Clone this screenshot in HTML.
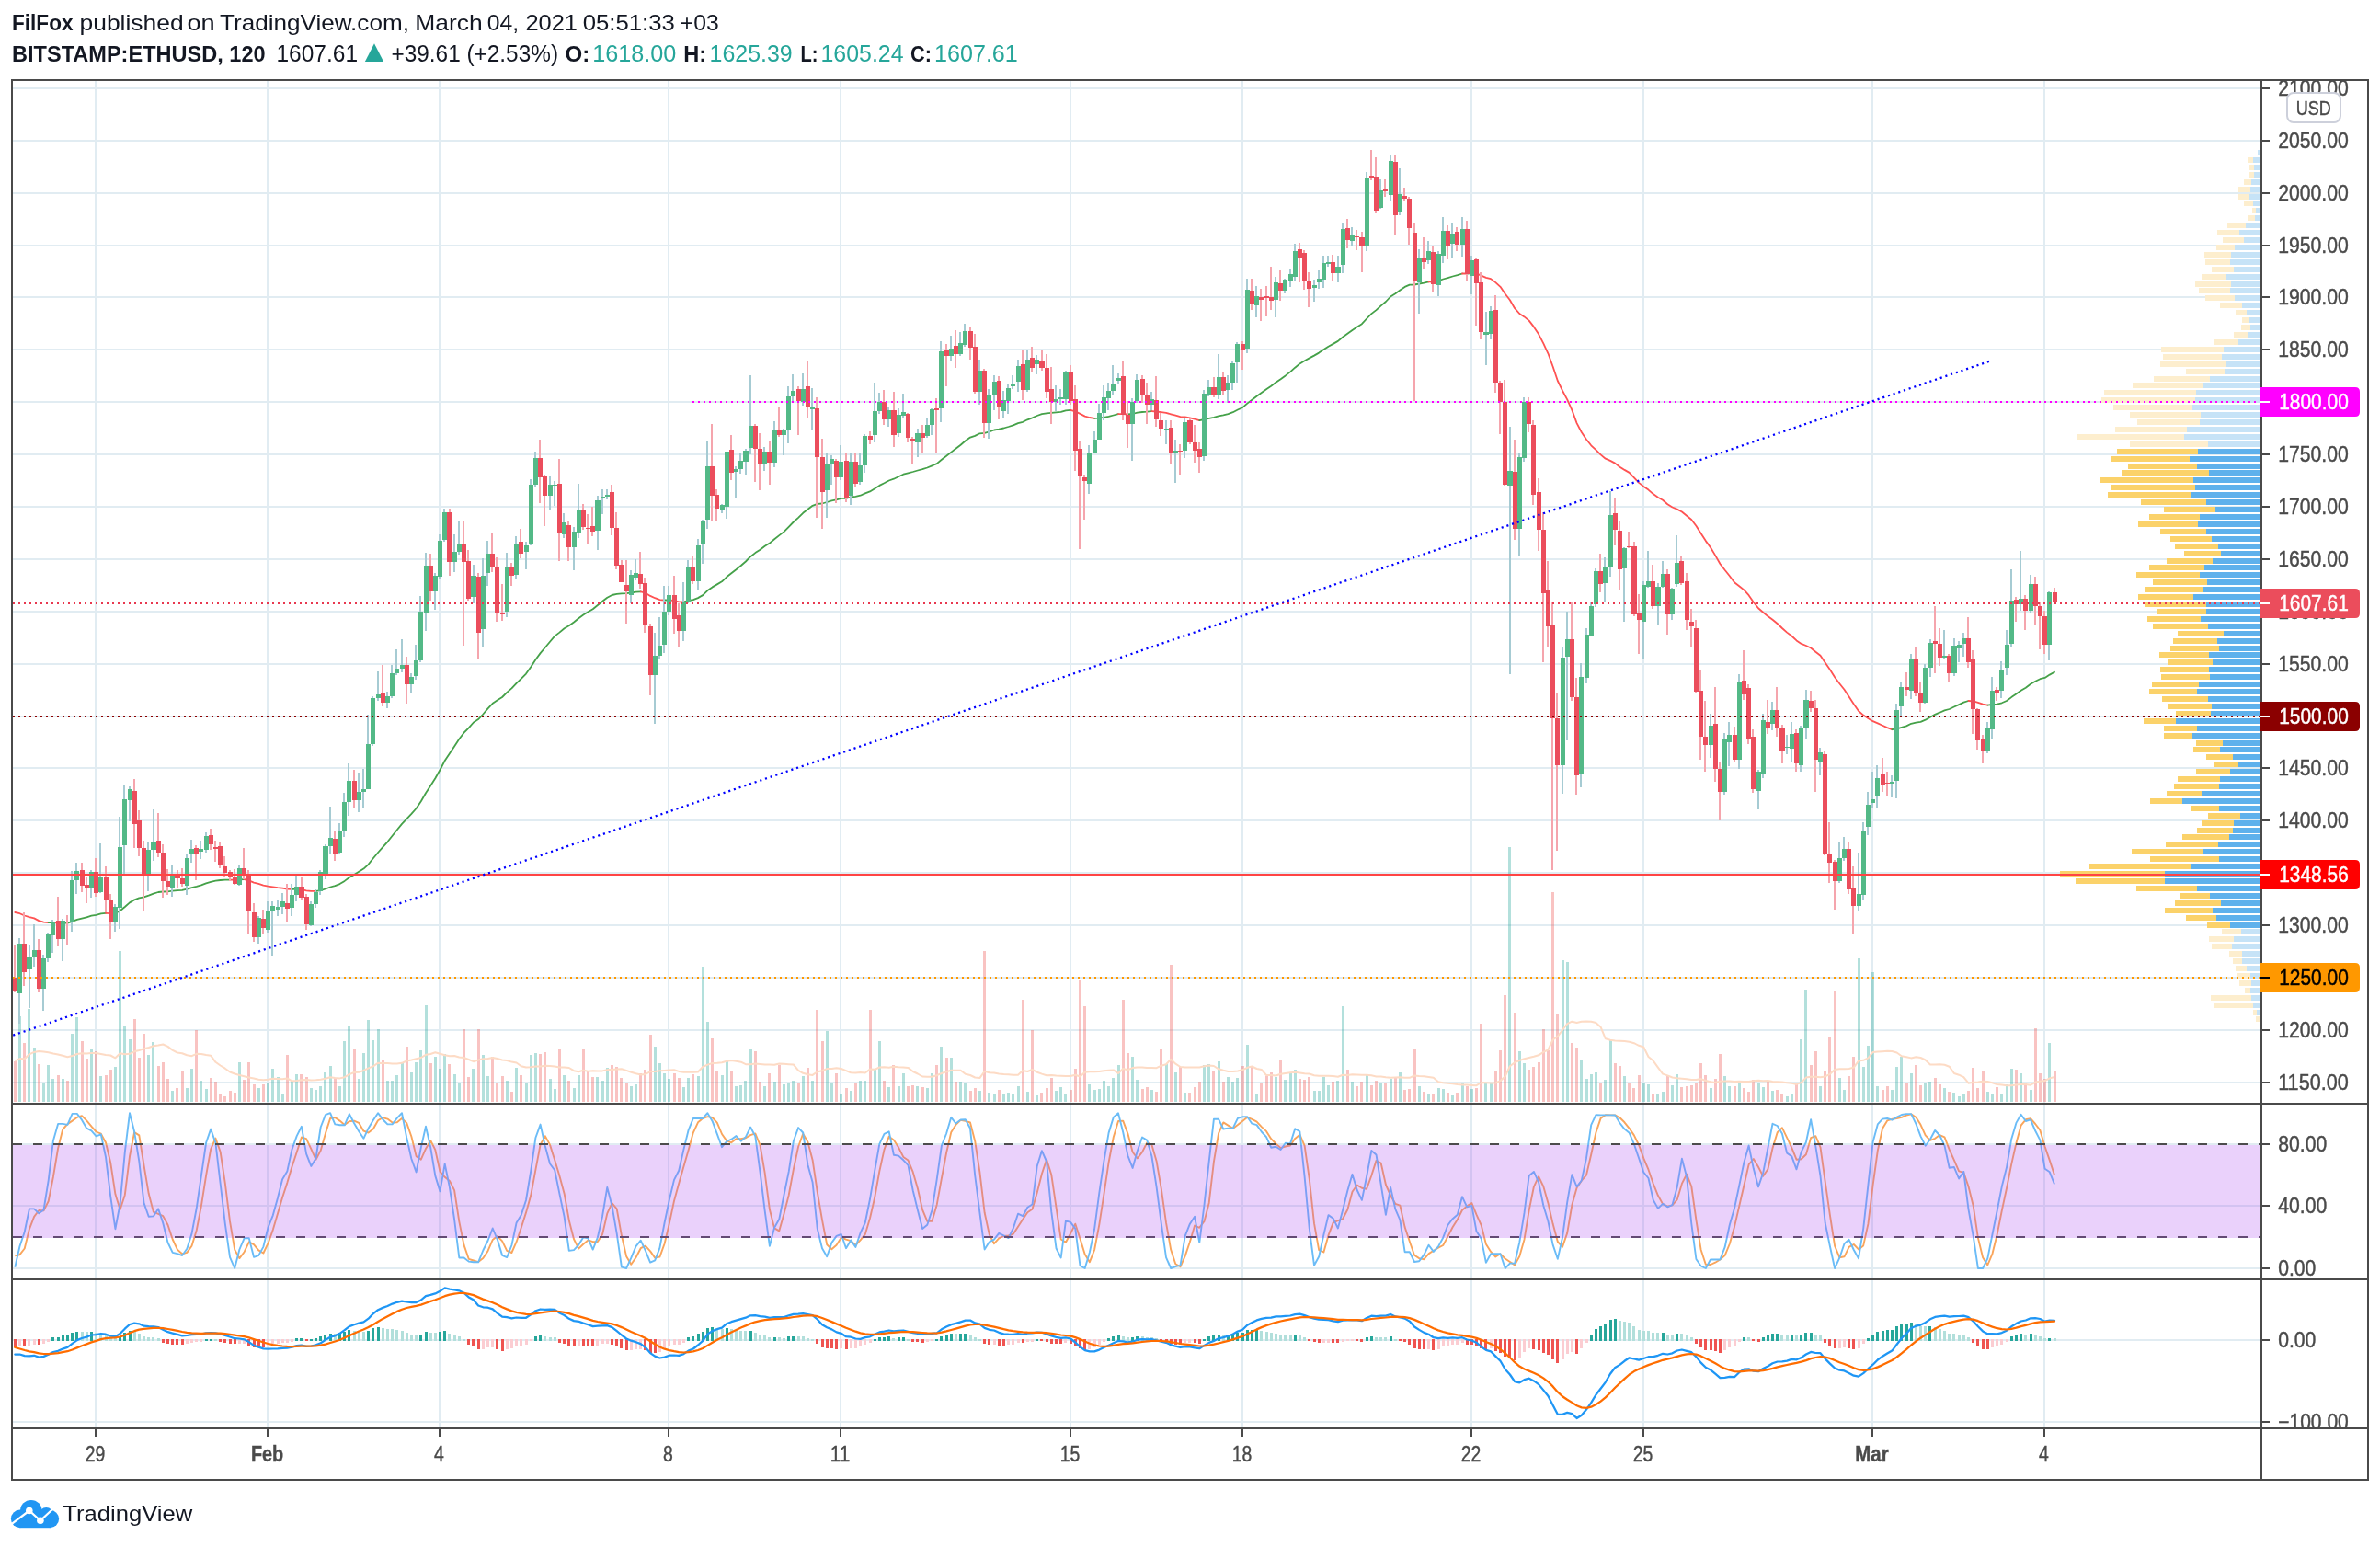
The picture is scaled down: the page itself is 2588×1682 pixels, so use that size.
<!DOCTYPE html>
<html><head><meta charset="utf-8"><title>ETHUSD chart</title>
<style>html,body{margin:0;padding:0;background:#fff;}svg{display:block;will-change:transform;}</style>
</head><body>
<svg width="2588" height="1682" viewBox="0 0 2588 1682" font-family='"Liberation Sans", sans-serif'>
<rect x="0.00" y="0.00" width="2588.00" height="1682.00" fill="#ffffff" />
<defs>
<clipPath id="cm"><rect x="14" y="88" width="2444" height="1111"/></clipPath>
<clipPath id="cs"><rect x="14" y="1201" width="2444" height="189"/></clipPath>
<clipPath id="cd"><rect x="14" y="1392" width="2444" height="160"/></clipPath>
<clipPath id="ca1"><rect x="2460" y="88" width="114" height="1111"/></clipPath>
<clipPath id="ca3"><rect x="2460" y="1392" width="114" height="160"/></clipPath>
</defs>
<g shape-rendering="crispEdges">
<rect x="103.00" y="88.00" width="2.00" height="1464.00" fill="#e1ecf2" />
<rect x="290.00" y="88.00" width="2.00" height="1464.00" fill="#e1ecf2" />
<rect x="477.00" y="88.00" width="2.00" height="1464.00" fill="#e1ecf2" />
<rect x="726.00" y="88.00" width="2.00" height="1464.00" fill="#e1ecf2" />
<rect x="913.00" y="88.00" width="2.00" height="1464.00" fill="#e1ecf2" />
<rect x="1163.00" y="88.00" width="2.00" height="1464.00" fill="#e1ecf2" />
<rect x="1350.00" y="88.00" width="2.00" height="1464.00" fill="#e1ecf2" />
<rect x="1599.00" y="88.00" width="2.00" height="1464.00" fill="#e1ecf2" />
<rect x="1786.00" y="88.00" width="2.00" height="1464.00" fill="#e1ecf2" />
<rect x="2035.00" y="88.00" width="2.00" height="1464.00" fill="#e1ecf2" />
<rect x="2222.00" y="88.00" width="2.00" height="1464.00" fill="#e1ecf2" />
<rect x="14.00" y="1176.00" width="2444.00" height="2.00" fill="#e1ecf2" />
<rect x="14.00" y="1119.00" width="2444.00" height="2.00" fill="#e1ecf2" />
<rect x="14.00" y="1062.00" width="2444.00" height="2.00" fill="#e1ecf2" />
<rect x="14.00" y="1005.00" width="2444.00" height="2.00" fill="#e1ecf2" />
<rect x="14.00" y="948.00" width="2444.00" height="2.00" fill="#e1ecf2" />
<rect x="14.00" y="891.00" width="2444.00" height="2.00" fill="#e1ecf2" />
<rect x="14.00" y="834.00" width="2444.00" height="2.00" fill="#e1ecf2" />
<rect x="14.00" y="778.00" width="2444.00" height="2.00" fill="#e1ecf2" />
<rect x="14.00" y="721.00" width="2444.00" height="2.00" fill="#e1ecf2" />
<rect x="14.00" y="664.00" width="2444.00" height="2.00" fill="#e1ecf2" />
<rect x="14.00" y="607.00" width="2444.00" height="2.00" fill="#e1ecf2" />
<rect x="14.00" y="550.00" width="2444.00" height="2.00" fill="#e1ecf2" />
<rect x="14.00" y="493.00" width="2444.00" height="2.00" fill="#e1ecf2" />
<rect x="14.00" y="436.00" width="2444.00" height="2.00" fill="#e1ecf2" />
<rect x="14.00" y="379.00" width="2444.00" height="2.00" fill="#e1ecf2" />
<rect x="14.00" y="322.00" width="2444.00" height="2.00" fill="#e1ecf2" />
<rect x="14.00" y="266.00" width="2444.00" height="2.00" fill="#e1ecf2" />
<rect x="14.00" y="209.00" width="2444.00" height="2.00" fill="#e1ecf2" />
<rect x="14.00" y="152.00" width="2444.00" height="2.00" fill="#e1ecf2" />
<rect x="14.00" y="95.00" width="2444.00" height="2.00" fill="#e1ecf2" />
<rect x="14.00" y="1378.00" width="2444.00" height="2.00" fill="#e1ecf2" />
<rect x="14.00" y="1310.00" width="2444.00" height="2.00" fill="#e1ecf2" />
<rect x="14.00" y="1243.00" width="2444.00" height="2.00" fill="#e1ecf2" />
<rect x="14.00" y="1456.00" width="2444.00" height="2.00" fill="#e1ecf2" />
<rect x="14.00" y="1545.00" width="2444.00" height="2.00" fill="#e1ecf2" />
</g>
<g clip-path="url(#cm)" shape-rendering="crispEdges">
<rect x="15.00" y="1154.00" width="3.00" height="44.00" fill="rgba(239,83,80,0.35)" />
<rect x="20.00" y="1105.00" width="3.00" height="93.00" fill="rgba(38,166,154,0.35)" />
<rect x="25.00" y="1134.00" width="3.00" height="64.00" fill="rgba(239,83,80,0.35)" />
<rect x="30.00" y="1097.00" width="3.00" height="101.00" fill="rgba(38,166,154,0.35)" />
<rect x="36.00" y="1139.00" width="3.00" height="59.00" fill="rgba(38,166,154,0.35)" />
<rect x="41.00" y="1157.00" width="3.00" height="41.00" fill="rgba(239,83,80,0.35)" />
<rect x="46.00" y="1177.00" width="3.00" height="21.00" fill="rgba(38,166,154,0.35)" />
<rect x="51.00" y="1158.00" width="3.00" height="40.00" fill="rgba(38,166,154,0.35)" />
<rect x="56.00" y="1173.00" width="3.00" height="25.00" fill="rgba(38,166,154,0.35)" />
<rect x="62.00" y="1169.00" width="3.00" height="29.00" fill="rgba(239,83,80,0.35)" />
<rect x="67.00" y="1173.00" width="3.00" height="25.00" fill="rgba(38,166,154,0.35)" />
<rect x="72.00" y="1175.00" width="3.00" height="23.00" fill="rgba(239,83,80,0.35)" />
<rect x="77.00" y="1124.00" width="3.00" height="74.00" fill="rgba(38,166,154,0.35)" />
<rect x="82.00" y="1106.00" width="3.00" height="92.00" fill="rgba(38,166,154,0.35)" />
<rect x="88.00" y="1132.00" width="3.00" height="66.00" fill="rgba(239,83,80,0.35)" />
<rect x="93.00" y="1151.00" width="3.00" height="47.00" fill="rgba(239,83,80,0.35)" />
<rect x="98.00" y="1140.00" width="3.00" height="58.00" fill="rgba(38,166,154,0.35)" />
<rect x="103.00" y="1143.00" width="3.00" height="55.00" fill="rgba(239,83,80,0.35)" />
<rect x="108.00" y="1170.00" width="3.00" height="28.00" fill="rgba(38,166,154,0.35)" />
<rect x="114.00" y="1169.00" width="3.00" height="29.00" fill="rgba(239,83,80,0.35)" />
<rect x="119.00" y="1163.00" width="3.00" height="35.00" fill="rgba(239,83,80,0.35)" />
<rect x="124.00" y="1160.00" width="3.00" height="38.00" fill="rgba(38,166,154,0.35)" />
<rect x="129.00" y="1034.00" width="3.00" height="164.00" fill="rgba(38,166,154,0.35)" />
<rect x="134.00" y="1115.00" width="3.00" height="83.00" fill="rgba(38,166,154,0.35)" />
<rect x="140.00" y="1130.00" width="3.00" height="68.00" fill="rgba(38,166,154,0.35)" />
<rect x="145.00" y="1108.00" width="3.00" height="90.00" fill="rgba(239,83,80,0.35)" />
<rect x="150.00" y="1150.00" width="3.00" height="48.00" fill="rgba(239,83,80,0.35)" />
<rect x="155.00" y="1124.00" width="3.00" height="74.00" fill="rgba(239,83,80,0.35)" />
<rect x="160.00" y="1147.00" width="3.00" height="51.00" fill="rgba(38,166,154,0.35)" />
<rect x="165.00" y="1133.00" width="3.00" height="65.00" fill="rgba(38,166,154,0.35)" />
<rect x="171.00" y="1159.00" width="3.00" height="39.00" fill="rgba(239,83,80,0.35)" />
<rect x="176.00" y="1155.00" width="3.00" height="43.00" fill="rgba(239,83,80,0.35)" />
<rect x="181.00" y="1173.00" width="3.00" height="25.00" fill="rgba(239,83,80,0.35)" />
<rect x="186.00" y="1186.00" width="3.00" height="12.00" fill="rgba(38,166,154,0.35)" />
<rect x="191.00" y="1183.00" width="3.00" height="15.00" fill="rgba(239,83,80,0.35)" />
<rect x="197.00" y="1165.00" width="3.00" height="33.00" fill="rgba(239,83,80,0.35)" />
<rect x="202.00" y="1183.00" width="3.00" height="15.00" fill="rgba(38,166,154,0.35)" />
<rect x="207.00" y="1162.00" width="3.00" height="36.00" fill="rgba(38,166,154,0.35)" />
<rect x="212.00" y="1120.00" width="3.00" height="78.00" fill="rgba(239,83,80,0.35)" />
<rect x="217.00" y="1175.00" width="3.00" height="23.00" fill="rgba(38,166,154,0.35)" />
<rect x="223.00" y="1184.00" width="3.00" height="14.00" fill="rgba(38,166,154,0.35)" />
<rect x="228.00" y="1172.00" width="3.00" height="26.00" fill="rgba(239,83,80,0.35)" />
<rect x="233.00" y="1176.00" width="3.00" height="22.00" fill="rgba(239,83,80,0.35)" />
<rect x="238.00" y="1190.00" width="3.00" height="8.00" fill="rgba(239,83,80,0.35)" />
<rect x="243.00" y="1192.00" width="3.00" height="6.00" fill="rgba(239,83,80,0.35)" />
<rect x="249.00" y="1186.00" width="3.00" height="12.00" fill="rgba(239,83,80,0.35)" />
<rect x="254.00" y="1188.00" width="3.00" height="10.00" fill="rgba(239,83,80,0.35)" />
<rect x="259.00" y="1155.00" width="3.00" height="43.00" fill="rgba(38,166,154,0.35)" />
<rect x="264.00" y="1174.00" width="3.00" height="24.00" fill="rgba(239,83,80,0.35)" />
<rect x="269.00" y="1155.00" width="3.00" height="43.00" fill="rgba(239,83,80,0.35)" />
<rect x="275.00" y="1179.00" width="3.00" height="19.00" fill="rgba(239,83,80,0.35)" />
<rect x="280.00" y="1183.00" width="3.00" height="15.00" fill="rgba(38,166,154,0.35)" />
<rect x="285.00" y="1179.00" width="3.00" height="19.00" fill="rgba(239,83,80,0.35)" />
<rect x="290.00" y="1177.00" width="3.00" height="21.00" fill="rgba(38,166,154,0.35)" />
<rect x="295.00" y="1162.00" width="3.00" height="36.00" fill="rgba(38,166,154,0.35)" />
<rect x="301.00" y="1171.00" width="3.00" height="27.00" fill="rgba(38,166,154,0.35)" />
<rect x="306.00" y="1190.00" width="3.00" height="8.00" fill="rgba(38,166,154,0.35)" />
<rect x="311.00" y="1147.00" width="3.00" height="51.00" fill="rgba(239,83,80,0.35)" />
<rect x="316.00" y="1175.00" width="3.00" height="23.00" fill="rgba(38,166,154,0.35)" />
<rect x="321.00" y="1168.00" width="3.00" height="30.00" fill="rgba(38,166,154,0.35)" />
<rect x="326.00" y="1168.00" width="3.00" height="30.00" fill="rgba(239,83,80,0.35)" />
<rect x="332.00" y="1171.00" width="3.00" height="27.00" fill="rgba(239,83,80,0.35)" />
<rect x="337.00" y="1183.00" width="3.00" height="15.00" fill="rgba(38,166,154,0.35)" />
<rect x="342.00" y="1185.00" width="3.00" height="13.00" fill="rgba(38,166,154,0.35)" />
<rect x="347.00" y="1181.00" width="3.00" height="17.00" fill="rgba(38,166,154,0.35)" />
<rect x="352.00" y="1166.00" width="3.00" height="32.00" fill="rgba(38,166,154,0.35)" />
<rect x="358.00" y="1159.00" width="3.00" height="39.00" fill="rgba(38,166,154,0.35)" />
<rect x="363.00" y="1172.00" width="3.00" height="26.00" fill="rgba(239,83,80,0.35)" />
<rect x="368.00" y="1181.00" width="3.00" height="17.00" fill="rgba(38,166,154,0.35)" />
<rect x="373.00" y="1132.00" width="3.00" height="66.00" fill="rgba(38,166,154,0.35)" />
<rect x="378.00" y="1116.00" width="3.00" height="82.00" fill="rgba(38,166,154,0.35)" />
<rect x="384.00" y="1140.00" width="3.00" height="58.00" fill="rgba(239,83,80,0.35)" />
<rect x="389.00" y="1173.00" width="3.00" height="25.00" fill="rgba(38,166,154,0.35)" />
<rect x="394.00" y="1145.00" width="3.00" height="53.00" fill="rgba(38,166,154,0.35)" />
<rect x="399.00" y="1109.00" width="3.00" height="89.00" fill="rgba(38,166,154,0.35)" />
<rect x="404.00" y="1131.00" width="3.00" height="67.00" fill="rgba(38,166,154,0.35)" />
<rect x="410.00" y="1119.00" width="3.00" height="79.00" fill="rgba(38,166,154,0.35)" />
<rect x="415.00" y="1152.00" width="3.00" height="46.00" fill="rgba(239,83,80,0.35)" />
<rect x="420.00" y="1175.00" width="3.00" height="23.00" fill="rgba(38,166,154,0.35)" />
<rect x="425.00" y="1175.00" width="3.00" height="23.00" fill="rgba(38,166,154,0.35)" />
<rect x="430.00" y="1169.00" width="3.00" height="29.00" fill="rgba(38,166,154,0.35)" />
<rect x="436.00" y="1156.00" width="3.00" height="42.00" fill="rgba(38,166,154,0.35)" />
<rect x="441.00" y="1138.00" width="3.00" height="60.00" fill="rgba(239,83,80,0.35)" />
<rect x="446.00" y="1166.00" width="3.00" height="32.00" fill="rgba(38,166,154,0.35)" />
<rect x="451.00" y="1155.00" width="3.00" height="43.00" fill="rgba(38,166,154,0.35)" />
<rect x="456.00" y="1142.00" width="3.00" height="56.00" fill="rgba(38,166,154,0.35)" />
<rect x="462.00" y="1093.00" width="3.00" height="105.00" fill="rgba(38,166,154,0.35)" />
<rect x="467.00" y="1156.00" width="3.00" height="42.00" fill="rgba(239,83,80,0.35)" />
<rect x="472.00" y="1149.00" width="3.00" height="49.00" fill="rgba(38,166,154,0.35)" />
<rect x="477.00" y="1162.00" width="3.00" height="36.00" fill="rgba(38,166,154,0.35)" />
<rect x="482.00" y="1146.00" width="3.00" height="52.00" fill="rgba(38,166,154,0.35)" />
<rect x="487.00" y="1157.00" width="3.00" height="41.00" fill="rgba(239,83,80,0.35)" />
<rect x="493.00" y="1168.00" width="3.00" height="30.00" fill="rgba(38,166,154,0.35)" />
<rect x="498.00" y="1177.00" width="3.00" height="21.00" fill="rgba(38,166,154,0.35)" />
<rect x="503.00" y="1119.00" width="3.00" height="79.00" fill="rgba(239,83,80,0.35)" />
<rect x="508.00" y="1171.00" width="3.00" height="27.00" fill="rgba(239,83,80,0.35)" />
<rect x="513.00" y="1162.00" width="3.00" height="36.00" fill="rgba(38,166,154,0.35)" />
<rect x="519.00" y="1119.00" width="3.00" height="79.00" fill="rgba(239,83,80,0.35)" />
<rect x="524.00" y="1147.00" width="3.00" height="51.00" fill="rgba(38,166,154,0.35)" />
<rect x="529.00" y="1170.00" width="3.00" height="28.00" fill="rgba(38,166,154,0.35)" />
<rect x="534.00" y="1149.00" width="3.00" height="49.00" fill="rgba(239,83,80,0.35)" />
<rect x="539.00" y="1177.00" width="3.00" height="21.00" fill="rgba(239,83,80,0.35)" />
<rect x="545.00" y="1170.00" width="3.00" height="28.00" fill="rgba(239,83,80,0.35)" />
<rect x="550.00" y="1175.00" width="3.00" height="23.00" fill="rgba(38,166,154,0.35)" />
<rect x="555.00" y="1187.00" width="3.00" height="11.00" fill="rgba(239,83,80,0.35)" />
<rect x="560.00" y="1161.00" width="3.00" height="37.00" fill="rgba(38,166,154,0.35)" />
<rect x="565.00" y="1169.00" width="3.00" height="29.00" fill="rgba(239,83,80,0.35)" />
<rect x="571.00" y="1177.00" width="3.00" height="21.00" fill="rgba(38,166,154,0.35)" />
<rect x="576.00" y="1147.00" width="3.00" height="51.00" fill="rgba(38,166,154,0.35)" />
<rect x="581.00" y="1145.00" width="3.00" height="53.00" fill="rgba(38,166,154,0.35)" />
<rect x="586.00" y="1146.00" width="3.00" height="52.00" fill="rgba(239,83,80,0.35)" />
<rect x="591.00" y="1144.00" width="3.00" height="54.00" fill="rgba(239,83,80,0.35)" />
<rect x="597.00" y="1173.00" width="3.00" height="25.00" fill="rgba(38,166,154,0.35)" />
<rect x="602.00" y="1184.00" width="3.00" height="14.00" fill="rgba(38,166,154,0.35)" />
<rect x="607.00" y="1141.00" width="3.00" height="57.00" fill="rgba(239,83,80,0.35)" />
<rect x="612.00" y="1169.00" width="3.00" height="29.00" fill="rgba(38,166,154,0.35)" />
<rect x="617.00" y="1175.00" width="3.00" height="23.00" fill="rgba(239,83,80,0.35)" />
<rect x="623.00" y="1183.00" width="3.00" height="15.00" fill="rgba(38,166,154,0.35)" />
<rect x="628.00" y="1169.00" width="3.00" height="29.00" fill="rgba(38,166,154,0.35)" />
<rect x="633.00" y="1140.00" width="3.00" height="58.00" fill="rgba(239,83,80,0.35)" />
<rect x="638.00" y="1165.00" width="3.00" height="33.00" fill="rgba(239,83,80,0.35)" />
<rect x="643.00" y="1171.00" width="3.00" height="27.00" fill="rgba(239,83,80,0.35)" />
<rect x="648.00" y="1171.00" width="3.00" height="27.00" fill="rgba(38,166,154,0.35)" />
<rect x="654.00" y="1175.00" width="3.00" height="23.00" fill="rgba(38,166,154,0.35)" />
<rect x="659.00" y="1161.00" width="3.00" height="37.00" fill="rgba(38,166,154,0.35)" />
<rect x="664.00" y="1158.00" width="3.00" height="40.00" fill="rgba(239,83,80,0.35)" />
<rect x="669.00" y="1160.00" width="3.00" height="38.00" fill="rgba(239,83,80,0.35)" />
<rect x="674.00" y="1172.00" width="3.00" height="26.00" fill="rgba(239,83,80,0.35)" />
<rect x="680.00" y="1178.00" width="3.00" height="20.00" fill="rgba(239,83,80,0.35)" />
<rect x="685.00" y="1181.00" width="3.00" height="17.00" fill="rgba(38,166,154,0.35)" />
<rect x="690.00" y="1179.00" width="3.00" height="19.00" fill="rgba(38,166,154,0.35)" />
<rect x="695.00" y="1167.00" width="3.00" height="31.00" fill="rgba(239,83,80,0.35)" />
<rect x="700.00" y="1163.00" width="3.00" height="35.00" fill="rgba(239,83,80,0.35)" />
<rect x="706.00" y="1125.00" width="3.00" height="73.00" fill="rgba(239,83,80,0.35)" />
<rect x="711.00" y="1138.00" width="3.00" height="60.00" fill="rgba(38,166,154,0.35)" />
<rect x="716.00" y="1156.00" width="3.00" height="42.00" fill="rgba(38,166,154,0.35)" />
<rect x="721.00" y="1167.00" width="3.00" height="31.00" fill="rgba(38,166,154,0.35)" />
<rect x="726.00" y="1173.00" width="3.00" height="25.00" fill="rgba(38,166,154,0.35)" />
<rect x="732.00" y="1167.00" width="3.00" height="31.00" fill="rgba(239,83,80,0.35)" />
<rect x="737.00" y="1172.00" width="3.00" height="26.00" fill="rgba(239,83,80,0.35)" />
<rect x="742.00" y="1182.00" width="3.00" height="16.00" fill="rgba(38,166,154,0.35)" />
<rect x="747.00" y="1172.00" width="3.00" height="26.00" fill="rgba(38,166,154,0.35)" />
<rect x="752.00" y="1168.00" width="3.00" height="30.00" fill="rgba(239,83,80,0.35)" />
<rect x="758.00" y="1170.00" width="3.00" height="28.00" fill="rgba(38,166,154,0.35)" />
<rect x="763.00" y="1051.00" width="3.00" height="147.00" fill="rgba(38,166,154,0.35)" />
<rect x="768.00" y="1111.00" width="3.00" height="87.00" fill="rgba(38,166,154,0.35)" />
<rect x="773.00" y="1129.00" width="3.00" height="69.00" fill="rgba(239,83,80,0.35)" />
<rect x="778.00" y="1164.00" width="3.00" height="34.00" fill="rgba(239,83,80,0.35)" />
<rect x="784.00" y="1169.00" width="3.00" height="29.00" fill="rgba(38,166,154,0.35)" />
<rect x="789.00" y="1154.00" width="3.00" height="44.00" fill="rgba(38,166,154,0.35)" />
<rect x="794.00" y="1164.00" width="3.00" height="34.00" fill="rgba(239,83,80,0.35)" />
<rect x="799.00" y="1181.00" width="3.00" height="17.00" fill="rgba(38,166,154,0.35)" />
<rect x="804.00" y="1180.00" width="3.00" height="18.00" fill="rgba(38,166,154,0.35)" />
<rect x="809.00" y="1175.00" width="3.00" height="23.00" fill="rgba(38,166,154,0.35)" />
<rect x="815.00" y="1140.00" width="3.00" height="58.00" fill="rgba(38,166,154,0.35)" />
<rect x="820.00" y="1143.00" width="3.00" height="55.00" fill="rgba(239,83,80,0.35)" />
<rect x="825.00" y="1176.00" width="3.00" height="22.00" fill="rgba(239,83,80,0.35)" />
<rect x="830.00" y="1181.00" width="3.00" height="17.00" fill="rgba(38,166,154,0.35)" />
<rect x="835.00" y="1167.00" width="3.00" height="31.00" fill="rgba(239,83,80,0.35)" />
<rect x="841.00" y="1176.00" width="3.00" height="22.00" fill="rgba(38,166,154,0.35)" />
<rect x="846.00" y="1158.00" width="3.00" height="40.00" fill="rgba(239,83,80,0.35)" />
<rect x="851.00" y="1179.00" width="3.00" height="19.00" fill="rgba(38,166,154,0.35)" />
<rect x="856.00" y="1177.00" width="3.00" height="21.00" fill="rgba(38,166,154,0.35)" />
<rect x="861.00" y="1175.00" width="3.00" height="23.00" fill="rgba(38,166,154,0.35)" />
<rect x="867.00" y="1177.00" width="3.00" height="21.00" fill="rgba(239,83,80,0.35)" />
<rect x="872.00" y="1170.00" width="3.00" height="28.00" fill="rgba(38,166,154,0.35)" />
<rect x="877.00" y="1161.00" width="3.00" height="37.00" fill="rgba(239,83,80,0.35)" />
<rect x="882.00" y="1175.00" width="3.00" height="23.00" fill="rgba(38,166,154,0.35)" />
<rect x="887.00" y="1098.00" width="3.00" height="100.00" fill="rgba(239,83,80,0.35)" />
<rect x="893.00" y="1132.00" width="3.00" height="66.00" fill="rgba(239,83,80,0.35)" />
<rect x="898.00" y="1121.00" width="3.00" height="77.00" fill="rgba(38,166,154,0.35)" />
<rect x="903.00" y="1177.00" width="3.00" height="21.00" fill="rgba(38,166,154,0.35)" />
<rect x="908.00" y="1167.00" width="3.00" height="31.00" fill="rgba(239,83,80,0.35)" />
<rect x="913.00" y="1190.00" width="3.00" height="8.00" fill="rgba(38,166,154,0.35)" />
<rect x="919.00" y="1183.00" width="3.00" height="15.00" fill="rgba(239,83,80,0.35)" />
<rect x="924.00" y="1186.00" width="3.00" height="12.00" fill="rgba(38,166,154,0.35)" />
<rect x="929.00" y="1178.00" width="3.00" height="20.00" fill="rgba(239,83,80,0.35)" />
<rect x="934.00" y="1175.00" width="3.00" height="23.00" fill="rgba(38,166,154,0.35)" />
<rect x="939.00" y="1175.00" width="3.00" height="23.00" fill="rgba(38,166,154,0.35)" />
<rect x="945.00" y="1098.00" width="3.00" height="100.00" fill="rgba(239,83,80,0.35)" />
<rect x="950.00" y="1162.00" width="3.00" height="36.00" fill="rgba(38,166,154,0.35)" />
<rect x="955.00" y="1132.00" width="3.00" height="66.00" fill="rgba(38,166,154,0.35)" />
<rect x="960.00" y="1175.00" width="3.00" height="23.00" fill="rgba(239,83,80,0.35)" />
<rect x="965.00" y="1182.00" width="3.00" height="16.00" fill="rgba(38,166,154,0.35)" />
<rect x="970.00" y="1158.00" width="3.00" height="40.00" fill="rgba(239,83,80,0.35)" />
<rect x="976.00" y="1181.00" width="3.00" height="17.00" fill="rgba(38,166,154,0.35)" />
<rect x="981.00" y="1167.00" width="3.00" height="31.00" fill="rgba(38,166,154,0.35)" />
<rect x="986.00" y="1181.00" width="3.00" height="17.00" fill="rgba(239,83,80,0.35)" />
<rect x="991.00" y="1180.00" width="3.00" height="18.00" fill="rgba(239,83,80,0.35)" />
<rect x="996.00" y="1181.00" width="3.00" height="17.00" fill="rgba(38,166,154,0.35)" />
<rect x="1002.00" y="1182.00" width="3.00" height="16.00" fill="rgba(239,83,80,0.35)" />
<rect x="1007.00" y="1183.00" width="3.00" height="15.00" fill="rgba(38,166,154,0.35)" />
<rect x="1012.00" y="1167.00" width="3.00" height="31.00" fill="rgba(38,166,154,0.35)" />
<rect x="1017.00" y="1158.00" width="3.00" height="40.00" fill="rgba(239,83,80,0.35)" />
<rect x="1022.00" y="1138.00" width="3.00" height="60.00" fill="rgba(38,166,154,0.35)" />
<rect x="1028.00" y="1150.00" width="3.00" height="48.00" fill="rgba(239,83,80,0.35)" />
<rect x="1033.00" y="1150.00" width="3.00" height="48.00" fill="rgba(38,166,154,0.35)" />
<rect x="1038.00" y="1176.00" width="3.00" height="22.00" fill="rgba(239,83,80,0.35)" />
<rect x="1043.00" y="1176.00" width="3.00" height="22.00" fill="rgba(38,166,154,0.35)" />
<rect x="1048.00" y="1177.00" width="3.00" height="21.00" fill="rgba(38,166,154,0.35)" />
<rect x="1054.00" y="1186.00" width="3.00" height="12.00" fill="rgba(239,83,80,0.35)" />
<rect x="1059.00" y="1183.00" width="3.00" height="15.00" fill="rgba(239,83,80,0.35)" />
<rect x="1064.00" y="1186.00" width="3.00" height="12.00" fill="rgba(38,166,154,0.35)" />
<rect x="1069.00" y="1034.00" width="3.00" height="164.00" fill="rgba(239,83,80,0.35)" />
<rect x="1074.00" y="1188.00" width="3.00" height="10.00" fill="rgba(38,166,154,0.35)" />
<rect x="1080.00" y="1189.00" width="3.00" height="9.00" fill="rgba(38,166,154,0.35)" />
<rect x="1085.00" y="1185.00" width="3.00" height="13.00" fill="rgba(239,83,80,0.35)" />
<rect x="1090.00" y="1190.00" width="3.00" height="8.00" fill="rgba(38,166,154,0.35)" />
<rect x="1095.00" y="1188.00" width="3.00" height="10.00" fill="rgba(38,166,154,0.35)" />
<rect x="1100.00" y="1190.00" width="3.00" height="8.00" fill="rgba(38,166,154,0.35)" />
<rect x="1106.00" y="1181.00" width="3.00" height="17.00" fill="rgba(38,166,154,0.35)" />
<rect x="1111.00" y="1087.00" width="3.00" height="111.00" fill="rgba(239,83,80,0.35)" />
<rect x="1116.00" y="1187.00" width="3.00" height="11.00" fill="rgba(38,166,154,0.35)" />
<rect x="1121.00" y="1120.00" width="3.00" height="78.00" fill="rgba(239,83,80,0.35)" />
<rect x="1126.00" y="1191.00" width="3.00" height="7.00" fill="rgba(38,166,154,0.35)" />
<rect x="1131.00" y="1188.00" width="3.00" height="10.00" fill="rgba(239,83,80,0.35)" />
<rect x="1137.00" y="1183.00" width="3.00" height="15.00" fill="rgba(239,83,80,0.35)" />
<rect x="1142.00" y="1172.00" width="3.00" height="26.00" fill="rgba(239,83,80,0.35)" />
<rect x="1147.00" y="1186.00" width="3.00" height="12.00" fill="rgba(38,166,154,0.35)" />
<rect x="1152.00" y="1182.00" width="3.00" height="16.00" fill="rgba(38,166,154,0.35)" />
<rect x="1157.00" y="1189.00" width="3.00" height="9.00" fill="rgba(38,166,154,0.35)" />
<rect x="1163.00" y="1185.00" width="3.00" height="13.00" fill="rgba(239,83,80,0.35)" />
<rect x="1168.00" y="1162.00" width="3.00" height="36.00" fill="rgba(239,83,80,0.35)" />
<rect x="1173.00" y="1066.00" width="3.00" height="132.00" fill="rgba(239,83,80,0.35)" />
<rect x="1178.00" y="1094.00" width="3.00" height="104.00" fill="rgba(239,83,80,0.35)" />
<rect x="1183.00" y="1179.00" width="3.00" height="19.00" fill="rgba(38,166,154,0.35)" />
<rect x="1189.00" y="1185.00" width="3.00" height="13.00" fill="rgba(38,166,154,0.35)" />
<rect x="1194.00" y="1184.00" width="3.00" height="14.00" fill="rgba(38,166,154,0.35)" />
<rect x="1199.00" y="1175.00" width="3.00" height="23.00" fill="rgba(38,166,154,0.35)" />
<rect x="1204.00" y="1181.00" width="3.00" height="17.00" fill="rgba(38,166,154,0.35)" />
<rect x="1209.00" y="1172.00" width="3.00" height="26.00" fill="rgba(38,166,154,0.35)" />
<rect x="1215.00" y="1158.00" width="3.00" height="40.00" fill="rgba(38,166,154,0.35)" />
<rect x="1220.00" y="1087.00" width="3.00" height="111.00" fill="rgba(239,83,80,0.35)" />
<rect x="1225.00" y="1145.00" width="3.00" height="53.00" fill="rgba(239,83,80,0.35)" />
<rect x="1230.00" y="1149.00" width="3.00" height="49.00" fill="rgba(38,166,154,0.35)" />
<rect x="1235.00" y="1174.00" width="3.00" height="24.00" fill="rgba(38,166,154,0.35)" />
<rect x="1241.00" y="1184.00" width="3.00" height="14.00" fill="rgba(239,83,80,0.35)" />
<rect x="1246.00" y="1182.00" width="3.00" height="16.00" fill="rgba(239,83,80,0.35)" />
<rect x="1251.00" y="1185.00" width="3.00" height="13.00" fill="rgba(38,166,154,0.35)" />
<rect x="1256.00" y="1187.00" width="3.00" height="11.00" fill="rgba(239,83,80,0.35)" />
<rect x="1261.00" y="1140.00" width="3.00" height="58.00" fill="rgba(239,83,80,0.35)" />
<rect x="1267.00" y="1157.00" width="3.00" height="41.00" fill="rgba(38,166,154,0.35)" />
<rect x="1272.00" y="1049.00" width="3.00" height="149.00" fill="rgba(239,83,80,0.35)" />
<rect x="1277.00" y="1166.00" width="3.00" height="32.00" fill="rgba(38,166,154,0.35)" />
<rect x="1282.00" y="1160.00" width="3.00" height="38.00" fill="rgba(239,83,80,0.35)" />
<rect x="1287.00" y="1188.00" width="3.00" height="10.00" fill="rgba(38,166,154,0.35)" />
<rect x="1292.00" y="1188.00" width="3.00" height="10.00" fill="rgba(239,83,80,0.35)" />
<rect x="1298.00" y="1182.00" width="3.00" height="16.00" fill="rgba(239,83,80,0.35)" />
<rect x="1303.00" y="1176.00" width="3.00" height="22.00" fill="rgba(239,83,80,0.35)" />
<rect x="1308.00" y="1158.00" width="3.00" height="40.00" fill="rgba(38,166,154,0.35)" />
<rect x="1313.00" y="1157.00" width="3.00" height="41.00" fill="rgba(38,166,154,0.35)" />
<rect x="1318.00" y="1165.00" width="3.00" height="33.00" fill="rgba(239,83,80,0.35)" />
<rect x="1324.00" y="1154.00" width="3.00" height="44.00" fill="rgba(38,166,154,0.35)" />
<rect x="1329.00" y="1176.00" width="3.00" height="22.00" fill="rgba(239,83,80,0.35)" />
<rect x="1334.00" y="1171.00" width="3.00" height="27.00" fill="rgba(38,166,154,0.35)" />
<rect x="1339.00" y="1176.00" width="3.00" height="22.00" fill="rgba(38,166,154,0.35)" />
<rect x="1344.00" y="1172.00" width="3.00" height="26.00" fill="rgba(38,166,154,0.35)" />
<rect x="1350.00" y="1159.00" width="3.00" height="39.00" fill="rgba(239,83,80,0.35)" />
<rect x="1355.00" y="1136.00" width="3.00" height="62.00" fill="rgba(38,166,154,0.35)" />
<rect x="1360.00" y="1160.00" width="3.00" height="38.00" fill="rgba(239,83,80,0.35)" />
<rect x="1365.00" y="1189.00" width="3.00" height="9.00" fill="rgba(38,166,154,0.35)" />
<rect x="1370.00" y="1177.00" width="3.00" height="21.00" fill="rgba(239,83,80,0.35)" />
<rect x="1376.00" y="1170.00" width="3.00" height="28.00" fill="rgba(239,83,80,0.35)" />
<rect x="1381.00" y="1166.00" width="3.00" height="32.00" fill="rgba(239,83,80,0.35)" />
<rect x="1386.00" y="1171.00" width="3.00" height="27.00" fill="rgba(38,166,154,0.35)" />
<rect x="1391.00" y="1153.00" width="3.00" height="45.00" fill="rgba(239,83,80,0.35)" />
<rect x="1396.00" y="1174.00" width="3.00" height="24.00" fill="rgba(38,166,154,0.35)" />
<rect x="1402.00" y="1166.00" width="3.00" height="32.00" fill="rgba(38,166,154,0.35)" />
<rect x="1407.00" y="1163.00" width="3.00" height="35.00" fill="rgba(38,166,154,0.35)" />
<rect x="1412.00" y="1173.00" width="3.00" height="25.00" fill="rgba(239,83,80,0.35)" />
<rect x="1417.00" y="1174.00" width="3.00" height="24.00" fill="rgba(239,83,80,0.35)" />
<rect x="1422.00" y="1171.00" width="3.00" height="27.00" fill="rgba(239,83,80,0.35)" />
<rect x="1428.00" y="1186.00" width="3.00" height="12.00" fill="rgba(38,166,154,0.35)" />
<rect x="1433.00" y="1186.00" width="3.00" height="12.00" fill="rgba(38,166,154,0.35)" />
<rect x="1438.00" y="1171.00" width="3.00" height="27.00" fill="rgba(38,166,154,0.35)" />
<rect x="1443.00" y="1180.00" width="3.00" height="18.00" fill="rgba(38,166,154,0.35)" />
<rect x="1448.00" y="1176.00" width="3.00" height="22.00" fill="rgba(239,83,80,0.35)" />
<rect x="1453.00" y="1175.00" width="3.00" height="23.00" fill="rgba(38,166,154,0.35)" />
<rect x="1459.00" y="1094.00" width="3.00" height="104.00" fill="rgba(38,166,154,0.35)" />
<rect x="1464.00" y="1163.00" width="3.00" height="35.00" fill="rgba(239,83,80,0.35)" />
<rect x="1469.00" y="1176.00" width="3.00" height="22.00" fill="rgba(38,166,154,0.35)" />
<rect x="1474.00" y="1181.00" width="3.00" height="17.00" fill="rgba(239,83,80,0.35)" />
<rect x="1479.00" y="1176.00" width="3.00" height="22.00" fill="rgba(239,83,80,0.35)" />
<rect x="1485.00" y="1168.00" width="3.00" height="30.00" fill="rgba(38,166,154,0.35)" />
<rect x="1490.00" y="1180.00" width="3.00" height="18.00" fill="rgba(239,83,80,0.35)" />
<rect x="1495.00" y="1175.00" width="3.00" height="23.00" fill="rgba(239,83,80,0.35)" />
<rect x="1500.00" y="1177.00" width="3.00" height="21.00" fill="rgba(38,166,154,0.35)" />
<rect x="1505.00" y="1178.00" width="3.00" height="20.00" fill="rgba(239,83,80,0.35)" />
<rect x="1511.00" y="1173.00" width="3.00" height="25.00" fill="rgba(38,166,154,0.35)" />
<rect x="1516.00" y="1171.00" width="3.00" height="27.00" fill="rgba(239,83,80,0.35)" />
<rect x="1521.00" y="1166.00" width="3.00" height="32.00" fill="rgba(38,166,154,0.35)" />
<rect x="1526.00" y="1185.00" width="3.00" height="13.00" fill="rgba(239,83,80,0.35)" />
<rect x="1531.00" y="1184.00" width="3.00" height="14.00" fill="rgba(239,83,80,0.35)" />
<rect x="1537.00" y="1141.00" width="3.00" height="57.00" fill="rgba(239,83,80,0.35)" />
<rect x="1542.00" y="1181.00" width="3.00" height="17.00" fill="rgba(38,166,154,0.35)" />
<rect x="1547.00" y="1187.00" width="3.00" height="11.00" fill="rgba(239,83,80,0.35)" />
<rect x="1552.00" y="1189.00" width="3.00" height="9.00" fill="rgba(38,166,154,0.35)" />
<rect x="1557.00" y="1190.00" width="3.00" height="8.00" fill="rgba(239,83,80,0.35)" />
<rect x="1563.00" y="1183.00" width="3.00" height="15.00" fill="rgba(38,166,154,0.35)" />
<rect x="1568.00" y="1184.00" width="3.00" height="14.00" fill="rgba(38,166,154,0.35)" />
<rect x="1573.00" y="1188.00" width="3.00" height="10.00" fill="rgba(239,83,80,0.35)" />
<rect x="1578.00" y="1191.00" width="3.00" height="7.00" fill="rgba(38,166,154,0.35)" />
<rect x="1583.00" y="1188.00" width="3.00" height="10.00" fill="rgba(239,83,80,0.35)" />
<rect x="1589.00" y="1177.00" width="3.00" height="21.00" fill="rgba(38,166,154,0.35)" />
<rect x="1594.00" y="1181.00" width="3.00" height="17.00" fill="rgba(239,83,80,0.35)" />
<rect x="1599.00" y="1184.00" width="3.00" height="14.00" fill="rgba(38,166,154,0.35)" />
<rect x="1604.00" y="1183.00" width="3.00" height="15.00" fill="rgba(239,83,80,0.35)" />
<rect x="1609.00" y="1113.00" width="3.00" height="85.00" fill="rgba(239,83,80,0.35)" />
<rect x="1614.00" y="1177.00" width="3.00" height="21.00" fill="rgba(38,166,154,0.35)" />
<rect x="1620.00" y="1177.00" width="3.00" height="21.00" fill="rgba(38,166,154,0.35)" />
<rect x="1625.00" y="1165.00" width="3.00" height="33.00" fill="rgba(239,83,80,0.35)" />
<rect x="1630.00" y="1142.00" width="3.00" height="56.00" fill="rgba(239,83,80,0.35)" />
<rect x="1635.00" y="1082.00" width="3.00" height="116.00" fill="rgba(239,83,80,0.35)" />
<rect x="1640.00" y="921.00" width="3.00" height="277.00" fill="rgba(38,166,154,0.35)" />
<rect x="1646.00" y="1101.00" width="3.00" height="97.00" fill="rgba(239,83,80,0.35)" />
<rect x="1651.00" y="1143.00" width="3.00" height="55.00" fill="rgba(38,166,154,0.35)" />
<rect x="1656.00" y="1156.00" width="3.00" height="42.00" fill="rgba(38,166,154,0.35)" />
<rect x="1661.00" y="1163.00" width="3.00" height="35.00" fill="rgba(239,83,80,0.35)" />
<rect x="1666.00" y="1160.00" width="3.00" height="38.00" fill="rgba(239,83,80,0.35)" />
<rect x="1672.00" y="1155.00" width="3.00" height="43.00" fill="rgba(239,83,80,0.35)" />
<rect x="1677.00" y="1119.00" width="3.00" height="79.00" fill="rgba(239,83,80,0.35)" />
<rect x="1682.00" y="1142.00" width="3.00" height="56.00" fill="rgba(239,83,80,0.35)" />
<rect x="1687.00" y="970.00" width="3.00" height="228.00" fill="rgba(239,83,80,0.35)" />
<rect x="1692.00" y="1103.00" width="3.00" height="95.00" fill="rgba(239,83,80,0.35)" />
<rect x="1698.00" y="1044.00" width="3.00" height="154.00" fill="rgba(38,166,154,0.35)" />
<rect x="1703.00" y="1046.00" width="3.00" height="152.00" fill="rgba(38,166,154,0.35)" />
<rect x="1708.00" y="1134.00" width="3.00" height="64.00" fill="rgba(239,83,80,0.35)" />
<rect x="1713.00" y="1139.00" width="3.00" height="59.00" fill="rgba(239,83,80,0.35)" />
<rect x="1718.00" y="1153.00" width="3.00" height="45.00" fill="rgba(38,166,154,0.35)" />
<rect x="1724.00" y="1173.00" width="3.00" height="25.00" fill="rgba(38,166,154,0.35)" />
<rect x="1729.00" y="1168.00" width="3.00" height="30.00" fill="rgba(38,166,154,0.35)" />
<rect x="1734.00" y="1166.00" width="3.00" height="32.00" fill="rgba(38,166,154,0.35)" />
<rect x="1739.00" y="1177.00" width="3.00" height="21.00" fill="rgba(239,83,80,0.35)" />
<rect x="1744.00" y="1174.00" width="3.00" height="24.00" fill="rgba(38,166,154,0.35)" />
<rect x="1750.00" y="1131.00" width="3.00" height="67.00" fill="rgba(38,166,154,0.35)" />
<rect x="1755.00" y="1156.00" width="3.00" height="42.00" fill="rgba(239,83,80,0.35)" />
<rect x="1760.00" y="1159.00" width="3.00" height="39.00" fill="rgba(239,83,80,0.35)" />
<rect x="1765.00" y="1170.00" width="3.00" height="28.00" fill="rgba(38,166,154,0.35)" />
<rect x="1770.00" y="1177.00" width="3.00" height="21.00" fill="rgba(239,83,80,0.35)" />
<rect x="1775.00" y="1183.00" width="3.00" height="15.00" fill="rgba(239,83,80,0.35)" />
<rect x="1781.00" y="1169.00" width="3.00" height="29.00" fill="rgba(239,83,80,0.35)" />
<rect x="1786.00" y="1178.00" width="3.00" height="20.00" fill="rgba(38,166,154,0.35)" />
<rect x="1791.00" y="1179.00" width="3.00" height="19.00" fill="rgba(38,166,154,0.35)" />
<rect x="1796.00" y="1190.00" width="3.00" height="8.00" fill="rgba(239,83,80,0.35)" />
<rect x="1801.00" y="1189.00" width="3.00" height="9.00" fill="rgba(38,166,154,0.35)" />
<rect x="1807.00" y="1187.00" width="3.00" height="11.00" fill="rgba(38,166,154,0.35)" />
<rect x="1812.00" y="1170.00" width="3.00" height="28.00" fill="rgba(239,83,80,0.35)" />
<rect x="1817.00" y="1180.00" width="3.00" height="18.00" fill="rgba(38,166,154,0.35)" />
<rect x="1822.00" y="1168.00" width="3.00" height="30.00" fill="rgba(38,166,154,0.35)" />
<rect x="1827.00" y="1182.00" width="3.00" height="16.00" fill="rgba(239,83,80,0.35)" />
<rect x="1833.00" y="1181.00" width="3.00" height="17.00" fill="rgba(239,83,80,0.35)" />
<rect x="1838.00" y="1180.00" width="3.00" height="18.00" fill="rgba(239,83,80,0.35)" />
<rect x="1843.00" y="1177.00" width="3.00" height="21.00" fill="rgba(239,83,80,0.35)" />
<rect x="1848.00" y="1156.00" width="3.00" height="42.00" fill="rgba(239,83,80,0.35)" />
<rect x="1853.00" y="1169.00" width="3.00" height="29.00" fill="rgba(239,83,80,0.35)" />
<rect x="1859.00" y="1183.00" width="3.00" height="15.00" fill="rgba(38,166,154,0.35)" />
<rect x="1864.00" y="1173.00" width="3.00" height="25.00" fill="rgba(239,83,80,0.35)" />
<rect x="1869.00" y="1146.00" width="3.00" height="52.00" fill="rgba(239,83,80,0.35)" />
<rect x="1874.00" y="1170.00" width="3.00" height="28.00" fill="rgba(38,166,154,0.35)" />
<rect x="1879.00" y="1181.00" width="3.00" height="17.00" fill="rgba(38,166,154,0.35)" />
<rect x="1885.00" y="1181.00" width="3.00" height="17.00" fill="rgba(239,83,80,0.35)" />
<rect x="1890.00" y="1175.00" width="3.00" height="23.00" fill="rgba(38,166,154,0.35)" />
<rect x="1895.00" y="1183.00" width="3.00" height="15.00" fill="rgba(239,83,80,0.35)" />
<rect x="1900.00" y="1187.00" width="3.00" height="11.00" fill="rgba(239,83,80,0.35)" />
<rect x="1905.00" y="1174.00" width="3.00" height="24.00" fill="rgba(239,83,80,0.35)" />
<rect x="1911.00" y="1178.00" width="3.00" height="20.00" fill="rgba(38,166,154,0.35)" />
<rect x="1916.00" y="1182.00" width="3.00" height="16.00" fill="rgba(38,166,154,0.35)" />
<rect x="1921.00" y="1176.00" width="3.00" height="22.00" fill="rgba(239,83,80,0.35)" />
<rect x="1926.00" y="1186.00" width="3.00" height="12.00" fill="rgba(38,166,154,0.35)" />
<rect x="1931.00" y="1185.00" width="3.00" height="13.00" fill="rgba(239,83,80,0.35)" />
<rect x="1936.00" y="1189.00" width="3.00" height="9.00" fill="rgba(239,83,80,0.35)" />
<rect x="1942.00" y="1192.00" width="3.00" height="6.00" fill="rgba(38,166,154,0.35)" />
<rect x="1947.00" y="1189.00" width="3.00" height="9.00" fill="rgba(38,166,154,0.35)" />
<rect x="1952.00" y="1179.00" width="3.00" height="19.00" fill="rgba(239,83,80,0.35)" />
<rect x="1957.00" y="1130.00" width="3.00" height="68.00" fill="rgba(38,166,154,0.35)" />
<rect x="1962.00" y="1076.00" width="3.00" height="122.00" fill="rgba(38,166,154,0.35)" />
<rect x="1968.00" y="1158.00" width="3.00" height="40.00" fill="rgba(239,83,80,0.35)" />
<rect x="1973.00" y="1143.00" width="3.00" height="55.00" fill="rgba(239,83,80,0.35)" />
<rect x="1978.00" y="1181.00" width="3.00" height="17.00" fill="rgba(38,166,154,0.35)" />
<rect x="1983.00" y="1165.00" width="3.00" height="33.00" fill="rgba(239,83,80,0.35)" />
<rect x="1988.00" y="1128.00" width="3.00" height="70.00" fill="rgba(239,83,80,0.35)" />
<rect x="1994.00" y="1077.00" width="3.00" height="121.00" fill="rgba(239,83,80,0.35)" />
<rect x="1999.00" y="1172.00" width="3.00" height="26.00" fill="rgba(38,166,154,0.35)" />
<rect x="2004.00" y="1185.00" width="3.00" height="13.00" fill="rgba(38,166,154,0.35)" />
<rect x="2009.00" y="1170.00" width="3.00" height="28.00" fill="rgba(239,83,80,0.35)" />
<rect x="2014.00" y="1149.00" width="3.00" height="49.00" fill="rgba(239,83,80,0.35)" />
<rect x="2020.00" y="1042.00" width="3.00" height="156.00" fill="rgba(38,166,154,0.35)" />
<rect x="2025.00" y="1160.00" width="3.00" height="38.00" fill="rgba(38,166,154,0.35)" />
<rect x="2030.00" y="1137.00" width="3.00" height="61.00" fill="rgba(38,166,154,0.35)" />
<rect x="2035.00" y="1057.00" width="3.00" height="141.00" fill="rgba(38,166,154,0.35)" />
<rect x="2040.00" y="1181.00" width="3.00" height="17.00" fill="rgba(38,166,154,0.35)" />
<rect x="2046.00" y="1185.00" width="3.00" height="13.00" fill="rgba(239,83,80,0.35)" />
<rect x="2051.00" y="1181.00" width="3.00" height="17.00" fill="rgba(239,83,80,0.35)" />
<rect x="2056.00" y="1185.00" width="3.00" height="13.00" fill="rgba(38,166,154,0.35)" />
<rect x="2061.00" y="1160.00" width="3.00" height="38.00" fill="rgba(38,166,154,0.35)" />
<rect x="2066.00" y="1149.00" width="3.00" height="49.00" fill="rgba(38,166,154,0.35)" />
<rect x="2072.00" y="1178.00" width="3.00" height="20.00" fill="rgba(239,83,80,0.35)" />
<rect x="2077.00" y="1167.00" width="3.00" height="31.00" fill="rgba(38,166,154,0.35)" />
<rect x="2082.00" y="1158.00" width="3.00" height="40.00" fill="rgba(239,83,80,0.35)" />
<rect x="2087.00" y="1180.00" width="3.00" height="18.00" fill="rgba(239,83,80,0.35)" />
<rect x="2092.00" y="1178.00" width="3.00" height="20.00" fill="rgba(38,166,154,0.35)" />
<rect x="2097.00" y="1176.00" width="3.00" height="22.00" fill="rgba(38,166,154,0.35)" />
<rect x="2103.00" y="1172.00" width="3.00" height="26.00" fill="rgba(239,83,80,0.35)" />
<rect x="2108.00" y="1179.00" width="3.00" height="19.00" fill="rgba(239,83,80,0.35)" />
<rect x="2113.00" y="1183.00" width="3.00" height="15.00" fill="rgba(38,166,154,0.35)" />
<rect x="2118.00" y="1187.00" width="3.00" height="11.00" fill="rgba(239,83,80,0.35)" />
<rect x="2123.00" y="1188.00" width="3.00" height="10.00" fill="rgba(38,166,154,0.35)" />
<rect x="2129.00" y="1192.00" width="3.00" height="6.00" fill="rgba(38,166,154,0.35)" />
<rect x="2134.00" y="1189.00" width="3.00" height="9.00" fill="rgba(38,166,154,0.35)" />
<rect x="2139.00" y="1186.00" width="3.00" height="12.00" fill="rgba(239,83,80,0.35)" />
<rect x="2144.00" y="1161.00" width="3.00" height="37.00" fill="rgba(239,83,80,0.35)" />
<rect x="2149.00" y="1183.00" width="3.00" height="15.00" fill="rgba(239,83,80,0.35)" />
<rect x="2155.00" y="1165.00" width="3.00" height="33.00" fill="rgba(239,83,80,0.35)" />
<rect x="2160.00" y="1187.00" width="3.00" height="11.00" fill="rgba(38,166,154,0.35)" />
<rect x="2165.00" y="1189.00" width="3.00" height="9.00" fill="rgba(38,166,154,0.35)" />
<rect x="2170.00" y="1182.00" width="3.00" height="16.00" fill="rgba(239,83,80,0.35)" />
<rect x="2175.00" y="1189.00" width="3.00" height="9.00" fill="rgba(38,166,154,0.35)" />
<rect x="2181.00" y="1179.00" width="3.00" height="19.00" fill="rgba(38,166,154,0.35)" />
<rect x="2186.00" y="1162.00" width="3.00" height="36.00" fill="rgba(38,166,154,0.35)" />
<rect x="2191.00" y="1163.00" width="3.00" height="35.00" fill="rgba(239,83,80,0.35)" />
<rect x="2196.00" y="1167.00" width="3.00" height="31.00" fill="rgba(38,166,154,0.35)" />
<rect x="2201.00" y="1177.00" width="3.00" height="21.00" fill="rgba(239,83,80,0.35)" />
<rect x="2207.00" y="1185.00" width="3.00" height="13.00" fill="rgba(38,166,154,0.35)" />
<rect x="2212.00" y="1118.00" width="3.00" height="80.00" fill="rgba(239,83,80,0.35)" />
<rect x="2217.00" y="1167.00" width="3.00" height="31.00" fill="rgba(239,83,80,0.35)" />
<rect x="2222.00" y="1173.00" width="3.00" height="25.00" fill="rgba(239,83,80,0.35)" />
<rect x="2227.00" y="1134.00" width="3.00" height="64.00" fill="rgba(38,166,154,0.35)" />
<rect x="2233.00" y="1164.00" width="3.00" height="34.00" fill="rgba(239,83,80,0.35)" />
</g>
<polyline clip-path="url(#cm)" points="16.3,1153.7 21.5,1151.1 26.7,1151.2 31.9,1146.3 37.1,1143.9 42.3,1143.0 47.5,1143.6 52.7,1144.2 57.9,1145.5 63.1,1146.5 68.2,1147.8 73.4,1149.2 78.6,1148.1 83.8,1146.0 89.0,1145.2 94.2,1145.4 99.4,1145.1 104.6,1144.9 109.8,1146.0 115.0,1147.1 120.2,1147.5 125.4,1150.3 130.6,1145.3 135.8,1146.2 141.0,1145.8 146.1,1143.3 151.3,1142.0 156.5,1140.2 161.7,1139.0 166.9,1137.2 172.1,1136.5 177.3,1135.5 182.5,1137.9 187.7,1141.9 192.9,1144.5 198.1,1145.2 203.3,1147.3 208.5,1148.2 213.7,1145.8 218.9,1146.0 224.1,1147.1 229.2,1147.7 234.4,1154.8 239.6,1158.5 244.8,1161.7 250.0,1165.5 255.2,1167.5 260.4,1169.0 265.6,1170.3 270.8,1171.5 276.0,1172.5 281.2,1173.8 286.4,1174.2 291.6,1173.7 296.8,1172.7 302.0,1173.0 307.1,1173.3 312.3,1172.5 317.5,1175.3 322.7,1175.0 327.9,1174.2 333.1,1174.1 338.3,1174.5 343.5,1174.2 348.7,1173.7 353.9,1172.7 359.1,1171.2 364.3,1172.0 369.5,1172.4 374.7,1171.2 379.9,1168.1 385.1,1166.0 390.2,1165.7 395.4,1164.0 400.6,1161.4 405.8,1159.4 411.0,1155.8 416.2,1156.1 421.4,1156.1 426.6,1156.5 431.8,1156.5 437.0,1155.8 442.2,1153.5 447.4,1152.5 452.6,1151.2 457.8,1150.0 463.0,1146.8 468.2,1146.0 473.3,1144.3 478.5,1145.8 483.7,1147.3 488.9,1148.2 494.1,1148.0 499.3,1149.5 504.5,1150.0 509.7,1152.0 514.9,1154.2 520.1,1152.5 525.3,1151.2 530.5,1150.9 535.7,1149.9 540.9,1151.0 546.1,1152.5 551.2,1153.0 556.4,1154.6 561.6,1155.5 566.8,1159.3 572.0,1160.4 577.2,1160.3 582.4,1159.5 587.6,1159.5 592.8,1158.8 598.0,1159.0 603.2,1159.4 608.4,1160.5 613.6,1160.4 618.8,1161.0 624.0,1164.2 629.2,1165.3 634.3,1163.8 639.5,1164.7 644.7,1164.3 649.9,1164.4 655.1,1164.4 660.3,1163.1 665.5,1163.0 670.7,1162.5 675.9,1162.3 681.1,1163.9 686.3,1165.7 691.5,1167.3 696.7,1168.5 701.9,1168.0 707.1,1165.1 712.2,1164.9 717.4,1164.3 722.6,1163.9 727.8,1163.4 733.0,1163.3 738.2,1164.9 743.4,1165.8 748.6,1165.8 753.8,1165.7 759.0,1165.5 764.2,1160.0 769.4,1157.6 774.6,1156.0 779.8,1155.7 785.0,1155.2 790.2,1153.8 795.3,1153.1 800.5,1153.8 805.7,1154.7 810.9,1157.2 816.1,1157.2 821.3,1156.6 826.5,1157.0 831.7,1157.5 836.9,1157.5 842.1,1157.7 847.3,1156.5 852.5,1156.8 857.7,1157.2 862.9,1157.5 868.1,1163.8 873.2,1166.8 878.4,1168.3 883.6,1168.9 888.8,1165.3 894.0,1164.2 899.2,1162.1 904.4,1161.9 909.6,1161.2 914.8,1162.0 920.0,1164.2 925.2,1166.3 930.4,1166.4 935.6,1166.1 940.8,1166.5 946.0,1162.6 951.2,1162.8 956.3,1160.5 961.5,1160.3 966.7,1160.7 971.9,1159.8 977.1,1160.3 982.3,1160.6 987.5,1160.9 992.7,1165.0 997.9,1167.5 1003.1,1170.5 1008.3,1170.8 1013.5,1170.8 1018.7,1169.2 1023.9,1167.0 1029.1,1165.2 1034.3,1163.8 1039.4,1163.8 1044.6,1163.8 1049.8,1167.8 1055.0,1169.0 1060.2,1171.5 1065.4,1172.1 1070.6,1164.7 1075.8,1166.2 1081.0,1166.6 1086.2,1167.5 1091.4,1168.0 1096.6,1168.3 1101.8,1168.8 1107.0,1168.8 1112.2,1164.0 1117.3,1165.0 1122.5,1163.0 1127.7,1165.7 1132.9,1167.6 1138.1,1169.2 1143.3,1169.0 1148.5,1169.5 1153.7,1169.8 1158.9,1170.0 1164.1,1170.0 1169.3,1168.8 1174.5,1170.5 1179.7,1165.8 1184.9,1165.2 1190.1,1165.2 1195.3,1165.0 1200.4,1164.3 1205.6,1163.8 1210.8,1163.4 1216.0,1167.0 1221.2,1162.0 1226.4,1163.2 1231.6,1161.1 1236.8,1160.4 1242.0,1160.5 1247.2,1161.0 1252.4,1160.9 1257.6,1161.2 1262.8,1158.7 1268.0,1157.3 1273.2,1151.7 1278.3,1156.7 1283.5,1160.0 1288.7,1160.4 1293.9,1160.5 1299.1,1160.5 1304.3,1160.5 1309.5,1159.3 1314.7,1158.6 1319.9,1159.0 1325.1,1162.3 1330.3,1163.8 1335.5,1165.0 1340.7,1165.0 1345.9,1164.5 1351.1,1163.3 1356.3,1160.8 1361.4,1159.5 1366.6,1162.0 1371.8,1163.0 1377.0,1169.0 1382.2,1169.0 1387.4,1169.5 1392.6,1167.8 1397.8,1167.1 1403.0,1166.3 1408.2,1165.7 1413.4,1166.4 1418.6,1167.2 1423.8,1167.5 1429.0,1169.2 1434.2,1169.7 1439.4,1169.7 1444.5,1169.8 1449.7,1170.0 1454.9,1170.8 1460.1,1168.8 1465.3,1168.9 1470.5,1168.2 1475.7,1168.5 1480.9,1168.8 1486.1,1168.8 1491.3,1169.3 1496.5,1170.4 1501.7,1170.5 1506.9,1171.2 1512.1,1171.7 1517.3,1171.5 1522.4,1171.2 1527.6,1171.8 1532.8,1171.8 1538.0,1169.5 1543.2,1170.0 1548.4,1170.3 1553.6,1171.0 1558.8,1171.8 1564.0,1176.2 1569.2,1177.2 1574.4,1177.8 1579.6,1178.3 1584.8,1179.0 1590.0,1179.4 1595.2,1179.5 1600.4,1179.9 1605.5,1180.2 1610.7,1177.0 1615.9,1177.2 1621.1,1177.5 1626.3,1177.4 1631.5,1175.2 1636.7,1170.2 1641.9,1159.2 1647.1,1155.2 1652.3,1153.0 1657.5,1151.3 1662.7,1150.0 1667.9,1148.8 1673.1,1147.3 1678.3,1143.9 1683.4,1141.5 1688.6,1130.5 1693.8,1126.8 1699.0,1120.0 1704.2,1113.2 1709.4,1110.7 1714.6,1112.0 1719.8,1110.8 1725.0,1110.6 1730.2,1110.8 1735.4,1112.0 1740.6,1116.7 1745.8,1129.3 1751.0,1130.8 1756.2,1131.5 1761.4,1131.7 1766.5,1132.0 1771.7,1132.8 1776.9,1134.2 1782.1,1136.8 1787.3,1138.5 1792.5,1149.0 1797.7,1153.3 1802.9,1160.6 1808.1,1167.6 1813.3,1169.4 1818.5,1171.5 1823.7,1172.2 1828.9,1172.7 1834.1,1173.3 1839.3,1174.0 1844.4,1174.0 1849.6,1173.1 1854.8,1175.0 1860.0,1176.3 1865.2,1177.0 1870.4,1175.8 1875.6,1175.5 1880.8,1175.4 1886.0,1176.0 1891.2,1175.8 1896.4,1176.0 1901.6,1175.9 1906.8,1175.2 1912.0,1174.7 1917.2,1175.3 1922.4,1175.1 1927.5,1176.0 1932.7,1176.2 1937.9,1176.5 1943.1,1177.2 1948.3,1177.8 1953.5,1178.9 1958.7,1177.0 1963.9,1171.6 1969.1,1170.8 1974.3,1170.7 1979.5,1171.2 1984.7,1170.4 1989.9,1167.8 1995.1,1162.9 2000.3,1162.3 2005.5,1162.2 2010.6,1162.0 2015.8,1160.6 2021.0,1153.5 2026.2,1152.8 2031.4,1150.3 2036.6,1143.9 2041.8,1143.5 2047.0,1143.2 2052.2,1142.8 2057.4,1143.0 2062.6,1144.5 2067.8,1148.2 2073.0,1149.2 2078.2,1150.4 2083.4,1149.3 2088.5,1150.0 2093.7,1152.5 2098.9,1157.5 2104.1,1157.5 2109.3,1157.2 2114.5,1157.8 2119.7,1159.7 2124.9,1167.0 2130.1,1168.7 2135.3,1171.2 2140.5,1177.7 2145.7,1176.7 2150.9,1176.6 2156.1,1175.8 2161.3,1175.9 2166.5,1177.3 2171.6,1179.0 2176.8,1179.5 2182.0,1180.2 2187.2,1180.3 2192.4,1179.5 2197.6,1179.0 2202.8,1179.0 2208.0,1179.7 2213.2,1176.6 2218.4,1175.8 2223.6,1175.1 2228.8,1172.4 2234.0,1171.0" fill="none" stroke="#fddbc5" stroke-width="2" stroke-linejoin="round"/>
<g shape-rendering="crispEdges">
<rect x="2455.00" y="163.00" width="0.00" height="6.00" fill="#fdeece" />
<rect x="2455.00" y="163.00" width="3.00" height="6.00" fill="#c6e3f7" />
<rect x="2445.00" y="171.00" width="5.00" height="6.00" fill="#fdeece" />
<rect x="2450.00" y="171.00" width="8.00" height="6.00" fill="#c6e3f7" />
<rect x="2446.00" y="179.00" width="5.00" height="6.00" fill="#fdeece" />
<rect x="2451.00" y="179.00" width="7.00" height="6.00" fill="#c6e3f7" />
<rect x="2446.00" y="187.00" width="5.00" height="6.00" fill="#fdeece" />
<rect x="2451.00" y="187.00" width="7.00" height="6.00" fill="#c6e3f7" />
<rect x="2440.00" y="195.00" width="8.00" height="6.00" fill="#fdeece" />
<rect x="2448.00" y="195.00" width="10.00" height="6.00" fill="#c6e3f7" />
<rect x="2434.00" y="203.00" width="13.00" height="6.00" fill="#fdeece" />
<rect x="2447.00" y="203.00" width="11.00" height="6.00" fill="#c6e3f7" />
<rect x="2434.00" y="211.00" width="12.00" height="6.00" fill="#fdeece" />
<rect x="2446.00" y="211.00" width="12.00" height="6.00" fill="#c6e3f7" />
<rect x="2440.00" y="218.00" width="10.00" height="6.00" fill="#fdeece" />
<rect x="2450.00" y="218.00" width="8.00" height="6.00" fill="#c6e3f7" />
<rect x="2449.00" y="226.00" width="4.00" height="6.00" fill="#fdeece" />
<rect x="2453.00" y="226.00" width="5.00" height="6.00" fill="#c6e3f7" />
<rect x="2445.00" y="234.00" width="7.00" height="6.00" fill="#fdeece" />
<rect x="2452.00" y="234.00" width="6.00" height="6.00" fill="#c6e3f7" />
<rect x="2422.00" y="242.00" width="20.00" height="6.00" fill="#fdeece" />
<rect x="2442.00" y="242.00" width="16.00" height="6.00" fill="#c6e3f7" />
<rect x="2411.00" y="250.00" width="24.00" height="6.00" fill="#fdeece" />
<rect x="2435.00" y="250.00" width="23.00" height="6.00" fill="#c6e3f7" />
<rect x="2417.00" y="258.00" width="23.00" height="6.00" fill="#fdeece" />
<rect x="2440.00" y="258.00" width="18.00" height="6.00" fill="#c6e3f7" />
<rect x="2410.00" y="266.00" width="20.00" height="6.00" fill="#fdeece" />
<rect x="2430.00" y="266.00" width="28.00" height="6.00" fill="#c6e3f7" />
<rect x="2397.00" y="274.00" width="29.00" height="6.00" fill="#fdeece" />
<rect x="2426.00" y="274.00" width="32.00" height="6.00" fill="#c6e3f7" />
<rect x="2398.00" y="282.00" width="27.00" height="6.00" fill="#fdeece" />
<rect x="2425.00" y="282.00" width="33.00" height="6.00" fill="#c6e3f7" />
<rect x="2405.00" y="290.00" width="24.00" height="6.00" fill="#fdeece" />
<rect x="2429.00" y="290.00" width="29.00" height="6.00" fill="#c6e3f7" />
<rect x="2394.00" y="298.00" width="27.00" height="6.00" fill="#fdeece" />
<rect x="2421.00" y="298.00" width="37.00" height="6.00" fill="#c6e3f7" />
<rect x="2387.00" y="306.00" width="39.00" height="6.00" fill="#fdeece" />
<rect x="2426.00" y="306.00" width="32.00" height="6.00" fill="#c6e3f7" />
<rect x="2391.00" y="313.00" width="34.00" height="6.00" fill="#fdeece" />
<rect x="2425.00" y="313.00" width="33.00" height="6.00" fill="#c6e3f7" />
<rect x="2398.00" y="321.00" width="32.00" height="6.00" fill="#fdeece" />
<rect x="2430.00" y="321.00" width="28.00" height="6.00" fill="#c6e3f7" />
<rect x="2414.00" y="329.00" width="24.00" height="6.00" fill="#fdeece" />
<rect x="2438.00" y="329.00" width="20.00" height="6.00" fill="#c6e3f7" />
<rect x="2431.00" y="337.00" width="12.00" height="6.00" fill="#fdeece" />
<rect x="2443.00" y="337.00" width="15.00" height="6.00" fill="#c6e3f7" />
<rect x="2438.00" y="345.00" width="8.00" height="6.00" fill="#fdeece" />
<rect x="2446.00" y="345.00" width="12.00" height="6.00" fill="#c6e3f7" />
<rect x="2437.00" y="353.00" width="10.00" height="6.00" fill="#fdeece" />
<rect x="2447.00" y="353.00" width="11.00" height="6.00" fill="#c6e3f7" />
<rect x="2429.00" y="361.00" width="15.00" height="6.00" fill="#fdeece" />
<rect x="2444.00" y="361.00" width="14.00" height="6.00" fill="#c6e3f7" />
<rect x="2407.00" y="369.00" width="27.00" height="6.00" fill="#fdeece" />
<rect x="2434.00" y="369.00" width="24.00" height="6.00" fill="#c6e3f7" />
<rect x="2350.00" y="377.00" width="68.00" height="6.00" fill="#fdeece" />
<rect x="2418.00" y="377.00" width="40.00" height="6.00" fill="#c6e3f7" />
<rect x="2352.00" y="385.00" width="64.00" height="6.00" fill="#fdeece" />
<rect x="2416.00" y="385.00" width="42.00" height="6.00" fill="#c6e3f7" />
<rect x="2349.00" y="393.00" width="72.00" height="6.00" fill="#fdeece" />
<rect x="2421.00" y="393.00" width="37.00" height="6.00" fill="#c6e3f7" />
<rect x="2377.00" y="401.00" width="42.00" height="6.00" fill="#fdeece" />
<rect x="2419.00" y="401.00" width="39.00" height="6.00" fill="#c6e3f7" />
<rect x="2342.00" y="409.00" width="61.00" height="6.00" fill="#fdeece" />
<rect x="2403.00" y="409.00" width="55.00" height="6.00" fill="#c6e3f7" />
<rect x="2319.00" y="416.00" width="77.00" height="6.00" fill="#fdeece" />
<rect x="2396.00" y="416.00" width="62.00" height="6.00" fill="#c6e3f7" />
<rect x="2288.00" y="424.00" width="100.00" height="6.00" fill="#fdeece" />
<rect x="2388.00" y="424.00" width="70.00" height="6.00" fill="#c6e3f7" />
<rect x="2285.00" y="432.00" width="102.00" height="6.00" fill="#fdeece" />
<rect x="2387.00" y="432.00" width="71.00" height="6.00" fill="#c6e3f7" />
<rect x="2298.00" y="440.00" width="86.00" height="6.00" fill="#fdeece" />
<rect x="2384.00" y="440.00" width="74.00" height="6.00" fill="#c6e3f7" />
<rect x="2316.00" y="448.00" width="77.00" height="6.00" fill="#fdeece" />
<rect x="2393.00" y="448.00" width="65.00" height="6.00" fill="#c6e3f7" />
<rect x="2324.00" y="456.00" width="68.00" height="6.00" fill="#fdeece" />
<rect x="2392.00" y="456.00" width="66.00" height="6.00" fill="#c6e3f7" />
<rect x="2300.00" y="464.00" width="78.00" height="6.00" fill="#fdeece" />
<rect x="2378.00" y="464.00" width="80.00" height="6.00" fill="#c6e3f7" />
<rect x="2259.00" y="472.00" width="116.00" height="6.00" fill="#fdeece" />
<rect x="2375.00" y="472.00" width="83.00" height="6.00" fill="#c6e3f7" />
<rect x="2316.00" y="480.00" width="85.00" height="6.00" fill="#fdeece" />
<rect x="2401.00" y="480.00" width="57.00" height="6.00" fill="#c6e3f7" />
<rect x="2302.00" y="488.00" width="88.00" height="6.00" fill="#fbd26a" />
<rect x="2390.00" y="488.00" width="68.00" height="6.00" fill="#5fb1ec" />
<rect x="2295.00" y="496.00" width="86.00" height="6.00" fill="#fbd26a" />
<rect x="2381.00" y="496.00" width="77.00" height="6.00" fill="#5fb1ec" />
<rect x="2314.00" y="504.00" width="75.00" height="6.00" fill="#fbd26a" />
<rect x="2389.00" y="504.00" width="69.00" height="6.00" fill="#5fb1ec" />
<rect x="2307.00" y="511.00" width="95.00" height="6.00" fill="#fbd26a" />
<rect x="2402.00" y="511.00" width="56.00" height="6.00" fill="#5fb1ec" />
<rect x="2284.00" y="519.00" width="101.00" height="6.00" fill="#fbd26a" />
<rect x="2385.00" y="519.00" width="73.00" height="6.00" fill="#5fb1ec" />
<rect x="2296.00" y="527.00" width="91.00" height="6.00" fill="#fbd26a" />
<rect x="2387.00" y="527.00" width="71.00" height="6.00" fill="#5fb1ec" />
<rect x="2292.00" y="535.00" width="91.00" height="6.00" fill="#fbd26a" />
<rect x="2383.00" y="535.00" width="75.00" height="6.00" fill="#5fb1ec" />
<rect x="2328.00" y="543.00" width="71.00" height="6.00" fill="#fbd26a" />
<rect x="2399.00" y="543.00" width="59.00" height="6.00" fill="#5fb1ec" />
<rect x="2353.00" y="551.00" width="56.00" height="6.00" fill="#fbd26a" />
<rect x="2409.00" y="551.00" width="49.00" height="6.00" fill="#5fb1ec" />
<rect x="2337.00" y="559.00" width="55.00" height="6.00" fill="#fbd26a" />
<rect x="2392.00" y="559.00" width="66.00" height="6.00" fill="#5fb1ec" />
<rect x="2325.00" y="567.00" width="65.00" height="6.00" fill="#fbd26a" />
<rect x="2390.00" y="567.00" width="68.00" height="6.00" fill="#5fb1ec" />
<rect x="2349.00" y="575.00" width="50.00" height="6.00" fill="#fbd26a" />
<rect x="2399.00" y="575.00" width="59.00" height="6.00" fill="#5fb1ec" />
<rect x="2360.00" y="583.00" width="45.00" height="6.00" fill="#fbd26a" />
<rect x="2405.00" y="583.00" width="53.00" height="6.00" fill="#5fb1ec" />
<rect x="2365.00" y="591.00" width="47.00" height="6.00" fill="#fbd26a" />
<rect x="2412.00" y="591.00" width="46.00" height="6.00" fill="#5fb1ec" />
<rect x="2375.00" y="599.00" width="40.00" height="6.00" fill="#fbd26a" />
<rect x="2415.00" y="599.00" width="43.00" height="6.00" fill="#5fb1ec" />
<rect x="2356.00" y="607.00" width="50.00" height="6.00" fill="#fbd26a" />
<rect x="2406.00" y="607.00" width="52.00" height="6.00" fill="#5fb1ec" />
<rect x="2337.00" y="614.00" width="60.00" height="6.00" fill="#fbd26a" />
<rect x="2397.00" y="614.00" width="61.00" height="6.00" fill="#5fb1ec" />
<rect x="2323.00" y="622.00" width="69.00" height="6.00" fill="#fbd26a" />
<rect x="2392.00" y="622.00" width="66.00" height="6.00" fill="#5fb1ec" />
<rect x="2341.00" y="630.00" width="59.00" height="6.00" fill="#fbd26a" />
<rect x="2400.00" y="630.00" width="58.00" height="6.00" fill="#5fb1ec" />
<rect x="2332.00" y="638.00" width="63.00" height="6.00" fill="#fbd26a" />
<rect x="2395.00" y="638.00" width="63.00" height="6.00" fill="#5fb1ec" />
<rect x="2325.00" y="646.00" width="60.00" height="6.00" fill="#fbd26a" />
<rect x="2385.00" y="646.00" width="73.00" height="6.00" fill="#5fb1ec" />
<rect x="2332.00" y="654.00" width="67.00" height="6.00" fill="#fbd26a" />
<rect x="2399.00" y="654.00" width="59.00" height="6.00" fill="#5fb1ec" />
<rect x="2345.00" y="662.00" width="54.00" height="6.00" fill="#fbd26a" />
<rect x="2399.00" y="662.00" width="59.00" height="6.00" fill="#5fb1ec" />
<rect x="2335.00" y="670.00" width="58.00" height="6.00" fill="#fbd26a" />
<rect x="2393.00" y="670.00" width="65.00" height="6.00" fill="#5fb1ec" />
<rect x="2341.00" y="678.00" width="60.00" height="6.00" fill="#fbd26a" />
<rect x="2401.00" y="678.00" width="57.00" height="6.00" fill="#5fb1ec" />
<rect x="2368.00" y="686.00" width="50.00" height="6.00" fill="#fbd26a" />
<rect x="2418.00" y="686.00" width="40.00" height="6.00" fill="#5fb1ec" />
<rect x="2363.00" y="694.00" width="48.00" height="6.00" fill="#fbd26a" />
<rect x="2411.00" y="694.00" width="47.00" height="6.00" fill="#5fb1ec" />
<rect x="2360.00" y="702.00" width="53.00" height="6.00" fill="#fbd26a" />
<rect x="2413.00" y="702.00" width="45.00" height="6.00" fill="#5fb1ec" />
<rect x="2348.00" y="709.00" width="54.00" height="6.00" fill="#fbd26a" />
<rect x="2402.00" y="709.00" width="56.00" height="6.00" fill="#5fb1ec" />
<rect x="2358.00" y="717.00" width="48.00" height="6.00" fill="#fbd26a" />
<rect x="2406.00" y="717.00" width="52.00" height="6.00" fill="#5fb1ec" />
<rect x="2349.00" y="725.00" width="53.00" height="6.00" fill="#fbd26a" />
<rect x="2402.00" y="725.00" width="56.00" height="6.00" fill="#5fb1ec" />
<rect x="2350.00" y="733.00" width="53.00" height="6.00" fill="#fbd26a" />
<rect x="2403.00" y="733.00" width="55.00" height="6.00" fill="#5fb1ec" />
<rect x="2340.00" y="741.00" width="51.00" height="6.00" fill="#fbd26a" />
<rect x="2391.00" y="741.00" width="67.00" height="6.00" fill="#5fb1ec" />
<rect x="2337.00" y="749.00" width="52.00" height="6.00" fill="#fbd26a" />
<rect x="2389.00" y="749.00" width="69.00" height="6.00" fill="#5fb1ec" />
<rect x="2351.00" y="757.00" width="50.00" height="6.00" fill="#fbd26a" />
<rect x="2401.00" y="757.00" width="57.00" height="6.00" fill="#5fb1ec" />
<rect x="2358.00" y="765.00" width="47.00" height="6.00" fill="#fbd26a" />
<rect x="2405.00" y="765.00" width="53.00" height="6.00" fill="#5fb1ec" />
<rect x="2366.00" y="773.00" width="38.00" height="6.00" fill="#fbd26a" />
<rect x="2404.00" y="773.00" width="54.00" height="6.00" fill="#5fb1ec" />
<rect x="2331.00" y="781.00" width="35.00" height="6.00" fill="#fbd26a" />
<rect x="2366.00" y="781.00" width="92.00" height="6.00" fill="#5fb1ec" />
<rect x="2353.00" y="789.00" width="36.00" height="6.00" fill="#fbd26a" />
<rect x="2389.00" y="789.00" width="69.00" height="6.00" fill="#5fb1ec" />
<rect x="2353.00" y="797.00" width="31.00" height="6.00" fill="#fbd26a" />
<rect x="2384.00" y="797.00" width="74.00" height="6.00" fill="#5fb1ec" />
<rect x="2388.00" y="805.00" width="29.00" height="6.00" fill="#fbd26a" />
<rect x="2417.00" y="805.00" width="41.00" height="6.00" fill="#5fb1ec" />
<rect x="2385.00" y="812.00" width="29.00" height="6.00" fill="#fbd26a" />
<rect x="2414.00" y="812.00" width="44.00" height="6.00" fill="#5fb1ec" />
<rect x="2399.00" y="820.00" width="29.00" height="6.00" fill="#fbd26a" />
<rect x="2428.00" y="820.00" width="30.00" height="6.00" fill="#5fb1ec" />
<rect x="2407.00" y="828.00" width="27.00" height="6.00" fill="#fbd26a" />
<rect x="2434.00" y="828.00" width="24.00" height="6.00" fill="#5fb1ec" />
<rect x="2388.00" y="836.00" width="37.00" height="6.00" fill="#fbd26a" />
<rect x="2425.00" y="836.00" width="33.00" height="6.00" fill="#5fb1ec" />
<rect x="2368.00" y="844.00" width="46.00" height="6.00" fill="#fbd26a" />
<rect x="2414.00" y="844.00" width="44.00" height="6.00" fill="#5fb1ec" />
<rect x="2364.00" y="852.00" width="49.00" height="6.00" fill="#fbd26a" />
<rect x="2413.00" y="852.00" width="45.00" height="6.00" fill="#5fb1ec" />
<rect x="2356.00" y="860.00" width="38.00" height="6.00" fill="#fbd26a" />
<rect x="2394.00" y="860.00" width="64.00" height="6.00" fill="#5fb1ec" />
<rect x="2338.00" y="868.00" width="35.00" height="6.00" fill="#fbd26a" />
<rect x="2373.00" y="868.00" width="85.00" height="6.00" fill="#5fb1ec" />
<rect x="2383.00" y="876.00" width="30.00" height="6.00" fill="#fbd26a" />
<rect x="2413.00" y="876.00" width="45.00" height="6.00" fill="#5fb1ec" />
<rect x="2401.00" y="884.00" width="35.00" height="6.00" fill="#fbd26a" />
<rect x="2436.00" y="884.00" width="22.00" height="6.00" fill="#5fb1ec" />
<rect x="2394.00" y="892.00" width="35.00" height="6.00" fill="#fbd26a" />
<rect x="2429.00" y="892.00" width="29.00" height="6.00" fill="#5fb1ec" />
<rect x="2389.00" y="900.00" width="39.00" height="6.00" fill="#fbd26a" />
<rect x="2428.00" y="900.00" width="30.00" height="6.00" fill="#5fb1ec" />
<rect x="2373.00" y="907.00" width="51.00" height="6.00" fill="#fbd26a" />
<rect x="2424.00" y="907.00" width="34.00" height="6.00" fill="#5fb1ec" />
<rect x="2355.00" y="915.00" width="57.00" height="6.00" fill="#fbd26a" />
<rect x="2412.00" y="915.00" width="46.00" height="6.00" fill="#5fb1ec" />
<rect x="2318.00" y="923.00" width="77.00" height="6.00" fill="#fbd26a" />
<rect x="2395.00" y="923.00" width="63.00" height="6.00" fill="#5fb1ec" />
<rect x="2338.00" y="931.00" width="75.00" height="6.00" fill="#fbd26a" />
<rect x="2413.00" y="931.00" width="45.00" height="6.00" fill="#5fb1ec" />
<rect x="2272.00" y="939.00" width="111.00" height="6.00" fill="#fbd26a" />
<rect x="2383.00" y="939.00" width="75.00" height="6.00" fill="#5fb1ec" />
<rect x="2240.00" y="947.00" width="114.00" height="6.00" fill="#fbd26a" />
<rect x="2354.00" y="947.00" width="104.00" height="6.00" fill="#5fb1ec" />
<rect x="2257.00" y="955.00" width="97.00" height="6.00" fill="#fbd26a" />
<rect x="2354.00" y="955.00" width="104.00" height="6.00" fill="#5fb1ec" />
<rect x="2323.00" y="963.00" width="66.00" height="6.00" fill="#fbd26a" />
<rect x="2389.00" y="963.00" width="69.00" height="6.00" fill="#5fb1ec" />
<rect x="2370.00" y="971.00" width="33.00" height="6.00" fill="#fbd26a" />
<rect x="2403.00" y="971.00" width="55.00" height="6.00" fill="#5fb1ec" />
<rect x="2365.00" y="979.00" width="50.00" height="6.00" fill="#fbd26a" />
<rect x="2415.00" y="979.00" width="43.00" height="6.00" fill="#5fb1ec" />
<rect x="2354.00" y="987.00" width="52.00" height="6.00" fill="#fbd26a" />
<rect x="2406.00" y="987.00" width="52.00" height="6.00" fill="#5fb1ec" />
<rect x="2377.00" y="995.00" width="33.00" height="6.00" fill="#fbd26a" />
<rect x="2410.00" y="995.00" width="48.00" height="6.00" fill="#5fb1ec" />
<rect x="2400.00" y="1003.00" width="25.00" height="6.00" fill="#fbd26a" />
<rect x="2425.00" y="1003.00" width="33.00" height="6.00" fill="#5fb1ec" />
<rect x="2416.00" y="1010.00" width="21.00" height="6.00" fill="#fdeece" />
<rect x="2437.00" y="1010.00" width="21.00" height="6.00" fill="#c6e3f7" />
<rect x="2402.00" y="1018.00" width="27.00" height="6.00" fill="#fdeece" />
<rect x="2429.00" y="1018.00" width="29.00" height="6.00" fill="#c6e3f7" />
<rect x="2405.00" y="1026.00" width="22.00" height="6.00" fill="#fdeece" />
<rect x="2427.00" y="1026.00" width="31.00" height="6.00" fill="#c6e3f7" />
<rect x="2424.00" y="1034.00" width="14.00" height="6.00" fill="#fdeece" />
<rect x="2438.00" y="1034.00" width="20.00" height="6.00" fill="#c6e3f7" />
<rect x="2428.00" y="1042.00" width="10.00" height="6.00" fill="#fdeece" />
<rect x="2438.00" y="1042.00" width="20.00" height="6.00" fill="#c6e3f7" />
<rect x="2431.00" y="1050.00" width="12.00" height="6.00" fill="#fdeece" />
<rect x="2443.00" y="1050.00" width="15.00" height="6.00" fill="#c6e3f7" />
<rect x="2432.00" y="1058.00" width="15.00" height="6.00" fill="#fdeece" />
<rect x="2447.00" y="1058.00" width="11.00" height="6.00" fill="#c6e3f7" />
<rect x="2435.00" y="1066.00" width="13.00" height="6.00" fill="#fdeece" />
<rect x="2448.00" y="1066.00" width="10.00" height="6.00" fill="#c6e3f7" />
<rect x="2441.00" y="1074.00" width="6.00" height="6.00" fill="#fdeece" />
<rect x="2447.00" y="1074.00" width="11.00" height="6.00" fill="#c6e3f7" />
<rect x="2404.00" y="1082.00" width="44.00" height="6.00" fill="#fdeece" />
<rect x="2448.00" y="1082.00" width="10.00" height="6.00" fill="#c6e3f7" />
<rect x="2408.00" y="1090.00" width="42.00" height="6.00" fill="#fdeece" />
<rect x="2450.00" y="1090.00" width="8.00" height="6.00" fill="#c6e3f7" />
<rect x="2450.00" y="1098.00" width="4.00" height="6.00" fill="#fdeece" />
<rect x="2454.00" y="1098.00" width="4.00" height="6.00" fill="#c6e3f7" />
<rect x="2453.00" y="1105.00" width="4.00" height="6.00" fill="#fdeece" />
<rect x="2457.00" y="1105.00" width="1.00" height="6.00" fill="#c6e3f7" />
</g>
<polyline clip-path="url(#cm)" points="16.3,992.0 21.5,993.2 26.7,995.5 31.9,997.1 37.1,998.4 42.3,1001.1 47.5,1002.6 52.7,1003.0" fill="none" stroke="#ff5252" stroke-width="1.8" stroke-linejoin="round" stroke-linecap="round"/>
<polyline clip-path="url(#cm)" points="52.7,1003.0 57.9,1003.0" fill="none" stroke="#45a149" stroke-width="1.8" stroke-linejoin="round" stroke-linecap="round"/>
<polyline clip-path="url(#cm)" points="57.9,1003.0 63.1,1003.7" fill="none" stroke="#ff5252" stroke-width="1.8" stroke-linejoin="round" stroke-linecap="round"/>
<polyline clip-path="url(#cm)" points="63.1,1003.7 68.2,1003.6 73.4,1003.6 78.6,1001.9 83.8,999.9 89.0,998.6 94.2,997.4 99.4,995.7 104.6,994.8 109.8,993.3 115.0,992.8" fill="none" stroke="#45a149" stroke-width="1.8" stroke-linejoin="round" stroke-linecap="round"/>
<polyline clip-path="url(#cm)" points="115.0,992.8 120.2,993.1" fill="none" stroke="#ff5252" stroke-width="1.8" stroke-linejoin="round" stroke-linecap="round"/>
<polyline clip-path="url(#cm)" points="120.2,993.1 125.4,992.9 130.6,990.3 135.8,986.0 141.0,981.4 146.1,978.4 151.3,976.3 156.5,975.4 161.7,973.6 166.9,971.6 172.1,970.0 177.3,969.5 182.5,969.3 187.7,968.7 192.9,968.2 198.1,967.9 203.3,966.7 208.5,965.1 213.7,963.8 218.9,962.3 224.1,960.4 229.2,958.9 234.4,957.6 239.6,957.0 244.8,956.7 250.0,956.6" fill="none" stroke="#45a149" stroke-width="1.8" stroke-linejoin="round" stroke-linecap="round"/>
<polyline clip-path="url(#cm)" points="250.0,956.6 255.2,956.7" fill="none" stroke="#ff5252" stroke-width="1.8" stroke-linejoin="round" stroke-linecap="round"/>
<polyline clip-path="url(#cm)" points="255.2,956.7 260.4,956.3 265.6,956.1" fill="none" stroke="#45a149" stroke-width="1.8" stroke-linejoin="round" stroke-linecap="round"/>
<polyline clip-path="url(#cm)" points="265.6,956.1 270.8,957.4 276.0,959.6 281.2,960.9 286.4,962.6 291.6,963.6 296.8,964.4 302.0,965.2 307.1,965.7 312.3,966.5 317.5,966.8" fill="none" stroke="#ff5252" stroke-width="1.8" stroke-linejoin="round" stroke-linecap="round"/>
<polyline clip-path="url(#cm)" points="317.5,966.8 322.7,966.7" fill="none" stroke="#45a149" stroke-width="1.8" stroke-linejoin="round" stroke-linecap="round"/>
<polyline clip-path="url(#cm)" points="322.7,966.7 327.9,967.0 333.1,968.4 338.3,968.9 343.5,968.9" fill="none" stroke="#ff5252" stroke-width="1.8" stroke-linejoin="round" stroke-linecap="round"/>
<polyline clip-path="url(#cm)" points="343.5,968.9 348.7,968.2 353.9,966.5 359.1,964.5 364.3,963.2 369.5,961.1 374.7,957.9 379.9,954.0 385.1,951.0 390.2,947.8 395.4,944.6 400.6,939.8 405.8,933.3 411.0,927.0 416.2,921.2 421.4,915.3 426.6,908.7 431.8,902.3 437.0,895.9 442.2,890.4 447.4,884.9 452.6,879.0 457.8,871.3 463.0,862.2 468.2,854.3 473.3,846.2 478.5,837.0 483.7,827.0 488.9,819.3 494.1,811.4 499.3,803.5 504.5,796.7 509.7,791.4 514.9,785.5 520.1,782.1 525.3,776.5 530.5,770.3 535.7,764.8 540.9,761.3 546.1,758.0 551.2,752.9 556.4,748.4 561.6,742.8 566.8,737.8 572.0,732.6 577.2,725.3 582.4,717.2 587.6,710.1 592.8,704.0 598.0,697.7 603.2,691.6 608.4,687.6 613.6,683.3 618.8,680.2 624.0,676.5 629.2,672.2 634.3,668.6 639.5,665.3 644.7,662.2 649.9,658.0 655.1,653.8 660.3,649.7 665.5,647.0 670.7,645.8 675.9,645.3 681.1,645.2 686.3,644.5 691.5,643.7 696.7,643.4" fill="none" stroke="#45a149" stroke-width="1.8" stroke-linejoin="round" stroke-linecap="round"/>
<polyline clip-path="url(#cm)" points="696.7,643.4 701.9,644.7 707.1,647.9 712.2,650.2 717.4,652.1 722.6,652.5" fill="none" stroke="#ff5252" stroke-width="1.8" stroke-linejoin="round" stroke-linecap="round"/>
<polyline clip-path="url(#cm)" points="722.6,652.5 727.8,652.3" fill="none" stroke="#45a149" stroke-width="1.8" stroke-linejoin="round" stroke-linecap="round"/>
<polyline clip-path="url(#cm)" points="727.8,652.3 733.0,653.1 738.2,654.3 743.4,654.3" fill="none" stroke="#ff5252" stroke-width="1.8" stroke-linejoin="round" stroke-linecap="round"/>
<polyline clip-path="url(#cm)" points="743.4,654.3 748.6,653.0 753.8,652.2 759.0,650.1 764.2,647.1 769.4,642.1 774.6,638.4 779.8,635.4 785.0,632.3 790.2,627.3 795.3,623.2 800.5,619.2 805.7,615.0 810.9,610.5 816.1,605.2 821.3,601.1 826.5,597.7 831.7,593.8 836.9,590.6 842.1,586.2 847.3,582.1 852.5,578.1 857.7,572.8 862.9,567.5 868.1,562.8 873.2,557.8 878.4,553.8 883.6,549.8 888.8,547.9 894.0,547.5 899.2,546.0 904.4,544.3 909.6,543.4 914.8,541.9 920.0,541.9 925.2,540.5 930.4,539.9 935.6,538.7 940.8,536.4 946.0,534.4 951.2,531.2 956.3,527.9 961.5,525.3 966.7,522.5 971.9,520.7 977.1,518.2 982.3,515.7 987.5,514.3 992.7,513.0 997.9,511.5 1003.1,510.2 1008.3,508.5 1013.5,506.3 1018.7,504.1 1023.9,499.8 1029.1,495.8 1034.3,491.6 1039.4,487.8 1044.6,483.7 1049.8,479.3 1055.0,475.6 1060.2,473.9 1065.4,471.3 1070.6,470.9 1075.8,469.4 1081.0,467.5 1086.2,466.6 1091.4,465.5 1096.6,464.0 1101.8,462.3 1107.0,460.1 1112.2,458.8 1117.3,456.3 1122.5,454.3 1127.7,452.0 1132.9,450.2 1138.1,449.4 1143.3,448.9 1148.5,448.4 1153.7,447.8 1158.9,446.3 1164.1,445.9" fill="none" stroke="#45a149" stroke-width="1.8" stroke-linejoin="round" stroke-linecap="round"/>
<polyline clip-path="url(#cm)" points="1164.1,445.9 1169.3,447.4 1174.5,449.9 1179.7,452.6 1184.9,454.0 1190.1,454.8" fill="none" stroke="#ff5252" stroke-width="1.8" stroke-linejoin="round" stroke-linecap="round"/>
<polyline clip-path="url(#cm)" points="1190.1,454.8 1195.3,454.6 1200.4,453.8 1205.6,452.8 1210.8,451.5 1216.0,450.1" fill="none" stroke="#45a149" stroke-width="1.8" stroke-linejoin="round" stroke-linecap="round"/>
<polyline clip-path="url(#cm)" points="1216.0,450.1 1221.2,450.1 1226.4,450.5" fill="none" stroke="#ff5252" stroke-width="1.8" stroke-linejoin="round" stroke-linecap="round"/>
<polyline clip-path="url(#cm)" points="1226.4,450.5 1231.6,450.0 1236.8,448.7 1242.0,448.0 1247.2,447.7 1252.4,447.2" fill="none" stroke="#45a149" stroke-width="1.8" stroke-linejoin="round" stroke-linecap="round"/>
<polyline clip-path="url(#cm)" points="1252.4,447.2 1257.6,447.5 1262.8,448.2 1268.0,448.8 1273.2,450.3 1278.3,451.7 1283.5,453.1 1288.7,453.3 1293.9,454.3 1299.1,455.6 1304.3,457.1" fill="none" stroke="#ff5252" stroke-width="1.8" stroke-linejoin="round" stroke-linecap="round"/>
<polyline clip-path="url(#cm)" points="1304.3,457.1 1309.5,456.0 1314.7,454.8 1319.9,453.9 1325.1,452.4 1330.3,451.4 1335.5,450.1 1340.7,448.2 1345.9,445.5 1351.1,443.2 1356.3,438.6 1361.4,434.7 1366.6,430.7 1371.8,426.9 1377.0,423.3 1382.2,419.8 1387.4,415.8 1392.6,412.2 1397.8,408.4 1403.0,404.4 1408.2,399.7 1413.4,395.4 1418.6,392.2 1423.8,389.4 1429.0,386.6 1434.2,383.6 1439.4,380.1 1444.5,376.7 1449.7,373.9 1454.9,370.9 1460.1,366.5 1465.3,362.8 1470.5,359.0 1475.7,355.4 1480.9,352.2 1486.1,346.5 1491.3,341.1 1496.5,337.1 1501.7,332.4 1506.9,328.0 1512.1,322.5 1517.3,319.3 1522.4,315.5 1527.6,311.9 1532.8,309.6 1538.0,309.5 1543.2,308.5 1548.4,307.6 1553.6,306.4" fill="none" stroke="#45a149" stroke-width="1.8" stroke-linejoin="round" stroke-linecap="round"/>
<polyline clip-path="url(#cm)" points="1553.6,306.4 1558.8,306.5" fill="none" stroke="#ff5252" stroke-width="1.8" stroke-linejoin="round" stroke-linecap="round"/>
<polyline clip-path="url(#cm)" points="1558.8,306.5 1564.0,305.4 1569.2,303.5 1574.4,302.2 1579.6,300.5 1584.8,299.2 1590.0,297.5" fill="none" stroke="#45a149" stroke-width="1.8" stroke-linejoin="round" stroke-linecap="round"/>
<polyline clip-path="url(#cm)" points="1590.0,297.5 1595.2,297.5" fill="none" stroke="#ff5252" stroke-width="1.8" stroke-linejoin="round" stroke-linecap="round"/>
<polyline clip-path="url(#cm)" points="1595.2,297.5 1600.4,297.0" fill="none" stroke="#45a149" stroke-width="1.8" stroke-linejoin="round" stroke-linecap="round"/>
<polyline clip-path="url(#cm)" points="1600.4,297.0 1605.5,297.4 1610.7,299.6 1615.9,301.8 1621.1,303.1 1626.3,307.1 1631.5,311.8 1636.7,319.5 1641.9,326.3 1647.1,335.2 1652.3,341.0 1657.5,344.4 1662.7,348.6 1667.9,355.4 1673.1,363.3 1678.3,373.3 1683.4,384.3 1688.6,398.5 1693.8,414.0 1699.0,424.7 1704.2,434.4 1709.4,445.9 1714.6,460.1 1719.8,470.0 1725.0,477.8 1730.2,484.3 1735.4,489.2 1740.6,494.4 1745.8,498.7 1751.0,500.9 1756.2,503.6 1761.4,507.7 1766.5,510.9 1771.7,513.9 1776.9,519.4 1782.1,524.9 1787.3,528.9 1792.5,532.6 1797.7,537.1 1802.9,540.7 1808.1,543.7 1813.3,548.2 1818.5,551.5 1823.7,553.6 1828.9,556.5 1834.1,560.7 1839.3,565.0 1844.4,571.7 1849.6,579.9 1854.8,588.1 1860.0,595.3 1865.2,603.9 1870.4,613.0 1875.6,619.8 1880.8,626.2 1886.0,633.3 1891.2,637.2 1896.4,641.4 1901.6,647.2 1906.8,654.7 1912.0,661.3 1917.2,665.7 1922.4,670.1 1927.5,673.8 1932.7,678.0 1937.9,683.0 1943.1,687.6 1948.3,691.5 1953.5,696.4 1958.7,699.9 1963.9,702.0 1969.1,704.5 1974.3,708.8 1979.5,712.7 1984.7,720.4 1989.9,728.1 1995.1,736.3 2000.3,743.3 2005.5,749.8 2010.6,757.5 2015.8,765.6 2021.0,773.0 2026.2,777.6 2031.4,781.1 2036.6,784.2 2041.8,786.4 2047.0,788.8 2052.2,791.1 2057.4,793.2" fill="none" stroke="#ff5252" stroke-width="1.8" stroke-linejoin="round" stroke-linecap="round"/>
<polyline clip-path="url(#cm)" points="2057.4,793.2 2062.6,792.4 2067.8,790.8 2073.0,789.4 2078.2,786.8 2083.4,785.6 2088.5,784.8 2093.7,782.7 2098.9,779.7 2104.1,776.8 2109.3,774.7 2114.5,772.4 2119.7,771.0 2124.9,768.5 2130.1,766.1 2135.3,763.6 2140.5,762.0" fill="none" stroke="#45a149" stroke-width="1.8" stroke-linejoin="round" stroke-linecap="round"/>
<polyline clip-path="url(#cm)" points="2140.5,762.0 2145.7,762.3 2150.9,763.8 2156.1,765.7 2161.3,766.6" fill="none" stroke="#ff5252" stroke-width="1.8" stroke-linejoin="round" stroke-linecap="round"/>
<polyline clip-path="url(#cm)" points="2161.3,766.6 2166.5,766.0 2171.6,765.6 2176.8,764.3 2182.0,762.0 2187.2,758.1 2192.4,754.5 2197.6,750.8 2202.8,747.7 2208.0,743.7 2213.2,740.7 2218.4,738.2 2223.6,736.9 2228.8,733.6 2234.0,730.8" fill="none" stroke="#45a149" stroke-width="1.8" stroke-linejoin="round" stroke-linecap="round"/>
<g clip-path="url(#cm)" shape-rendering="crispEdges">
<rect x="15.00" y="1027.29" width="2.00" height="51.21" fill="#f5a5ad" />
<rect x="20.00" y="1020.24" width="2.00" height="92.56" fill="#a6cbd3" />
<rect x="25.00" y="992.35" width="2.00" height="79.41" fill="#f5a5ad" />
<rect x="31.00" y="1027.29" width="2.00" height="68.61" fill="#a6cbd3" />
<rect x="36.00" y="1005.24" width="2.00" height="45.35" fill="#a6cbd3" />
<rect x="41.00" y="1020.94" width="2.00" height="57.88" fill="#f5a5ad" />
<rect x="46.00" y="1037.68" width="2.00" height="61.09" fill="#a6cbd3" />
<rect x="51.00" y="1013.53" width="2.00" height="32.12" fill="#a6cbd3" />
<rect x="56.00" y="1000.29" width="2.00" height="36.18" fill="#a6cbd3" />
<rect x="62.00" y="975.06" width="2.00" height="53.47" fill="#f5a5ad" />
<rect x="67.00" y="998.99" width="2.00" height="45.77" fill="#a6cbd3" />
<rect x="72.00" y="995.00" width="2.00" height="32.65" fill="#f5a5ad" />
<rect x="77.00" y="946.64" width="2.00" height="66.01" fill="#a6cbd3" />
<rect x="82.00" y="938.00" width="2.00" height="33.71" fill="#a6cbd3" />
<rect x="88.00" y="938.00" width="2.00" height="31.76" fill="#f5a5ad" />
<rect x="93.00" y="954.06" width="2.00" height="27.71" fill="#f5a5ad" />
<rect x="98.00" y="946.12" width="2.00" height="29.47" fill="#a6cbd3" />
<rect x="103.00" y="933.24" width="2.00" height="41.47" fill="#f5a5ad" />
<rect x="108.00" y="917.00" width="2.00" height="54.29" fill="#a6cbd3" />
<rect x="114.00" y="942.06" width="2.00" height="50.29" fill="#f5a5ad" />
<rect x="119.00" y="972.06" width="2.00" height="48.53" fill="#f5a5ad" />
<rect x="124.00" y="983.18" width="2.00" height="29.47" fill="#a6cbd3" />
<rect x="129.00" y="888.24" width="2.00" height="121.41" fill="#a6cbd3" />
<rect x="134.00" y="853.82" width="2.00" height="97.06" fill="#a6cbd3" />
<rect x="140.00" y="855.24" width="2.00" height="37.41" fill="#a6cbd3" />
<rect x="145.00" y="847.12" width="2.00" height="74.65" fill="#f5a5ad" />
<rect x="150.00" y="881.18" width="2.00" height="49.41" fill="#f5a5ad" />
<rect x="155.00" y="914.35" width="2.00" height="76.24" fill="#f5a5ad" />
<rect x="160.00" y="916.12" width="2.00" height="52.41" fill="#a6cbd3" />
<rect x="166.00" y="880.29" width="2.00" height="55.24" fill="#a6cbd3" />
<rect x="171.00" y="884.18" width="2.00" height="48.18" fill="#f5a5ad" />
<rect x="176.00" y="918.24" width="2.00" height="58.24" fill="#f5a5ad" />
<rect x="181.00" y="945.06" width="2.00" height="28.24" fill="#f5a5ad" />
<rect x="186.00" y="941.18" width="2.00" height="33.53" fill="#a6cbd3" />
<rect x="192.00" y="946.12" width="2.00" height="18.88" fill="#f5a5ad" />
<rect x="197.00" y="944.35" width="2.00" height="19.95" fill="#f5a5ad" />
<rect x="202.00" y="929.18" width="2.00" height="43.41" fill="#a6cbd3" />
<rect x="207.00" y="912.94" width="2.00" height="24.71" fill="#a6cbd3" />
<rect x="212.00" y="919.12" width="2.00" height="37.41" fill="#f5a5ad" />
<rect x="217.00" y="914.18" width="2.00" height="19.59" fill="#a6cbd3" />
<rect x="223.00" y="905.00" width="2.00" height="21.71" fill="#a6cbd3" />
<rect x="228.00" y="901.12" width="2.00" height="23.29" fill="#f5a5ad" />
<rect x="233.00" y="914.35" width="2.00" height="22.41" fill="#f5a5ad" />
<rect x="238.00" y="916.12" width="2.00" height="27.71" fill="#f5a5ad" />
<rect x="243.00" y="931.12" width="2.00" height="23.29" fill="#f5a5ad" />
<rect x="249.00" y="945.70" width="2.00" height="12.59" fill="#f5a5ad" />
<rect x="254.00" y="945.06" width="2.00" height="17.16" fill="#f5a5ad" />
<rect x="259.00" y="939.94" width="2.00" height="22.76" fill="#a6cbd3" />
<rect x="264.00" y="922.12" width="2.00" height="34.06" fill="#f5a5ad" />
<rect x="269.00" y="946.12" width="2.00" height="68.65" fill="#f5a5ad" />
<rect x="275.00" y="982.12" width="2.00" height="41.47" fill="#f5a5ad" />
<rect x="280.00" y="996.24" width="2.00" height="30.18" fill="#a6cbd3" />
<rect x="285.00" y="988.82" width="2.00" height="25.94" fill="#f5a5ad" />
<rect x="290.00" y="980.00" width="2.00" height="33.53" fill="#a6cbd3" />
<rect x="295.00" y="980.00" width="2.00" height="58.59" fill="#a6cbd3" />
<rect x="301.00" y="978.24" width="2.00" height="18.18" fill="#a6cbd3" />
<rect x="306.00" y="971.18" width="2.00" height="22.41" fill="#a6cbd3" />
<rect x="311.00" y="961.12" width="2.00" height="42.35" fill="#f5a5ad" />
<rect x="316.00" y="961.12" width="2.00" height="35.29" fill="#a6cbd3" />
<rect x="321.00" y="951.76" width="2.00" height="27.88" fill="#a6cbd3" />
<rect x="327.00" y="953.53" width="2.00" height="25.24" fill="#f5a5ad" />
<rect x="332.00" y="972.06" width="2.00" height="38.93" fill="#f5a5ad" />
<rect x="337.00" y="980.00" width="2.00" height="27.27" fill="#a6cbd3" />
<rect x="342.00" y="967.29" width="2.00" height="19.24" fill="#a6cbd3" />
<rect x="347.00" y="946.12" width="2.00" height="26.47" fill="#a6cbd3" />
<rect x="353.00" y="917.88" width="2.00" height="37.76" fill="#a6cbd3" />
<rect x="358.00" y="877.12" width="2.00" height="51.35" fill="#a6cbd3" />
<rect x="363.00" y="902.88" width="2.00" height="32.65" fill="#f5a5ad" />
<rect x="368.00" y="894.94" width="2.00" height="33.88" fill="#a6cbd3" />
<rect x="373.00" y="862.12" width="2.00" height="48.17" fill="#a6cbd3" />
<rect x="378.00" y="830.00" width="2.00" height="56.82" fill="#a6cbd3" />
<rect x="384.00" y="837.06" width="2.00" height="41.47" fill="#f5a5ad" />
<rect x="389.00" y="840.06" width="2.00" height="43.41" fill="#a6cbd3" />
<rect x="394.00" y="835.82" width="2.00" height="42.71" fill="#a6cbd3" />
<rect x="399.00" y="777.21" width="2.00" height="81.11" fill="#a6cbd3" />
<rect x="404.00" y="757.39" width="2.00" height="53.61" fill="#a6cbd3" />
<rect x="410.00" y="730.23" width="2.00" height="31.93" fill="#a6cbd3" />
<rect x="415.00" y="723.40" width="2.00" height="44.24" fill="#f5a5ad" />
<rect x="420.00" y="751.83" width="2.00" height="18.55" fill="#a6cbd3" />
<rect x="425.00" y="722.58" width="2.00" height="36.27" fill="#a6cbd3" />
<rect x="430.00" y="706.20" width="2.00" height="27.89" fill="#a6cbd3" />
<rect x="436.00" y="695.27" width="2.00" height="35.44" fill="#a6cbd3" />
<rect x="441.00" y="713.76" width="2.00" height="51.70" fill="#f5a5ad" />
<rect x="446.00" y="732.33" width="2.00" height="20.30" fill="#a6cbd3" />
<rect x="451.00" y="700.74" width="2.00" height="38.04" fill="#a6cbd3" />
<rect x="456.00" y="648.30" width="2.00" height="71.94" fill="#a6cbd3" />
<rect x="462.00" y="600.83" width="2.00" height="84.88" fill="#a6cbd3" />
<rect x="467.00" y="601.87" width="2.00" height="51.07" fill="#f5a5ad" />
<rect x="472.00" y="623.35" width="2.00" height="39.15" fill="#a6cbd3" />
<rect x="477.00" y="580.57" width="2.00" height="49.27" fill="#a6cbd3" />
<rect x="482.00" y="553.26" width="2.00" height="35.84" fill="#a6cbd3" />
<rect x="488.00" y="553.26" width="2.00" height="72.37" fill="#f5a5ad" />
<rect x="493.00" y="580.57" width="2.00" height="40.97" fill="#a6cbd3" />
<rect x="498.00" y="566.91" width="2.00" height="35.96" fill="#a6cbd3" />
<rect x="503.00" y="565.55" width="2.00" height="136.01" fill="#f5a5ad" />
<rect x="508.00" y="598.31" width="2.00" height="54.63" fill="#f5a5ad" />
<rect x="514.00" y="614.16" width="2.00" height="41.51" fill="#a6cbd3" />
<rect x="519.00" y="622.70" width="2.00" height="93.87" fill="#f5a5ad" />
<rect x="524.00" y="606.51" width="2.00" height="96.95" fill="#a6cbd3" />
<rect x="529.00" y="587.94" width="2.00" height="48.61" fill="#a6cbd3" />
<rect x="534.00" y="580.02" width="2.00" height="42.46" fill="#f5a5ad" />
<rect x="539.00" y="606.03" width="2.00" height="70.12" fill="#f5a5ad" />
<rect x="545.00" y="635.19" width="2.00" height="39.60" fill="#f5a5ad" />
<rect x="550.00" y="601.05" width="2.00" height="69.64" fill="#a6cbd3" />
<rect x="555.00" y="611.97" width="2.00" height="24.58" fill="#f5a5ad" />
<rect x="560.00" y="583.30" width="2.00" height="46.73" fill="#a6cbd3" />
<rect x="565.00" y="575.11" width="2.00" height="31.95" fill="#f5a5ad" />
<rect x="571.00" y="589.20" width="2.00" height="30.14" fill="#a6cbd3" />
<rect x="576.00" y="521.18" width="2.00" height="71.83" fill="#a6cbd3" />
<rect x="581.00" y="491.13" width="2.00" height="37.66" fill="#a6cbd3" />
<rect x="586.00" y="478.03" width="2.00" height="69.10" fill="#f5a5ad" />
<rect x="591.00" y="515.77" width="2.00" height="55.93" fill="#f5a5ad" />
<rect x="597.00" y="518.45" width="2.00" height="35.50" fill="#a6cbd3" />
<rect x="602.00" y="523.37" width="2.00" height="26.49" fill="#a6cbd3" />
<rect x="607.00" y="499.33" width="2.00" height="110.61" fill="#f5a5ad" />
<rect x="612.00" y="558.05" width="2.00" height="26.87" fill="#a6cbd3" />
<rect x="617.00" y="567.01" width="2.00" height="42.93" fill="#f5a5ad" />
<rect x="623.00" y="572.67" width="2.00" height="46.83" fill="#a6cbd3" />
<rect x="628.00" y="526.09" width="2.00" height="58.95" fill="#a6cbd3" />
<rect x="633.00" y="548.49" width="2.00" height="27.32" fill="#f5a5ad" />
<rect x="638.00" y="559.41" width="2.00" height="32.23" fill="#f5a5ad" />
<rect x="643.00" y="551.22" width="2.00" height="31.29" fill="#f5a5ad" />
<rect x="649.00" y="538.93" width="2.00" height="58.72" fill="#a6cbd3" />
<rect x="654.00" y="531.55" width="2.00" height="27.31" fill="#a6cbd3" />
<rect x="659.00" y="531.55" width="2.00" height="11.53" fill="#a6cbd3" />
<rect x="664.00" y="527.18" width="2.00" height="54.62" fill="#f5a5ad" />
<rect x="669.00" y="557.23" width="2.00" height="61.54" fill="#f5a5ad" />
<rect x="675.00" y="608.64" width="2.00" height="23.96" fill="#f5a5ad" />
<rect x="680.00" y="608.57" width="2.00" height="69.64" fill="#f5a5ad" />
<rect x="685.00" y="619.50" width="2.00" height="36.87" fill="#a6cbd3" />
<rect x="690.00" y="608.03" width="2.00" height="22.88" fill="#a6cbd3" />
<rect x="695.00" y="599.83" width="2.00" height="40.58" fill="#f5a5ad" />
<rect x="700.00" y="627.69" width="2.00" height="60.08" fill="#f5a5ad" />
<rect x="706.00" y="678.21" width="2.00" height="77.84" fill="#f5a5ad" />
<rect x="711.00" y="687.77" width="2.00" height="99.03" fill="#a6cbd3" />
<rect x="716.00" y="671.39" width="2.00" height="45.06" fill="#a6cbd3" />
<rect x="721.00" y="637.25" width="2.00" height="73.02" fill="#a6cbd3" />
<rect x="726.00" y="637.25" width="2.00" height="31.29" fill="#a6cbd3" />
<rect x="732.00" y="625.50" width="2.00" height="63.63" fill="#f5a5ad" />
<rect x="737.00" y="656.37" width="2.00" height="47.25" fill="#f5a5ad" />
<rect x="742.00" y="633.15" width="2.00" height="64.01" fill="#a6cbd3" />
<rect x="747.00" y="608.57" width="2.00" height="47.49" fill="#a6cbd3" />
<rect x="752.00" y="604.47" width="2.00" height="30.04" fill="#f5a5ad" />
<rect x="758.00" y="586.39" width="2.00" height="56.06" fill="#a6cbd3" />
<rect x="763.00" y="564.67" width="2.00" height="48.00" fill="#a6cbd3" />
<rect x="768.00" y="479.66" width="2.00" height="95.37" fill="#a6cbd3" />
<rect x="773.00" y="461.09" width="2.00" height="105.97" fill="#f5a5ad" />
<rect x="778.00" y="532.10" width="2.00" height="34.96" fill="#f5a5ad" />
<rect x="784.00" y="548.14" width="2.00" height="9.91" fill="#a6cbd3" />
<rect x="789.00" y="491.13" width="2.00" height="73.13" fill="#a6cbd3" />
<rect x="794.00" y="472.56" width="2.00" height="49.88" fill="#f5a5ad" />
<rect x="799.00" y="507.14" width="2.00" height="35.34" fill="#a6cbd3" />
<rect x="804.00" y="491.68" width="2.00" height="23.62" fill="#a6cbd3" />
<rect x="810.00" y="487.50" width="2.00" height="28.22" fill="#a6cbd3" />
<rect x="815.00" y="408.38" width="2.00" height="85.92" fill="#a6cbd3" />
<rect x="820.00" y="460.55" width="2.00" height="63.36" fill="#f5a5ad" />
<rect x="825.00" y="471.47" width="2.00" height="62.00" fill="#f5a5ad" />
<rect x="830.00" y="486.24" width="2.00" height="25.38" fill="#a6cbd3" />
<rect x="836.00" y="478.84" width="2.00" height="47.79" fill="#f5a5ad" />
<rect x="841.00" y="458.47" width="2.00" height="49.05" fill="#a6cbd3" />
<rect x="846.00" y="442.79" width="2.00" height="31.95" fill="#f5a5ad" />
<rect x="851.00" y="465.54" width="2.00" height="29.15" fill="#a6cbd3" />
<rect x="856.00" y="419.90" width="2.00" height="61.67" fill="#a6cbd3" />
<rect x="861.00" y="407.29" width="2.00" height="28.34" fill="#a6cbd3" />
<rect x="867.00" y="420.13" width="2.00" height="53.26" fill="#f5a5ad" />
<rect x="872.00" y="406.47" width="2.00" height="34.08" fill="#a6cbd3" />
<rect x="877.00" y="393.36" width="2.00" height="61.72" fill="#f5a5ad" />
<rect x="882.00" y="422.31" width="2.00" height="44.24" fill="#a6cbd3" />
<rect x="887.00" y="432.32" width="2.00" height="130.36" fill="#f5a5ad" />
<rect x="893.00" y="477.48" width="2.00" height="97.77" fill="#f5a5ad" />
<rect x="898.00" y="493.32" width="2.00" height="69.37" fill="#a6cbd3" />
<rect x="903.00" y="494.68" width="2.00" height="31.95" fill="#a6cbd3" />
<rect x="908.00" y="499.23" width="2.00" height="47.89" fill="#f5a5ad" />
<rect x="913.00" y="484.31" width="2.00" height="37.69" fill="#a6cbd3" />
<rect x="919.00" y="493.32" width="2.00" height="52.44" fill="#f5a5ad" />
<rect x="924.00" y="493.32" width="2.00" height="55.28" fill="#a6cbd3" />
<rect x="929.00" y="493.32" width="2.00" height="35.50" fill="#f5a5ad" />
<rect x="934.00" y="493.32" width="2.00" height="33.87" fill="#a6cbd3" />
<rect x="939.00" y="472.02" width="2.00" height="42.25" fill="#a6cbd3" />
<rect x="945.00" y="469.21" width="2.00" height="13.74" fill="#f5a5ad" />
<rect x="950.00" y="416.03" width="2.00" height="65.16" fill="#a6cbd3" />
<rect x="955.00" y="426.95" width="2.00" height="23.08" fill="#a6cbd3" />
<rect x="960.00" y="424.22" width="2.00" height="38.24" fill="#f5a5ad" />
<rect x="965.00" y="442.31" width="2.00" height="21.51" fill="#a6cbd3" />
<rect x="971.00" y="426.13" width="2.00" height="59.54" fill="#f5a5ad" />
<rect x="976.00" y="444.24" width="2.00" height="30.51" fill="#a6cbd3" />
<rect x="981.00" y="427.77" width="2.00" height="26.49" fill="#a6cbd3" />
<rect x="986.00" y="448.95" width="2.00" height="32.54" fill="#f5a5ad" />
<rect x="991.00" y="475.31" width="2.00" height="29.48" fill="#f5a5ad" />
<rect x="997.00" y="465.74" width="2.00" height="31.68" fill="#a6cbd3" />
<rect x="1002.00" y="461.91" width="2.00" height="31.13" fill="#f5a5ad" />
<rect x="1007.00" y="455.08" width="2.00" height="20.53" fill="#a6cbd3" />
<rect x="1012.00" y="443.83" width="2.00" height="29.55" fill="#a6cbd3" />
<rect x="1017.00" y="433.24" width="2.00" height="59.81" fill="#f5a5ad" />
<rect x="1022.00" y="370.97" width="2.00" height="88.35" fill="#a6cbd3" />
<rect x="1028.00" y="373.70" width="2.00" height="45.88" fill="#f5a5ad" />
<rect x="1033.00" y="364.96" width="2.00" height="28.40" fill="#a6cbd3" />
<rect x="1038.00" y="358.68" width="2.00" height="41.79" fill="#f5a5ad" />
<rect x="1043.00" y="360.86" width="2.00" height="26.37" fill="#a6cbd3" />
<rect x="1048.00" y="351.85" width="2.00" height="25.31" fill="#a6cbd3" />
<rect x="1054.00" y="356.13" width="2.00" height="35.32" fill="#f5a5ad" />
<rect x="1059.00" y="363.10" width="2.00" height="64.67" fill="#f5a5ad" />
<rect x="1064.00" y="390.63" width="2.00" height="49.43" fill="#a6cbd3" />
<rect x="1069.00" y="400.81" width="2.00" height="75.30" fill="#f5a5ad" />
<rect x="1074.00" y="422.86" width="2.00" height="53.80" fill="#a6cbd3" />
<rect x="1080.00" y="408.38" width="2.00" height="37.69" fill="#a6cbd3" />
<rect x="1085.00" y="409.20" width="2.00" height="46.43" fill="#f5a5ad" />
<rect x="1090.00" y="425.04" width="2.00" height="29.77" fill="#a6cbd3" />
<rect x="1095.00" y="418.43" width="2.00" height="31.74" fill="#a6cbd3" />
<rect x="1100.00" y="408.38" width="2.00" height="14.65" fill="#a6cbd3" />
<rect x="1106.00" y="390.63" width="2.00" height="34.96" fill="#a6cbd3" />
<rect x="1111.00" y="379.98" width="2.00" height="54.62" fill="#f5a5ad" />
<rect x="1116.00" y="379.56" width="2.00" height="46.57" fill="#a6cbd3" />
<rect x="1121.00" y="376.97" width="2.00" height="28.25" fill="#f5a5ad" />
<rect x="1126.00" y="385.80" width="2.00" height="21.49" fill="#a6cbd3" />
<rect x="1132.00" y="381.07" width="2.00" height="21.80" fill="#f5a5ad" />
<rect x="1137.00" y="385.17" width="2.00" height="48.07" fill="#f5a5ad" />
<rect x="1142.00" y="399.45" width="2.00" height="61.45" fill="#f5a5ad" />
<rect x="1147.00" y="418.57" width="2.00" height="28.68" fill="#a6cbd3" />
<rect x="1152.00" y="422.67" width="2.00" height="17.75" fill="#a6cbd3" />
<rect x="1158.00" y="402.73" width="2.00" height="36.93" fill="#a6cbd3" />
<rect x="1163.00" y="397.27" width="2.00" height="43.01" fill="#f5a5ad" />
<rect x="1168.00" y="418.57" width="2.00" height="93.13" fill="#f5a5ad" />
<rect x="1173.00" y="478.66" width="2.00" height="118.34" fill="#f5a5ad" />
<rect x="1178.00" y="515.53" width="2.00" height="49.47" fill="#f5a5ad" />
<rect x="1183.00" y="483.57" width="2.00" height="53.08" fill="#a6cbd3" />
<rect x="1189.00" y="469.10" width="2.00" height="23.76" fill="#a6cbd3" />
<rect x="1194.00" y="439.05" width="2.00" height="38.78" fill="#a6cbd3" />
<rect x="1199.00" y="418.57" width="2.00" height="38.24" fill="#a6cbd3" />
<rect x="1204.00" y="415.84" width="2.00" height="30.04" fill="#a6cbd3" />
<rect x="1209.00" y="396.72" width="2.00" height="33.63" fill="#a6cbd3" />
<rect x="1215.00" y="406.28" width="2.00" height="10.92" fill="#a6cbd3" />
<rect x="1220.00" y="393.45" width="2.00" height="63.36" fill="#f5a5ad" />
<rect x="1225.00" y="436.32" width="2.00" height="51.07" fill="#f5a5ad" />
<rect x="1230.00" y="432.77" width="2.00" height="67.73" fill="#a6cbd3" />
<rect x="1235.00" y="407.10" width="2.00" height="30.59" fill="#a6cbd3" />
<rect x="1241.00" y="407.65" width="2.00" height="30.04" fill="#f5a5ad" />
<rect x="1246.00" y="415.84" width="2.00" height="45.06" fill="#f5a5ad" />
<rect x="1251.00" y="426.22" width="2.00" height="19.66" fill="#a6cbd3" />
<rect x="1256.00" y="409.01" width="2.00" height="54.62" fill="#f5a5ad" />
<rect x="1261.00" y="448.61" width="2.00" height="25.13" fill="#f5a5ad" />
<rect x="1267.00" y="456.81" width="2.00" height="25.95" fill="#a6cbd3" />
<rect x="1272.00" y="456.81" width="2.00" height="48.61" fill="#f5a5ad" />
<rect x="1277.00" y="478.11" width="2.00" height="46.43" fill="#a6cbd3" />
<rect x="1282.00" y="482.75" width="2.00" height="32.77" fill="#f5a5ad" />
<rect x="1287.00" y="454.08" width="2.00" height="43.70" fill="#a6cbd3" />
<rect x="1293.00" y="453.53" width="2.00" height="29.67" fill="#f5a5ad" />
<rect x="1298.00" y="462.27" width="2.00" height="40.42" fill="#f5a5ad" />
<rect x="1303.00" y="481.39" width="2.00" height="32.23" fill="#f5a5ad" />
<rect x="1308.00" y="424.03" width="2.00" height="77.02" fill="#a6cbd3" />
<rect x="1313.00" y="412.56" width="2.00" height="18.25" fill="#a6cbd3" />
<rect x="1319.00" y="410.38" width="2.00" height="21.87" fill="#f5a5ad" />
<rect x="1324.00" y="385.25" width="2.00" height="48.34" fill="#a6cbd3" />
<rect x="1329.00" y="404.92" width="2.00" height="25.13" fill="#f5a5ad" />
<rect x="1334.00" y="408.19" width="2.00" height="29.50" fill="#a6cbd3" />
<rect x="1339.00" y="392.63" width="2.00" height="31.41" fill="#a6cbd3" />
<rect x="1344.00" y="372.14" width="2.00" height="44.24" fill="#a6cbd3" />
<rect x="1350.00" y="370.78" width="2.00" height="30.86" fill="#f5a5ad" />
<rect x="1355.00" y="303.05" width="2.00" height="81.37" fill="#a6cbd3" />
<rect x="1360.00" y="303.05" width="2.00" height="34.14" fill="#f5a5ad" />
<rect x="1365.00" y="310.69" width="2.00" height="34.68" fill="#a6cbd3" />
<rect x="1370.00" y="314.24" width="2.00" height="34.68" fill="#f5a5ad" />
<rect x="1376.00" y="310.69" width="2.00" height="33.59" fill="#f5a5ad" />
<rect x="1381.00" y="289.66" width="2.00" height="46.97" fill="#f5a5ad" />
<rect x="1386.00" y="301.13" width="2.00" height="44.24" fill="#a6cbd3" />
<rect x="1391.00" y="294.31" width="2.00" height="32.77" fill="#f5a5ad" />
<rect x="1396.00" y="303.32" width="2.00" height="15.57" fill="#a6cbd3" />
<rect x="1402.00" y="292.94" width="2.00" height="18.57" fill="#a6cbd3" />
<rect x="1407.00" y="265.08" width="2.00" height="41.30" fill="#a6cbd3" />
<rect x="1412.00" y="264.26" width="2.00" height="43.15" fill="#f5a5ad" />
<rect x="1417.00" y="271.91" width="2.00" height="42.88" fill="#f5a5ad" />
<rect x="1422.00" y="296.22" width="2.00" height="38.24" fill="#f5a5ad" />
<rect x="1428.00" y="303.87" width="2.00" height="24.03" fill="#a6cbd3" />
<rect x="1433.00" y="294.31" width="2.00" height="19.94" fill="#a6cbd3" />
<rect x="1438.00" y="278.47" width="2.00" height="34.14" fill="#a6cbd3" />
<rect x="1443.00" y="278.47" width="2.00" height="11.20" fill="#a6cbd3" />
<rect x="1448.00" y="277.37" width="2.00" height="27.31" fill="#f5a5ad" />
<rect x="1454.00" y="277.92" width="2.00" height="29.50" fill="#a6cbd3" />
<rect x="1459.00" y="243.24" width="2.00" height="53.27" fill="#a6cbd3" />
<rect x="1464.00" y="238.32" width="2.00" height="31.41" fill="#f5a5ad" />
<rect x="1469.00" y="246.51" width="2.00" height="21.85" fill="#a6cbd3" />
<rect x="1474.00" y="250.06" width="2.00" height="21.85" fill="#f5a5ad" />
<rect x="1480.00" y="251.97" width="2.00" height="44.52" fill="#f5a5ad" />
<rect x="1485.00" y="186.97" width="2.00" height="86.30" fill="#a6cbd3" />
<rect x="1490.00" y="163.21" width="2.00" height="32.56" fill="#f5a5ad" />
<rect x="1495.00" y="171.41" width="2.00" height="60.63" fill="#f5a5ad" />
<rect x="1500.00" y="194.62" width="2.00" height="32.44" fill="#a6cbd3" />
<rect x="1505.00" y="194.62" width="2.00" height="19.12" fill="#f5a5ad" />
<rect x="1511.00" y="167.86" width="2.00" height="50.09" fill="#a6cbd3" />
<rect x="1516.00" y="168.13" width="2.00" height="86.58" fill="#f5a5ad" />
<rect x="1521.00" y="183.15" width="2.00" height="50.53" fill="#a6cbd3" />
<rect x="1526.00" y="204.18" width="2.00" height="14.73" fill="#f5a5ad" />
<rect x="1531.00" y="213.74" width="2.00" height="51.89" fill="#f5a5ad" />
<rect x="1537.00" y="242.24" width="2.00" height="194.08" fill="#f5a5ad" />
<rect x="1542.00" y="271.29" width="2.00" height="69.45" fill="#a6cbd3" />
<rect x="1547.00" y="257.98" width="2.00" height="33.59" fill="#f5a5ad" />
<rect x="1552.00" y="262.35" width="2.00" height="25.13" fill="#a6cbd3" />
<rect x="1557.00" y="268.36" width="2.00" height="48.61" fill="#f5a5ad" />
<rect x="1563.00" y="273.00" width="2.00" height="49.43" fill="#a6cbd3" />
<rect x="1568.00" y="236.13" width="2.00" height="49.52" fill="#a6cbd3" />
<rect x="1573.00" y="245.15" width="2.00" height="36.87" fill="#f5a5ad" />
<rect x="1578.00" y="241.87" width="2.00" height="38.78" fill="#a6cbd3" />
<rect x="1583.00" y="247.06" width="2.00" height="25.95" fill="#f5a5ad" />
<rect x="1589.00" y="236.13" width="2.00" height="42.61" fill="#a6cbd3" />
<rect x="1594.00" y="239.75" width="2.00" height="66.03" fill="#f5a5ad" />
<rect x="1599.00" y="277.92" width="2.00" height="41.79" fill="#a6cbd3" />
<rect x="1604.00" y="280.65" width="2.00" height="73.19" fill="#f5a5ad" />
<rect x="1609.00" y="296.03" width="2.00" height="73.39" fill="#f5a5ad" />
<rect x="1615.00" y="339.37" width="2.00" height="57.35" fill="#a6cbd3" />
<rect x="1620.00" y="333.09" width="2.00" height="35.78" fill="#a6cbd3" />
<rect x="1625.00" y="320.86" width="2.00" height="105.91" fill="#f5a5ad" />
<rect x="1630.00" y="414.39" width="2.00" height="57.98" fill="#f5a5ad" />
<rect x="1635.00" y="412.90" width="2.00" height="115.46" fill="#f5a5ad" />
<rect x="1641.00" y="464.18" width="2.00" height="268.47" fill="#a6cbd3" />
<rect x="1646.00" y="477.84" width="2.00" height="109.24" fill="#f5a5ad" />
<rect x="1651.00" y="492.86" width="2.00" height="112.52" fill="#a6cbd3" />
<rect x="1656.00" y="432.23" width="2.00" height="69.37" fill="#a6cbd3" />
<rect x="1661.00" y="432.23" width="2.00" height="37.36" fill="#f5a5ad" />
<rect x="1666.00" y="457.35" width="2.00" height="91.49" fill="#f5a5ad" />
<rect x="1672.00" y="520.17" width="2.00" height="79.20" fill="#f5a5ad" />
<rect x="1677.00" y="557.04" width="2.00" height="162.50" fill="#f5a5ad" />
<rect x="1682.00" y="609.75" width="2.00" height="92.86" fill="#f5a5ad" />
<rect x="1687.00" y="654.80" width="2.00" height="291.55" fill="#f5a5ad" />
<rect x="1692.00" y="754.08" width="2.00" height="170.42" fill="#f5a5ad" />
<rect x="1698.00" y="702.73" width="2.00" height="159.77" fill="#a6cbd3" />
<rect x="1703.00" y="664.50" width="2.00" height="140.65" fill="#a6cbd3" />
<rect x="1708.00" y="654.94" width="2.00" height="107.33" fill="#f5a5ad" />
<rect x="1713.00" y="736.87" width="2.00" height="126.90" fill="#f5a5ad" />
<rect x="1718.00" y="721.30" width="2.00" height="134.92" fill="#a6cbd3" />
<rect x="1724.00" y="683.23" width="2.00" height="59.52" fill="#a6cbd3" />
<rect x="1729.00" y="653.52" width="2.00" height="37.34" fill="#a6cbd3" />
<rect x="1734.00" y="618.49" width="2.00" height="41.04" fill="#a6cbd3" />
<rect x="1739.00" y="601.55" width="2.00" height="42.88" fill="#f5a5ad" />
<rect x="1744.00" y="606.20" width="2.00" height="47.79" fill="#a6cbd3" />
<rect x="1750.00" y="534.37" width="2.00" height="92.86" fill="#a6cbd3" />
<rect x="1755.00" y="541.47" width="2.00" height="51.07" fill="#f5a5ad" />
<rect x="1760.00" y="567.36" width="2.00" height="74.34" fill="#f5a5ad" />
<rect x="1765.00" y="594.56" width="2.00" height="81.83" fill="#a6cbd3" />
<rect x="1770.00" y="578.07" width="2.00" height="18.26" fill="#f5a5ad" />
<rect x="1776.00" y="589.01" width="2.00" height="80.82" fill="#f5a5ad" />
<rect x="1781.00" y="646.34" width="2.00" height="65.00" fill="#f5a5ad" />
<rect x="1786.00" y="632.14" width="2.00" height="84.66" fill="#a6cbd3" />
<rect x="1791.00" y="598.55" width="2.00" height="40.79" fill="#a6cbd3" />
<rect x="1796.00" y="613.57" width="2.00" height="48.07" fill="#f5a5ad" />
<rect x="1802.00" y="634.32" width="2.00" height="44.25" fill="#a6cbd3" />
<rect x="1807.00" y="610.29" width="2.00" height="29.19" fill="#a6cbd3" />
<rect x="1812.00" y="619.31" width="2.00" height="70.19" fill="#f5a5ad" />
<rect x="1817.00" y="639.33" width="2.00" height="35.14" fill="#a6cbd3" />
<rect x="1822.00" y="582.16" width="2.00" height="55.59" fill="#a6cbd3" />
<rect x="1827.00" y="605.38" width="2.00" height="30.58" fill="#f5a5ad" />
<rect x="1833.00" y="622.58" width="2.00" height="62.00" fill="#f5a5ad" />
<rect x="1838.00" y="661.64" width="2.00" height="42.06" fill="#f5a5ad" />
<rect x="1843.00" y="674.42" width="2.00" height="78.99" fill="#f5a5ad" />
<rect x="1848.00" y="728.68" width="2.00" height="97.50" fill="#f5a5ad" />
<rect x="1853.00" y="762.27" width="2.00" height="77.02" fill="#f5a5ad" />
<rect x="1859.00" y="776.47" width="2.00" height="47.79" fill="#a6cbd3" />
<rect x="1864.00" y="746.97" width="2.00" height="102.95" fill="#f5a5ad" />
<rect x="1869.00" y="829.08" width="2.00" height="62.92" fill="#f5a5ad" />
<rect x="1874.00" y="796.95" width="2.00" height="67.21" fill="#a6cbd3" />
<rect x="1879.00" y="785.21" width="2.00" height="48.07" fill="#a6cbd3" />
<rect x="1885.00" y="790.13" width="2.00" height="38.95" fill="#f5a5ad" />
<rect x="1890.00" y="732.77" width="2.00" height="102.80" fill="#a6cbd3" />
<rect x="1895.00" y="706.83" width="2.00" height="54.62" fill="#f5a5ad" />
<rect x="1900.00" y="743.70" width="2.00" height="65.00" fill="#f5a5ad" />
<rect x="1905.00" y="793.22" width="2.00" height="68.47" fill="#f5a5ad" />
<rect x="1911.00" y="837.27" width="2.00" height="42.98" fill="#a6cbd3" />
<rect x="1916.00" y="776.47" width="2.00" height="69.64" fill="#a6cbd3" />
<rect x="1921.00" y="761.45" width="2.00" height="36.87" fill="#f5a5ad" />
<rect x="1926.00" y="763.36" width="2.00" height="30.86" fill="#a6cbd3" />
<rect x="1931.00" y="747.25" width="2.00" height="53.26" fill="#f5a5ad" />
<rect x="1937.00" y="787.94" width="2.00" height="42.33" fill="#f5a5ad" />
<rect x="1942.00" y="798.87" width="2.00" height="21.30" fill="#a6cbd3" />
<rect x="1947.00" y="784.66" width="2.00" height="43.15" fill="#a6cbd3" />
<rect x="1952.00" y="793.40" width="2.00" height="45.88" fill="#f5a5ad" />
<rect x="1957.00" y="788.76" width="2.00" height="49.98" fill="#a6cbd3" />
<rect x="1963.00" y="750.42" width="2.00" height="53.40" fill="#a6cbd3" />
<rect x="1968.00" y="751.34" width="2.00" height="22.17" fill="#f5a5ad" />
<rect x="1973.00" y="761.34" width="2.00" height="99.80" fill="#f5a5ad" />
<rect x="1978.00" y="813.34" width="2.00" height="29.22" fill="#a6cbd3" />
<rect x="1983.00" y="817.44" width="2.00" height="112.52" fill="#f5a5ad" />
<rect x="1988.00" y="894.45" width="2.00" height="65.55" fill="#f5a5ad" />
<rect x="1994.00" y="935.36" width="2.00" height="54.13" fill="#f5a5ad" />
<rect x="1999.00" y="915.76" width="2.00" height="44.29" fill="#a6cbd3" />
<rect x="2004.00" y="910.29" width="2.00" height="25.22" fill="#a6cbd3" />
<rect x="2009.00" y="915.76" width="2.00" height="55.74" fill="#f5a5ad" />
<rect x="2014.00" y="941.70" width="2.00" height="72.92" fill="#f5a5ad" />
<rect x="2020.00" y="926.68" width="2.00" height="63.63" fill="#a6cbd3" />
<rect x="2025.00" y="894.45" width="2.00" height="83.57" fill="#a6cbd3" />
<rect x="2030.00" y="861.13" width="2.00" height="46.97" fill="#a6cbd3" />
<rect x="2035.00" y="838.74" width="2.00" height="38.78" fill="#a6cbd3" />
<rect x="2040.00" y="831.64" width="2.00" height="45.88" fill="#a6cbd3" />
<rect x="2046.00" y="824.26" width="2.00" height="36.87" fill="#f5a5ad" />
<rect x="2051.00" y="838.74" width="2.00" height="27.31" fill="#f5a5ad" />
<rect x="2056.00" y="842.84" width="2.00" height="24.58" fill="#a6cbd3" />
<rect x="2061.00" y="764.73" width="2.00" height="103.62" fill="#a6cbd3" />
<rect x="2066.00" y="740.97" width="2.00" height="38.24" fill="#a6cbd3" />
<rect x="2072.00" y="731.41" width="2.00" height="25.95" fill="#f5a5ad" />
<rect x="2077.00" y="710.92" width="2.00" height="48.61" fill="#a6cbd3" />
<rect x="2082.00" y="702.73" width="2.00" height="54.07" fill="#f5a5ad" />
<rect x="2087.00" y="740.97" width="2.00" height="33.32" fill="#f5a5ad" />
<rect x="2092.00" y="722.39" width="2.00" height="42.52" fill="#a6cbd3" />
<rect x="2098.00" y="694.96" width="2.00" height="40.87" fill="#a6cbd3" />
<rect x="2103.00" y="659.45" width="2.00" height="72.37" fill="#f5a5ad" />
<rect x="2108.00" y="682.67" width="2.00" height="40.97" fill="#f5a5ad" />
<rect x="2113.00" y="684.58" width="2.00" height="32.88" fill="#a6cbd3" />
<rect x="2118.00" y="710.57" width="2.00" height="30.82" fill="#f5a5ad" />
<rect x="2124.00" y="694.41" width="2.00" height="40.15" fill="#a6cbd3" />
<rect x="2129.00" y="697.14" width="2.00" height="22.39" fill="#a6cbd3" />
<rect x="2134.00" y="688.13" width="2.00" height="25.95" fill="#a6cbd3" />
<rect x="2139.00" y="671.20" width="2.00" height="54.38" fill="#f5a5ad" />
<rect x="2144.00" y="706.83" width="2.00" height="91.49" fill="#f5a5ad" />
<rect x="2149.00" y="769.70" width="2.00" height="45.55" fill="#f5a5ad" />
<rect x="2155.00" y="799.03" width="2.00" height="31.24" fill="#f5a5ad" />
<rect x="2160.00" y="784.66" width="2.00" height="34.68" fill="#a6cbd3" />
<rect x="2165.00" y="736.10" width="2.00" height="67.68" fill="#a6cbd3" />
<rect x="2170.00" y="746.97" width="2.00" height="15.29" fill="#f5a5ad" />
<rect x="2175.00" y="718.57" width="2.00" height="40.26" fill="#a6cbd3" />
<rect x="2181.00" y="684.98" width="2.00" height="49.07" fill="#a6cbd3" />
<rect x="2186.00" y="619.03" width="2.00" height="85.36" fill="#a6cbd3" />
<rect x="2191.00" y="649.08" width="2.00" height="27.31" fill="#f5a5ad" />
<rect x="2196.00" y="599.37" width="2.00" height="65.00" fill="#a6cbd3" />
<rect x="2201.00" y="647.36" width="2.00" height="37.22" fill="#f5a5ad" />
<rect x="2207.00" y="624.50" width="2.00" height="42.58" fill="#a6cbd3" />
<rect x="2212.00" y="626.68" width="2.00" height="53.26" fill="#f5a5ad" />
<rect x="2217.00" y="654.03" width="2.00" height="51.85" fill="#f5a5ad" />
<rect x="2222.00" y="663.67" width="2.00" height="47.67" fill="#f5a5ad" />
<rect x="2227.00" y="642.52" width="2.00" height="75.65" fill="#a6cbd3" />
<rect x="2233.00" y="638.97" width="2.00" height="17.75" fill="#f5a5ad" />
<rect x="14.00" y="1063.00" width="5.00" height="15.00" fill="#eb4d5c" />
<rect x="19.00" y="1026.00" width="5.00" height="54.00" fill="#53b987" />
<rect x="24.00" y="1026.00" width="5.00" height="31.00" fill="#eb4d5c" />
<rect x="29.00" y="1040.00" width="6.00" height="14.00" fill="#53b987" />
<rect x="35.00" y="1033.00" width="5.00" height="8.00" fill="#53b987" />
<rect x="40.00" y="1033.00" width="5.00" height="42.00" fill="#eb4d5c" />
<rect x="45.00" y="1042.00" width="5.00" height="33.00" fill="#53b987" />
<rect x="50.00" y="1015.00" width="5.00" height="27.00" fill="#53b987" />
<rect x="55.00" y="1003.00" width="5.00" height="14.00" fill="#53b987" />
<rect x="61.00" y="1001.00" width="5.00" height="20.00" fill="#eb4d5c" />
<rect x="66.00" y="1001.00" width="5.00" height="20.00" fill="#53b987" />
<rect x="71.00" y="1002.00" width="5.00" height="1.00" fill="#eb4d5c" />
<rect x="76.00" y="957.00" width="5.00" height="46.00" fill="#53b987" />
<rect x="81.00" y="947.00" width="5.00" height="10.00" fill="#53b987" />
<rect x="87.00" y="946.00" width="5.00" height="17.00" fill="#eb4d5c" />
<rect x="92.00" y="962.00" width="5.00" height="4.00" fill="#eb4d5c" />
<rect x="97.00" y="948.00" width="5.00" height="18.00" fill="#53b987" />
<rect x="102.00" y="948.00" width="5.00" height="23.00" fill="#eb4d5c" />
<rect x="107.00" y="953.00" width="5.00" height="17.00" fill="#53b987" />
<rect x="113.00" y="954.00" width="5.00" height="25.00" fill="#eb4d5c" />
<rect x="118.00" y="979.00" width="5.00" height="24.00" fill="#eb4d5c" />
<rect x="123.00" y="986.00" width="5.00" height="17.00" fill="#53b987" />
<rect x="128.00" y="921.00" width="5.00" height="66.00" fill="#53b987" />
<rect x="133.00" y="869.00" width="5.00" height="50.00" fill="#53b987" />
<rect x="139.00" y="858.00" width="5.00" height="12.00" fill="#53b987" />
<rect x="144.00" y="860.00" width="5.00" height="36.00" fill="#eb4d5c" />
<rect x="149.00" y="892.00" width="5.00" height="30.00" fill="#eb4d5c" />
<rect x="154.00" y="922.00" width="5.00" height="29.00" fill="#eb4d5c" />
<rect x="159.00" y="924.00" width="5.00" height="28.00" fill="#53b987" />
<rect x="164.00" y="916.00" width="6.00" height="8.00" fill="#53b987" />
<rect x="170.00" y="914.00" width="5.00" height="13.00" fill="#eb4d5c" />
<rect x="175.00" y="927.00" width="5.00" height="31.00" fill="#eb4d5c" />
<rect x="180.00" y="958.00" width="5.00" height="6.00" fill="#eb4d5c" />
<rect x="185.00" y="952.00" width="5.00" height="13.00" fill="#53b987" />
<rect x="190.00" y="952.00" width="6.00" height="3.00" fill="#eb4d5c" />
<rect x="196.00" y="955.00" width="5.00" height="6.00" fill="#eb4d5c" />
<rect x="201.00" y="933.00" width="5.00" height="30.00" fill="#53b987" />
<rect x="206.00" y="923.00" width="5.00" height="5.00" fill="#53b987" />
<rect x="211.00" y="922.00" width="5.00" height="6.00" fill="#eb4d5c" />
<rect x="216.00" y="923.00" width="5.00" height="3.00" fill="#53b987" />
<rect x="222.00" y="909.00" width="5.00" height="15.00" fill="#53b987" />
<rect x="227.00" y="908.00" width="5.00" height="10.00" fill="#eb4d5c" />
<rect x="232.00" y="921.00" width="5.00" height="2.00" fill="#eb4d5c" />
<rect x="237.00" y="920.00" width="5.00" height="20.00" fill="#eb4d5c" />
<rect x="242.00" y="942.00" width="5.00" height="7.00" fill="#eb4d5c" />
<rect x="248.00" y="948.00" width="5.00" height="5.00" fill="#eb4d5c" />
<rect x="253.00" y="954.00" width="5.00" height="7.00" fill="#eb4d5c" />
<rect x="258.00" y="944.00" width="5.00" height="18.00" fill="#53b987" />
<rect x="263.00" y="944.00" width="5.00" height="7.00" fill="#eb4d5c" />
<rect x="268.00" y="950.00" width="5.00" height="41.00" fill="#eb4d5c" />
<rect x="274.00" y="992.00" width="5.00" height="27.00" fill="#eb4d5c" />
<rect x="279.00" y="998.00" width="5.00" height="21.00" fill="#53b987" />
<rect x="284.00" y="999.00" width="5.00" height="10.00" fill="#eb4d5c" />
<rect x="289.00" y="990.00" width="5.00" height="21.00" fill="#53b987" />
<rect x="294.00" y="985.00" width="5.00" height="6.00" fill="#53b987" />
<rect x="300.00" y="986.00" width="5.00" height="3.00" fill="#53b987" />
<rect x="305.00" y="980.00" width="5.00" height="6.00" fill="#53b987" />
<rect x="310.00" y="982.00" width="5.00" height="6.00" fill="#eb4d5c" />
<rect x="315.00" y="973.00" width="5.00" height="14.00" fill="#53b987" />
<rect x="320.00" y="964.00" width="5.00" height="9.00" fill="#53b987" />
<rect x="325.00" y="964.00" width="6.00" height="12.00" fill="#eb4d5c" />
<rect x="331.00" y="975.00" width="5.00" height="30.00" fill="#eb4d5c" />
<rect x="336.00" y="983.00" width="5.00" height="23.00" fill="#53b987" />
<rect x="341.00" y="970.00" width="5.00" height="13.00" fill="#53b987" />
<rect x="346.00" y="948.00" width="5.00" height="21.00" fill="#53b987" />
<rect x="351.00" y="920.00" width="6.00" height="30.00" fill="#53b987" />
<rect x="357.00" y="911.00" width="5.00" height="9.00" fill="#53b987" />
<rect x="362.00" y="912.00" width="5.00" height="16.00" fill="#eb4d5c" />
<rect x="367.00" y="904.00" width="5.00" height="23.00" fill="#53b987" />
<rect x="372.00" y="872.00" width="5.00" height="32.00" fill="#53b987" />
<rect x="377.00" y="849.00" width="5.00" height="23.00" fill="#53b987" />
<rect x="383.00" y="849.00" width="5.00" height="21.00" fill="#eb4d5c" />
<rect x="388.00" y="861.00" width="5.00" height="9.00" fill="#53b987" />
<rect x="393.00" y="858.00" width="5.00" height="3.00" fill="#53b987" />
<rect x="398.00" y="809.00" width="5.00" height="49.00" fill="#53b987" />
<rect x="403.00" y="759.00" width="5.00" height="50.00" fill="#53b987" />
<rect x="409.00" y="755.00" width="5.00" height="4.00" fill="#53b987" />
<rect x="414.00" y="753.00" width="5.00" height="11.00" fill="#eb4d5c" />
<rect x="419.00" y="757.00" width="5.00" height="7.00" fill="#53b987" />
<rect x="424.00" y="732.00" width="5.00" height="25.00" fill="#53b987" />
<rect x="429.00" y="727.00" width="5.00" height="5.00" fill="#53b987" />
<rect x="435.00" y="723.00" width="5.00" height="4.00" fill="#53b987" />
<rect x="440.00" y="723.00" width="5.00" height="21.00" fill="#eb4d5c" />
<rect x="445.00" y="736.00" width="5.00" height="8.00" fill="#53b987" />
<rect x="450.00" y="718.00" width="5.00" height="17.00" fill="#53b987" />
<rect x="455.00" y="665.00" width="5.00" height="53.00" fill="#53b987" />
<rect x="461.00" y="615.00" width="5.00" height="51.00" fill="#53b987" />
<rect x="466.00" y="615.00" width="5.00" height="28.00" fill="#eb4d5c" />
<rect x="471.00" y="626.00" width="5.00" height="17.00" fill="#53b987" />
<rect x="476.00" y="588.00" width="5.00" height="39.00" fill="#53b987" />
<rect x="481.00" y="557.00" width="5.00" height="30.00" fill="#53b987" />
<rect x="486.00" y="557.00" width="6.00" height="54.00" fill="#eb4d5c" />
<rect x="492.00" y="600.00" width="5.00" height="11.00" fill="#53b987" />
<rect x="497.00" y="591.00" width="5.00" height="9.00" fill="#53b987" />
<rect x="502.00" y="591.00" width="5.00" height="20.00" fill="#eb4d5c" />
<rect x="507.00" y="610.00" width="5.00" height="41.00" fill="#eb4d5c" />
<rect x="512.00" y="626.00" width="6.00" height="23.00" fill="#53b987" />
<rect x="518.00" y="627.00" width="5.00" height="61.00" fill="#eb4d5c" />
<rect x="523.00" y="626.00" width="5.00" height="58.00" fill="#53b987" />
<rect x="528.00" y="602.00" width="5.00" height="21.00" fill="#53b987" />
<rect x="533.00" y="602.00" width="5.00" height="15.00" fill="#eb4d5c" />
<rect x="538.00" y="617.00" width="5.00" height="50.00" fill="#eb4d5c" />
<rect x="544.00" y="667.00" width="5.00" height="1.00" fill="#eb4d5c" />
<rect x="549.00" y="617.00" width="5.00" height="48.00" fill="#53b987" />
<rect x="554.00" y="617.00" width="5.00" height="9.00" fill="#eb4d5c" />
<rect x="559.00" y="591.00" width="5.00" height="34.00" fill="#53b987" />
<rect x="564.00" y="589.00" width="5.00" height="13.00" fill="#eb4d5c" />
<rect x="570.00" y="593.00" width="5.00" height="7.00" fill="#53b987" />
<rect x="575.00" y="527.00" width="5.00" height="64.00" fill="#53b987" />
<rect x="580.00" y="498.00" width="5.00" height="29.00" fill="#53b987" />
<rect x="585.00" y="498.00" width="5.00" height="21.00" fill="#eb4d5c" />
<rect x="590.00" y="518.00" width="5.00" height="21.00" fill="#eb4d5c" />
<rect x="596.00" y="527.00" width="5.00" height="12.00" fill="#53b987" />
<rect x="601.00" y="527.00" width="5.00" height="1.00" fill="#53b987" />
<rect x="606.00" y="526.00" width="5.00" height="54.00" fill="#eb4d5c" />
<rect x="611.00" y="568.00" width="5.00" height="13.00" fill="#53b987" />
<rect x="616.00" y="571.00" width="5.00" height="24.00" fill="#eb4d5c" />
<rect x="622.00" y="578.00" width="5.00" height="17.00" fill="#53b987" />
<rect x="627.00" y="555.00" width="5.00" height="25.00" fill="#53b987" />
<rect x="632.00" y="554.00" width="5.00" height="19.00" fill="#eb4d5c" />
<rect x="637.00" y="574.00" width="5.00" height="1.00" fill="#eb4d5c" />
<rect x="642.00" y="572.00" width="5.00" height="6.00" fill="#eb4d5c" />
<rect x="647.00" y="544.00" width="6.00" height="33.00" fill="#53b987" />
<rect x="653.00" y="540.00" width="5.00" height="2.00" fill="#53b987" />
<rect x="658.00" y="538.00" width="5.00" height="2.00" fill="#53b987" />
<rect x="663.00" y="535.00" width="5.00" height="39.00" fill="#eb4d5c" />
<rect x="668.00" y="574.00" width="5.00" height="41.00" fill="#eb4d5c" />
<rect x="673.00" y="614.00" width="6.00" height="19.00" fill="#eb4d5c" />
<rect x="679.00" y="636.00" width="5.00" height="7.00" fill="#eb4d5c" />
<rect x="684.00" y="625.00" width="5.00" height="22.00" fill="#53b987" />
<rect x="689.00" y="623.00" width="5.00" height="5.00" fill="#53b987" />
<rect x="694.00" y="624.00" width="5.00" height="11.00" fill="#eb4d5c" />
<rect x="699.00" y="634.00" width="5.00" height="46.00" fill="#eb4d5c" />
<rect x="705.00" y="681.00" width="5.00" height="53.00" fill="#eb4d5c" />
<rect x="710.00" y="713.00" width="5.00" height="21.00" fill="#53b987" />
<rect x="715.00" y="702.00" width="5.00" height="11.00" fill="#53b987" />
<rect x="720.00" y="665.00" width="5.00" height="36.00" fill="#53b987" />
<rect x="725.00" y="647.00" width="5.00" height="18.00" fill="#53b987" />
<rect x="731.00" y="647.00" width="5.00" height="26.00" fill="#eb4d5c" />
<rect x="736.00" y="669.00" width="5.00" height="17.00" fill="#eb4d5c" />
<rect x="741.00" y="654.00" width="5.00" height="32.00" fill="#53b987" />
<rect x="746.00" y="617.00" width="5.00" height="37.00" fill="#53b987" />
<rect x="751.00" y="617.00" width="5.00" height="15.00" fill="#eb4d5c" />
<rect x="757.00" y="593.00" width="5.00" height="39.00" fill="#53b987" />
<rect x="762.00" y="567.00" width="5.00" height="25.00" fill="#53b987" />
<rect x="767.00" y="507.00" width="5.00" height="58.00" fill="#53b987" />
<rect x="772.00" y="507.00" width="5.00" height="32.00" fill="#eb4d5c" />
<rect x="777.00" y="538.00" width="5.00" height="15.00" fill="#eb4d5c" />
<rect x="783.00" y="549.00" width="5.00" height="5.00" fill="#53b987" />
<rect x="788.00" y="491.00" width="5.00" height="60.00" fill="#53b987" />
<rect x="793.00" y="489.00" width="5.00" height="25.00" fill="#eb4d5c" />
<rect x="798.00" y="510.00" width="5.00" height="3.00" fill="#53b987" />
<rect x="803.00" y="501.00" width="5.00" height="9.00" fill="#53b987" />
<rect x="808.00" y="490.00" width="6.00" height="12.00" fill="#53b987" />
<rect x="814.00" y="463.00" width="5.00" height="24.00" fill="#53b987" />
<rect x="819.00" y="463.00" width="5.00" height="25.00" fill="#eb4d5c" />
<rect x="824.00" y="488.00" width="5.00" height="17.00" fill="#eb4d5c" />
<rect x="829.00" y="491.00" width="5.00" height="14.00" fill="#53b987" />
<rect x="834.00" y="491.00" width="6.00" height="12.00" fill="#eb4d5c" />
<rect x="840.00" y="467.00" width="5.00" height="36.00" fill="#53b987" />
<rect x="845.00" y="467.00" width="5.00" height="6.00" fill="#eb4d5c" />
<rect x="850.00" y="468.00" width="5.00" height="5.00" fill="#53b987" />
<rect x="855.00" y="431.00" width="5.00" height="36.00" fill="#53b987" />
<rect x="860.00" y="425.00" width="5.00" height="6.00" fill="#53b987" />
<rect x="866.00" y="423.00" width="5.00" height="13.00" fill="#eb4d5c" />
<rect x="871.00" y="423.00" width="5.00" height="14.00" fill="#53b987" />
<rect x="876.00" y="420.00" width="5.00" height="23.00" fill="#eb4d5c" />
<rect x="881.00" y="443.00" width="5.00" height="2.00" fill="#53b987" />
<rect x="886.00" y="444.00" width="5.00" height="53.00" fill="#eb4d5c" />
<rect x="892.00" y="497.00" width="5.00" height="38.00" fill="#eb4d5c" />
<rect x="897.00" y="505.00" width="5.00" height="28.00" fill="#53b987" />
<rect x="902.00" y="499.00" width="5.00" height="6.00" fill="#53b987" />
<rect x="907.00" y="501.00" width="5.00" height="18.00" fill="#eb4d5c" />
<rect x="912.00" y="502.00" width="5.00" height="17.00" fill="#53b987" />
<rect x="918.00" y="501.00" width="5.00" height="40.00" fill="#eb4d5c" />
<rect x="923.00" y="502.00" width="5.00" height="37.00" fill="#53b987" />
<rect x="928.00" y="502.00" width="5.00" height="24.00" fill="#eb4d5c" />
<rect x="933.00" y="506.00" width="5.00" height="18.00" fill="#53b987" />
<rect x="938.00" y="474.00" width="5.00" height="32.00" fill="#53b987" />
<rect x="944.00" y="474.00" width="5.00" height="4.00" fill="#eb4d5c" />
<rect x="949.00" y="447.00" width="5.00" height="26.00" fill="#53b987" />
<rect x="954.00" y="437.00" width="5.00" height="10.00" fill="#53b987" />
<rect x="959.00" y="437.00" width="5.00" height="19.00" fill="#eb4d5c" />
<rect x="964.00" y="446.00" width="5.00" height="10.00" fill="#53b987" />
<rect x="969.00" y="446.00" width="6.00" height="27.00" fill="#eb4d5c" />
<rect x="975.00" y="451.00" width="5.00" height="20.00" fill="#53b987" />
<rect x="980.00" y="448.00" width="5.00" height="4.00" fill="#53b987" />
<rect x="985.00" y="450.00" width="5.00" height="26.00" fill="#eb4d5c" />
<rect x="990.00" y="477.00" width="5.00" height="3.00" fill="#eb4d5c" />
<rect x="995.00" y="471.00" width="6.00" height="10.00" fill="#53b987" />
<rect x="1001.00" y="471.00" width="5.00" height="5.00" fill="#eb4d5c" />
<rect x="1006.00" y="462.00" width="5.00" height="12.00" fill="#53b987" />
<rect x="1011.00" y="445.00" width="5.00" height="17.00" fill="#53b987" />
<rect x="1016.00" y="444.00" width="5.00" height="2.00" fill="#eb4d5c" />
<rect x="1021.00" y="382.00" width="5.00" height="62.00" fill="#53b987" />
<rect x="1027.00" y="381.00" width="5.00" height="6.00" fill="#eb4d5c" />
<rect x="1032.00" y="379.00" width="5.00" height="8.00" fill="#53b987" />
<rect x="1037.00" y="376.00" width="5.00" height="9.00" fill="#eb4d5c" />
<rect x="1042.00" y="373.00" width="5.00" height="12.00" fill="#53b987" />
<rect x="1047.00" y="360.00" width="5.00" height="15.00" fill="#53b987" />
<rect x="1053.00" y="360.00" width="5.00" height="18.00" fill="#eb4d5c" />
<rect x="1058.00" y="377.00" width="5.00" height="49.00" fill="#eb4d5c" />
<rect x="1063.00" y="403.00" width="5.00" height="23.00" fill="#53b987" />
<rect x="1068.00" y="403.00" width="5.00" height="57.00" fill="#eb4d5c" />
<rect x="1073.00" y="430.00" width="5.00" height="30.00" fill="#53b987" />
<rect x="1079.00" y="415.00" width="5.00" height="15.00" fill="#53b987" />
<rect x="1084.00" y="414.00" width="5.00" height="29.00" fill="#eb4d5c" />
<rect x="1089.00" y="435.00" width="5.00" height="12.00" fill="#53b987" />
<rect x="1094.00" y="422.00" width="5.00" height="14.00" fill="#53b987" />
<rect x="1099.00" y="418.00" width="5.00" height="2.00" fill="#53b987" />
<rect x="1105.00" y="398.00" width="5.00" height="17.00" fill="#53b987" />
<rect x="1110.00" y="396.00" width="5.00" height="28.00" fill="#eb4d5c" />
<rect x="1115.00" y="391.00" width="5.00" height="33.00" fill="#53b987" />
<rect x="1120.00" y="389.00" width="5.00" height="11.00" fill="#eb4d5c" />
<rect x="1125.00" y="391.00" width="5.00" height="5.00" fill="#53b987" />
<rect x="1130.00" y="392.00" width="6.00" height="8.00" fill="#eb4d5c" />
<rect x="1136.00" y="400.00" width="5.00" height="26.00" fill="#eb4d5c" />
<rect x="1141.00" y="423.00" width="5.00" height="14.00" fill="#eb4d5c" />
<rect x="1146.00" y="434.00" width="5.00" height="3.00" fill="#53b987" />
<rect x="1151.00" y="432.00" width="5.00" height="2.00" fill="#53b987" />
<rect x="1156.00" y="405.00" width="6.00" height="29.00" fill="#53b987" />
<rect x="1162.00" y="405.00" width="5.00" height="31.00" fill="#eb4d5c" />
<rect x="1167.00" y="434.00" width="5.00" height="56.00" fill="#eb4d5c" />
<rect x="1172.00" y="488.00" width="5.00" height="30.00" fill="#eb4d5c" />
<rect x="1177.00" y="519.00" width="5.00" height="4.00" fill="#eb4d5c" />
<rect x="1182.00" y="492.00" width="5.00" height="34.00" fill="#53b987" />
<rect x="1188.00" y="478.00" width="5.00" height="15.00" fill="#53b987" />
<rect x="1193.00" y="449.00" width="5.00" height="29.00" fill="#53b987" />
<rect x="1198.00" y="432.00" width="5.00" height="17.00" fill="#53b987" />
<rect x="1203.00" y="425.00" width="5.00" height="8.00" fill="#53b987" />
<rect x="1208.00" y="417.00" width="5.00" height="8.00" fill="#53b987" />
<rect x="1214.00" y="411.00" width="5.00" height="3.00" fill="#53b987" />
<rect x="1219.00" y="409.00" width="5.00" height="42.00" fill="#eb4d5c" />
<rect x="1224.00" y="451.00" width="5.00" height="10.00" fill="#eb4d5c" />
<rect x="1229.00" y="437.00" width="5.00" height="24.00" fill="#53b987" />
<rect x="1234.00" y="413.00" width="5.00" height="23.00" fill="#53b987" />
<rect x="1240.00" y="412.00" width="5.00" height="17.00" fill="#eb4d5c" />
<rect x="1245.00" y="429.00" width="5.00" height="11.00" fill="#eb4d5c" />
<rect x="1250.00" y="434.00" width="5.00" height="6.00" fill="#53b987" />
<rect x="1255.00" y="435.00" width="5.00" height="21.00" fill="#eb4d5c" />
<rect x="1260.00" y="457.00" width="5.00" height="9.00" fill="#eb4d5c" />
<rect x="1266.00" y="466.00" width="5.00" height="1.00" fill="#53b987" />
<rect x="1271.00" y="465.00" width="5.00" height="27.00" fill="#eb4d5c" />
<rect x="1276.00" y="490.00" width="5.00" height="2.00" fill="#53b987" />
<rect x="1281.00" y="490.00" width="5.00" height="1.00" fill="#eb4d5c" />
<rect x="1286.00" y="459.00" width="5.00" height="31.00" fill="#53b987" />
<rect x="1291.00" y="457.00" width="6.00" height="24.00" fill="#eb4d5c" />
<rect x="1297.00" y="481.00" width="5.00" height="9.00" fill="#eb4d5c" />
<rect x="1302.00" y="488.00" width="5.00" height="9.00" fill="#eb4d5c" />
<rect x="1307.00" y="428.00" width="5.00" height="68.00" fill="#53b987" />
<rect x="1312.00" y="421.00" width="5.00" height="8.00" fill="#53b987" />
<rect x="1317.00" y="421.00" width="6.00" height="9.00" fill="#eb4d5c" />
<rect x="1323.00" y="410.00" width="5.00" height="20.00" fill="#53b987" />
<rect x="1328.00" y="410.00" width="5.00" height="15.00" fill="#eb4d5c" />
<rect x="1333.00" y="416.00" width="5.00" height="8.00" fill="#53b987" />
<rect x="1338.00" y="395.00" width="5.00" height="21.00" fill="#53b987" />
<rect x="1343.00" y="374.00" width="5.00" height="20.00" fill="#53b987" />
<rect x="1349.00" y="374.00" width="5.00" height="6.00" fill="#eb4d5c" />
<rect x="1354.00" y="315.00" width="5.00" height="64.00" fill="#53b987" />
<rect x="1359.00" y="316.00" width="5.00" height="14.00" fill="#eb4d5c" />
<rect x="1364.00" y="322.00" width="5.00" height="10.00" fill="#53b987" />
<rect x="1369.00" y="323.00" width="5.00" height="3.00" fill="#eb4d5c" />
<rect x="1375.00" y="322.00" width="5.00" height="2.00" fill="#eb4d5c" />
<rect x="1380.00" y="323.00" width="5.00" height="4.00" fill="#eb4d5c" />
<rect x="1385.00" y="307.00" width="5.00" height="19.00" fill="#53b987" />
<rect x="1390.00" y="308.00" width="5.00" height="8.00" fill="#eb4d5c" />
<rect x="1395.00" y="304.00" width="5.00" height="12.00" fill="#53b987" />
<rect x="1401.00" y="298.00" width="5.00" height="8.00" fill="#53b987" />
<rect x="1406.00" y="273.00" width="5.00" height="28.00" fill="#53b987" />
<rect x="1411.00" y="271.00" width="5.00" height="9.00" fill="#eb4d5c" />
<rect x="1416.00" y="275.00" width="5.00" height="31.00" fill="#eb4d5c" />
<rect x="1421.00" y="305.00" width="5.00" height="9.00" fill="#eb4d5c" />
<rect x="1427.00" y="310.00" width="5.00" height="3.00" fill="#53b987" />
<rect x="1432.00" y="303.00" width="5.00" height="4.00" fill="#53b987" />
<rect x="1437.00" y="286.00" width="5.00" height="18.00" fill="#53b987" />
<rect x="1442.00" y="285.00" width="5.00" height="2.00" fill="#53b987" />
<rect x="1447.00" y="285.00" width="5.00" height="12.00" fill="#eb4d5c" />
<rect x="1452.00" y="290.00" width="6.00" height="7.00" fill="#53b987" />
<rect x="1458.00" y="249.00" width="5.00" height="39.00" fill="#53b987" />
<rect x="1463.00" y="248.00" width="5.00" height="13.00" fill="#eb4d5c" />
<rect x="1468.00" y="256.00" width="5.00" height="6.00" fill="#53b987" />
<rect x="1473.00" y="257.00" width="5.00" height="1.00" fill="#eb4d5c" />
<rect x="1478.00" y="258.00" width="6.00" height="9.00" fill="#eb4d5c" />
<rect x="1484.00" y="193.00" width="5.00" height="74.00" fill="#53b987" />
<rect x="1489.00" y="191.00" width="5.00" height="3.00" fill="#eb4d5c" />
<rect x="1494.00" y="192.00" width="5.00" height="37.00" fill="#eb4d5c" />
<rect x="1499.00" y="207.00" width="5.00" height="19.00" fill="#53b987" />
<rect x="1504.00" y="206.00" width="5.00" height="2.00" fill="#eb4d5c" />
<rect x="1510.00" y="175.00" width="5.00" height="37.00" fill="#53b987" />
<rect x="1515.00" y="176.00" width="5.00" height="58.00" fill="#eb4d5c" />
<rect x="1520.00" y="211.00" width="5.00" height="20.00" fill="#53b987" />
<rect x="1525.00" y="213.00" width="5.00" height="3.00" fill="#eb4d5c" />
<rect x="1530.00" y="216.00" width="5.00" height="32.00" fill="#eb4d5c" />
<rect x="1536.00" y="253.00" width="5.00" height="53.00" fill="#eb4d5c" />
<rect x="1541.00" y="281.00" width="5.00" height="26.00" fill="#53b987" />
<rect x="1546.00" y="280.00" width="5.00" height="5.00" fill="#eb4d5c" />
<rect x="1551.00" y="273.00" width="5.00" height="10.00" fill="#53b987" />
<rect x="1556.00" y="274.00" width="5.00" height="35.00" fill="#eb4d5c" />
<rect x="1562.00" y="276.00" width="5.00" height="34.00" fill="#53b987" />
<rect x="1567.00" y="251.00" width="5.00" height="27.00" fill="#53b987" />
<rect x="1572.00" y="251.00" width="5.00" height="17.00" fill="#eb4d5c" />
<rect x="1577.00" y="254.00" width="5.00" height="11.00" fill="#53b987" />
<rect x="1582.00" y="252.00" width="5.00" height="14.00" fill="#eb4d5c" />
<rect x="1588.00" y="249.00" width="5.00" height="17.00" fill="#53b987" />
<rect x="1593.00" y="249.00" width="5.00" height="49.00" fill="#eb4d5c" />
<rect x="1598.00" y="283.00" width="5.00" height="17.00" fill="#53b987" />
<rect x="1603.00" y="282.00" width="5.00" height="26.00" fill="#eb4d5c" />
<rect x="1608.00" y="307.00" width="5.00" height="54.00" fill="#eb4d5c" />
<rect x="1613.00" y="361.00" width="6.00" height="3.00" fill="#53b987" />
<rect x="1619.00" y="338.00" width="5.00" height="25.00" fill="#53b987" />
<rect x="1624.00" y="337.00" width="5.00" height="79.00" fill="#eb4d5c" />
<rect x="1629.00" y="416.00" width="5.00" height="21.00" fill="#eb4d5c" />
<rect x="1634.00" y="437.00" width="5.00" height="90.00" fill="#eb4d5c" />
<rect x="1639.00" y="512.00" width="6.00" height="16.00" fill="#53b987" />
<rect x="1645.00" y="513.00" width="5.00" height="62.00" fill="#eb4d5c" />
<rect x="1650.00" y="497.00" width="5.00" height="78.00" fill="#53b987" />
<rect x="1655.00" y="437.00" width="5.00" height="61.00" fill="#53b987" />
<rect x="1660.00" y="437.00" width="5.00" height="24.00" fill="#eb4d5c" />
<rect x="1665.00" y="462.00" width="5.00" height="76.00" fill="#eb4d5c" />
<rect x="1671.00" y="535.00" width="5.00" height="41.00" fill="#eb4d5c" />
<rect x="1676.00" y="576.00" width="5.00" height="69.00" fill="#eb4d5c" />
<rect x="1681.00" y="642.00" width="5.00" height="39.00" fill="#eb4d5c" />
<rect x="1686.00" y="680.00" width="5.00" height="101.00" fill="#eb4d5c" />
<rect x="1691.00" y="781.00" width="5.00" height="51.00" fill="#eb4d5c" />
<rect x="1697.00" y="715.00" width="5.00" height="117.00" fill="#53b987" />
<rect x="1702.00" y="695.00" width="5.00" height="19.00" fill="#53b987" />
<rect x="1707.00" y="695.00" width="5.00" height="63.00" fill="#eb4d5c" />
<rect x="1712.00" y="758.00" width="5.00" height="85.00" fill="#eb4d5c" />
<rect x="1717.00" y="736.00" width="5.00" height="105.00" fill="#53b987" />
<rect x="1723.00" y="690.00" width="5.00" height="47.00" fill="#53b987" />
<rect x="1728.00" y="659.00" width="5.00" height="32.00" fill="#53b987" />
<rect x="1733.00" y="621.00" width="5.00" height="36.00" fill="#53b987" />
<rect x="1738.00" y="621.00" width="5.00" height="14.00" fill="#eb4d5c" />
<rect x="1743.00" y="616.00" width="5.00" height="18.00" fill="#53b987" />
<rect x="1749.00" y="560.00" width="5.00" height="56.00" fill="#53b987" />
<rect x="1754.00" y="558.00" width="5.00" height="18.00" fill="#eb4d5c" />
<rect x="1759.00" y="577.00" width="5.00" height="42.00" fill="#eb4d5c" />
<rect x="1764.00" y="596.00" width="5.00" height="22.00" fill="#53b987" />
<rect x="1769.00" y="594.00" width="5.00" height="1.00" fill="#eb4d5c" />
<rect x="1774.00" y="594.00" width="6.00" height="74.00" fill="#eb4d5c" />
<rect x="1780.00" y="666.00" width="5.00" height="8.00" fill="#eb4d5c" />
<rect x="1785.00" y="636.00" width="5.00" height="40.00" fill="#53b987" />
<rect x="1790.00" y="632.00" width="5.00" height="6.00" fill="#53b987" />
<rect x="1795.00" y="632.00" width="5.00" height="27.00" fill="#eb4d5c" />
<rect x="1800.00" y="638.00" width="6.00" height="21.00" fill="#53b987" />
<rect x="1806.00" y="624.00" width="5.00" height="14.00" fill="#53b987" />
<rect x="1811.00" y="624.00" width="5.00" height="44.00" fill="#eb4d5c" />
<rect x="1816.00" y="640.00" width="5.00" height="28.00" fill="#53b987" />
<rect x="1821.00" y="612.00" width="5.00" height="23.00" fill="#53b987" />
<rect x="1826.00" y="610.00" width="5.00" height="24.00" fill="#eb4d5c" />
<rect x="1832.00" y="632.00" width="5.00" height="42.00" fill="#eb4d5c" />
<rect x="1837.00" y="676.00" width="5.00" height="5.00" fill="#eb4d5c" />
<rect x="1842.00" y="683.00" width="5.00" height="69.00" fill="#eb4d5c" />
<rect x="1847.00" y="751.00" width="5.00" height="50.00" fill="#eb4d5c" />
<rect x="1852.00" y="801.00" width="5.00" height="9.00" fill="#eb4d5c" />
<rect x="1858.00" y="789.00" width="5.00" height="21.00" fill="#53b987" />
<rect x="1863.00" y="787.00" width="5.00" height="49.00" fill="#eb4d5c" />
<rect x="1868.00" y="836.00" width="5.00" height="25.00" fill="#eb4d5c" />
<rect x="1873.00" y="803.00" width="5.00" height="58.00" fill="#53b987" />
<rect x="1878.00" y="799.00" width="5.00" height="8.00" fill="#53b987" />
<rect x="1884.00" y="799.00" width="5.00" height="27.00" fill="#eb4d5c" />
<rect x="1889.00" y="742.00" width="5.00" height="84.00" fill="#53b987" />
<rect x="1894.00" y="740.00" width="5.00" height="15.00" fill="#eb4d5c" />
<rect x="1899.00" y="748.00" width="5.00" height="56.00" fill="#eb4d5c" />
<rect x="1904.00" y="801.00" width="5.00" height="57.00" fill="#eb4d5c" />
<rect x="1910.00" y="839.00" width="5.00" height="21.00" fill="#53b987" />
<rect x="1915.00" y="783.00" width="5.00" height="58.00" fill="#53b987" />
<rect x="1920.00" y="785.00" width="5.00" height="6.00" fill="#eb4d5c" />
<rect x="1925.00" y="772.00" width="5.00" height="15.00" fill="#53b987" />
<rect x="1930.00" y="772.00" width="5.00" height="19.00" fill="#eb4d5c" />
<rect x="1935.00" y="791.00" width="6.00" height="26.00" fill="#eb4d5c" />
<rect x="1941.00" y="812.00" width="5.00" height="1.00" fill="#53b987" />
<rect x="1946.00" y="798.00" width="5.00" height="16.00" fill="#53b987" />
<rect x="1951.00" y="797.00" width="5.00" height="33.00" fill="#eb4d5c" />
<rect x="1956.00" y="792.00" width="5.00" height="40.00" fill="#53b987" />
<rect x="1961.00" y="761.00" width="6.00" height="31.00" fill="#53b987" />
<rect x="1967.00" y="762.00" width="5.00" height="8.00" fill="#eb4d5c" />
<rect x="1972.00" y="770.00" width="5.00" height="56.00" fill="#eb4d5c" />
<rect x="1977.00" y="818.00" width="5.00" height="10.00" fill="#53b987" />
<rect x="1982.00" y="820.00" width="5.00" height="108.00" fill="#eb4d5c" />
<rect x="1987.00" y="928.00" width="5.00" height="10.00" fill="#eb4d5c" />
<rect x="1993.00" y="937.00" width="5.00" height="21.00" fill="#eb4d5c" />
<rect x="1998.00" y="933.00" width="5.00" height="25.00" fill="#53b987" />
<rect x="2003.00" y="923.00" width="5.00" height="10.00" fill="#53b987" />
<rect x="2008.00" y="923.00" width="5.00" height="44.00" fill="#eb4d5c" />
<rect x="2013.00" y="966.00" width="5.00" height="19.00" fill="#eb4d5c" />
<rect x="2019.00" y="972.00" width="5.00" height="13.00" fill="#53b987" />
<rect x="2024.00" y="903.00" width="5.00" height="70.00" fill="#53b987" />
<rect x="2029.00" y="875.00" width="5.00" height="24.00" fill="#53b987" />
<rect x="2034.00" y="869.00" width="5.00" height="4.00" fill="#53b987" />
<rect x="2039.00" y="846.00" width="5.00" height="20.00" fill="#53b987" />
<rect x="2045.00" y="841.00" width="5.00" height="13.00" fill="#eb4d5c" />
<rect x="2050.00" y="851.00" width="5.00" height="1.00" fill="#eb4d5c" />
<rect x="2055.00" y="850.00" width="5.00" height="2.00" fill="#53b987" />
<rect x="2060.00" y="772.00" width="5.00" height="77.00" fill="#53b987" />
<rect x="2065.00" y="747.00" width="5.00" height="21.00" fill="#53b987" />
<rect x="2071.00" y="747.00" width="5.00" height="3.00" fill="#eb4d5c" />
<rect x="2076.00" y="716.00" width="5.00" height="35.00" fill="#53b987" />
<rect x="2081.00" y="716.00" width="5.00" height="38.00" fill="#eb4d5c" />
<rect x="2086.00" y="754.00" width="5.00" height="10.00" fill="#eb4d5c" />
<rect x="2091.00" y="726.00" width="5.00" height="38.00" fill="#53b987" />
<rect x="2096.00" y="699.00" width="6.00" height="27.00" fill="#53b987" />
<rect x="2102.00" y="697.00" width="5.00" height="3.00" fill="#eb4d5c" />
<rect x="2107.00" y="700.00" width="5.00" height="15.00" fill="#eb4d5c" />
<rect x="2112.00" y="713.00" width="5.00" height="2.00" fill="#53b987" />
<rect x="2117.00" y="713.00" width="5.00" height="19.00" fill="#eb4d5c" />
<rect x="2122.00" y="702.00" width="6.00" height="30.00" fill="#53b987" />
<rect x="2128.00" y="701.00" width="5.00" height="4.00" fill="#53b987" />
<rect x="2133.00" y="694.00" width="5.00" height="6.00" fill="#53b987" />
<rect x="2138.00" y="694.00" width="5.00" height="26.00" fill="#eb4d5c" />
<rect x="2143.00" y="717.00" width="5.00" height="54.00" fill="#eb4d5c" />
<rect x="2148.00" y="771.00" width="5.00" height="34.00" fill="#eb4d5c" />
<rect x="2154.00" y="803.00" width="5.00" height="13.00" fill="#eb4d5c" />
<rect x="2159.00" y="791.00" width="5.00" height="26.00" fill="#53b987" />
<rect x="2164.00" y="751.00" width="5.00" height="42.00" fill="#53b987" />
<rect x="2169.00" y="750.00" width="5.00" height="4.00" fill="#eb4d5c" />
<rect x="2174.00" y="729.00" width="5.00" height="22.00" fill="#53b987" />
<rect x="2180.00" y="701.00" width="5.00" height="25.00" fill="#53b987" />
<rect x="2185.00" y="653.00" width="5.00" height="47.00" fill="#53b987" />
<rect x="2190.00" y="652.00" width="5.00" height="5.00" fill="#eb4d5c" />
<rect x="2195.00" y="651.00" width="5.00" height="6.00" fill="#53b987" />
<rect x="2200.00" y="651.00" width="5.00" height="13.00" fill="#eb4d5c" />
<rect x="2206.00" y="635.00" width="5.00" height="29.00" fill="#53b987" />
<rect x="2211.00" y="635.00" width="5.00" height="24.00" fill="#eb4d5c" />
<rect x="2216.00" y="659.00" width="5.00" height="11.00" fill="#eb4d5c" />
<rect x="2221.00" y="670.00" width="5.00" height="31.00" fill="#eb4d5c" />
<rect x="2226.00" y="644.00" width="5.00" height="57.00" fill="#53b987" />
<rect x="2232.00" y="644.00" width="5.00" height="11.00" fill="#eb4d5c" />
</g>
<line x1="753" y1="437.0" x2="2458" y2="437.0" stroke="#ff00ff" stroke-width="2" stroke-dasharray="2 4" shape-rendering="crispEdges"/>
<line x1="14" y1="656.0" x2="2458" y2="656.0" stroke="#e8384f" stroke-width="2" stroke-dasharray="2 4" shape-rendering="crispEdges"/>
<line x1="14" y1="779.0" x2="2458" y2="779.0" stroke="#8b0000" stroke-width="2" stroke-dasharray="2 4" shape-rendering="crispEdges"/>
<line x1="14" y1="1063.0" x2="2458" y2="1063.0" stroke="#ff9800" stroke-width="2" stroke-dasharray="2 4" shape-rendering="crispEdges"/>
<rect x="14.00" y="950.00" width="2444.00" height="2.00" fill="#ff4444" shape-rendering="crispEdges"/>
<line x1="2162.8" y1="392.96" x2="13.0" y2="1126.04" stroke="#0000ff" stroke-width="2.3" stroke-dasharray="2.1 3.9" clip-path="url(#cm)"/>
<g clip-path="url(#cs)">
<polyline points="16.3,1365.2 21.5,1364.2 26.7,1357.5 31.9,1336.3 37.1,1322.8 42.3,1316.0 47.5,1316.4 52.7,1306.0 57.9,1279.7 63.1,1248.5 68.2,1228.0 73.4,1222.2 78.6,1218.6 83.8,1214.9 89.0,1213.2 94.2,1218.4 99.4,1224.6 104.6,1230.5 109.8,1232.7 115.0,1242.2 120.2,1264.0 125.4,1298.3 130.6,1315.2 135.8,1299.2 141.0,1257.3 146.1,1231.1 151.3,1234.4 156.5,1267.0 161.7,1297.8 166.9,1317.7 172.1,1319.8 177.3,1322.1 182.5,1331.7 187.7,1347.5 192.9,1358.6 198.1,1363.3 203.3,1361.9 208.5,1354.7 213.7,1337.7 218.9,1311.1 224.1,1278.1 229.2,1249.4 234.4,1237.6 239.6,1252.2 244.8,1286.4 250.0,1327.9 255.2,1358.7 260.4,1368.1 265.6,1361.2 270.8,1350.3 276.0,1353.1 281.2,1359.4 286.4,1362.5 291.6,1351.7 296.8,1337.1 302.0,1319.4 307.1,1302.0 312.3,1286.1 317.5,1268.5 322.7,1252.8 327.9,1236.5 333.1,1238.2 338.3,1249.1 343.5,1260.7 348.7,1250.9 353.9,1232.4 359.1,1216.0 364.3,1215.0 369.5,1218.6 374.7,1223.0 379.9,1219.2 385.1,1218.6 390.2,1220.8 395.4,1229.7 400.6,1231.5 405.8,1227.5 411.0,1218.3 416.2,1215.1 421.4,1216.6 426.6,1220.6 431.8,1220.2 437.0,1216.1 442.2,1220.9 447.4,1235.7 452.6,1257.1 457.8,1260.7 463.0,1248.9 468.2,1240.0 473.3,1250.2 478.5,1273.8 483.7,1279.8 488.9,1283.9 494.1,1294.1 499.3,1328.1 504.5,1353.6 509.7,1368.8 514.9,1370.5 520.1,1372.1 525.3,1368.0 530.5,1360.2 535.7,1348.0 540.9,1344.1 546.1,1349.4 551.2,1359.9 556.4,1362.0 561.6,1350.2 566.8,1334.8 572.0,1318.4 577.2,1299.8 582.4,1271.8 587.6,1244.4 592.8,1235.2 598.0,1244.6 603.2,1261.2 608.4,1278.5 613.6,1297.7 618.8,1326.9 624.0,1347.3 629.2,1357.6 634.3,1352.7 639.5,1348.4 644.7,1350.1 649.9,1350.0 655.1,1342.0 660.3,1319.4 665.5,1308.1 670.7,1314.4 675.9,1343.3 681.1,1365.9 686.3,1374.8 691.5,1367.3 696.7,1357.2 701.9,1354.6 707.1,1360.4 712.2,1367.6 717.4,1366.6 722.6,1352.2 727.8,1330.4 733.0,1305.7 738.2,1286.8 743.4,1268.5 748.6,1250.5 753.8,1231.6 759.0,1220.3 764.2,1216.0 769.4,1214.1 774.6,1215.0 779.8,1220.7 785.0,1233.0 790.2,1240.4 795.3,1242.3 800.5,1238.3 805.7,1238.2 810.9,1237.3 816.1,1234.1 821.3,1232.4 826.5,1245.0 831.7,1275.3 836.9,1315.1 842.1,1335.4 847.3,1338.3 852.5,1319.8 857.7,1299.5 862.9,1271.2 868.1,1246.8 873.2,1232.7 878.4,1241.4 883.6,1261.2 888.8,1296.0 894.0,1326.3 899.2,1353.2 904.4,1358.2 909.6,1353.7 914.8,1345.6 920.0,1347.7 925.2,1349.2 930.4,1353.8 935.6,1348.3 940.8,1341.9 946.0,1324.5 951.2,1302.0 956.3,1273.5 961.5,1249.9 966.7,1235.7 971.9,1239.6 977.1,1247.6 982.3,1257.9 987.5,1261.6 992.7,1274.2 997.9,1292.3 1003.1,1315.4 1008.3,1327.9 1013.5,1327.8 1018.7,1309.9 1023.9,1281.2 1029.1,1253.5 1034.3,1230.9 1039.4,1222.9 1044.6,1217.9 1049.8,1218.8 1055.0,1220.5 1060.2,1240.7 1065.4,1274.4 1070.6,1318.3 1075.8,1342.4 1081.0,1352.2 1086.2,1346.3 1091.4,1344.0 1096.6,1343.5 1101.8,1341.6 1107.0,1333.8 1112.2,1325.8 1117.3,1318.2 1122.5,1314.8 1127.7,1296.7 1132.9,1276.2 1138.1,1260.7 1143.3,1277.3 1148.5,1312.6 1153.7,1347.5 1158.9,1350.7 1164.1,1341.2 1169.3,1330.7 1174.5,1346.9 1179.7,1363.7 1184.9,1372.2 1190.1,1359.0 1195.3,1331.6 1200.4,1298.6 1205.6,1263.7 1210.8,1236.3 1216.0,1218.9 1221.2,1218.7 1226.4,1232.6 1231.6,1252.5 1236.8,1259.3 1242.0,1252.6 1247.2,1242.5 1252.4,1244.4 1257.6,1262.4 1262.8,1292.7 1268.0,1329.4 1273.2,1358.8 1278.3,1374.3 1283.5,1377.3 1288.7,1365.6 1293.9,1350.2 1299.1,1332.5 1304.3,1334.8 1309.5,1327.9 1314.7,1307.9 1319.9,1263.2 1325.1,1232.1 1330.3,1220.4 1335.5,1223.6 1340.7,1226.9 1345.9,1223.0 1351.1,1218.9 1356.3,1214.8 1361.4,1216.8 1366.6,1219.7 1371.8,1225.1 1377.0,1229.9 1382.2,1238.2 1387.4,1243.5 1392.6,1248.1 1397.8,1246.5 1403.0,1245.5 1408.2,1237.9 1413.4,1233.7 1418.6,1245.6 1423.8,1281.8 1429.0,1330.2 1434.2,1359.2 1439.4,1361.5 1444.5,1343.2 1449.7,1329.4 1454.9,1327.1 1460.1,1325.3 1465.3,1315.3 1470.5,1295.8 1475.7,1288.5 1480.9,1291.8 1486.1,1292.7 1491.3,1278.3 1496.5,1261.9 1501.7,1264.7 1506.9,1288.0 1512.1,1299.9 1517.3,1308.8 1522.4,1310.7 1527.6,1334.1 1532.8,1349.7 1538.0,1364.8 1543.2,1368.1 1548.4,1369.2 1553.6,1363.1 1558.8,1359.7 1564.0,1356.7 1569.2,1354.0 1574.4,1344.4 1579.6,1334.3 1584.8,1326.0 1590.0,1315.7 1595.2,1311.4 1600.4,1308.1 1605.5,1320.7 1610.7,1332.1 1615.9,1352.8 1621.1,1360.9 1626.3,1366.5 1631.5,1363.3 1636.7,1368.5 1641.9,1372.0 1647.1,1375.4 1652.3,1366.0 1657.5,1347.7 1662.7,1315.9 1667.9,1290.3 1673.1,1279.2 1678.3,1290.0 1683.4,1307.9 1688.6,1330.6 1693.8,1350.0 1699.0,1355.9 1704.2,1340.6 1709.4,1310.0 1714.6,1291.6 1719.8,1283.7 1725.0,1277.6 1730.2,1255.3 1735.4,1231.5 1740.6,1215.9 1745.8,1212.3 1751.0,1212.4 1756.2,1212.4 1761.4,1215.3 1766.5,1220.3 1771.7,1226.8 1776.9,1234.4 1782.1,1245.0 1787.3,1259.3 1792.5,1271.7 1797.7,1286.8 1802.9,1299.8 1808.1,1309.1 1813.3,1311.7 1818.5,1310.4 1823.7,1304.4 1828.9,1286.9 1834.1,1276.7 1839.3,1290.0 1844.4,1326.3 1849.6,1358.7 1854.8,1374.8 1860.0,1375.0 1865.2,1372.7 1870.4,1369.5 1875.6,1365.1 1880.8,1352.5 1886.0,1333.9 1891.2,1311.5 1896.4,1289.0 1901.6,1266.2 1906.8,1260.0 1912.0,1268.8 1917.2,1278.8 1922.4,1271.3 1927.5,1248.4 1932.7,1231.3 1937.9,1226.2 1943.1,1236.8 1948.3,1247.8 1953.5,1260.7 1958.7,1260.3 1963.9,1255.2 1969.1,1237.2 1974.3,1235.2 1979.5,1247.3 1984.7,1284.8 1989.9,1321.1 1995.1,1354.6 2000.3,1367.2 2005.5,1366.3 2010.6,1355.9 2015.8,1353.0 2021.0,1358.4 2026.2,1354.4 2031.4,1330.9 2036.6,1288.7 2041.8,1251.0 2047.0,1227.0 2052.2,1218.4 2057.4,1216.8 2062.6,1216.1 2067.8,1214.8 2073.0,1212.6 2078.2,1211.4 2083.4,1214.7 2088.5,1222.8 2093.7,1234.3 2098.9,1239.9 2104.1,1237.8 2109.3,1234.1 2114.5,1236.3 2119.7,1249.9 2124.9,1261.4 2130.1,1273.4 2135.3,1274.8 2140.5,1290.1 2145.7,1310.9 2150.9,1345.9 2156.1,1367.3 2161.3,1375.5 2166.5,1363.1 2171.6,1342.4 2176.8,1316.3 2182.0,1292.0 2187.2,1265.9 2192.4,1242.9 2197.6,1223.7 2202.8,1217.3 2208.0,1216.1 2213.2,1222.0 2218.4,1228.9 2223.6,1246.6 2228.8,1261.6 2234.0,1277.5" fill="none" stroke="#f9a55c" stroke-width="1.9" stroke-linejoin="round"/>
<polyline points="16.3,1377.8 21.5,1355.0 26.7,1339.5 31.9,1314.4 37.1,1314.4 42.3,1319.3 47.5,1315.5 52.7,1283.3 57.9,1240.3 63.1,1221.9 68.2,1221.9 73.4,1222.9 78.6,1210.9 83.8,1210.9 89.0,1217.7 94.2,1226.7 99.4,1229.3 104.6,1235.4 109.8,1233.3 115.0,1258.0 120.2,1300.6 125.4,1336.2 130.6,1308.8 135.8,1252.7 141.0,1210.2 146.1,1230.3 151.3,1262.7 156.5,1307.9 161.7,1322.7 166.9,1322.4 172.1,1314.2 177.3,1329.9 182.5,1351.0 187.7,1361.8 192.9,1363.1 198.1,1365.0 203.3,1357.7 208.5,1341.4 213.7,1313.8 218.9,1278.1 224.1,1242.5 229.2,1227.6 234.4,1242.5 239.6,1286.5 244.8,1330.3 250.0,1366.8 255.2,1379.0 260.4,1358.5 265.6,1346.3 270.8,1346.3 276.0,1366.8 281.2,1365.1 286.4,1355.6 291.6,1334.3 296.8,1321.3 302.0,1302.6 307.1,1282.2 312.3,1273.6 317.5,1249.6 322.7,1235.1 327.9,1224.8 333.1,1254.7 338.3,1267.9 343.5,1259.5 348.7,1225.5 353.9,1212.2 359.1,1210.2 364.3,1222.4 369.5,1223.3 374.7,1223.3 379.9,1211.2 385.1,1221.3 390.2,1230.0 395.4,1237.8 400.6,1226.7 405.8,1218.1 411.0,1210.2 416.2,1217.0 421.4,1222.4 426.6,1222.4 431.8,1215.7 437.0,1210.2 442.2,1236.9 447.4,1260.0 452.6,1274.4 457.8,1247.7 463.0,1224.7 468.2,1247.5 473.3,1278.4 478.5,1295.4 483.7,1265.5 488.9,1290.9 494.1,1326.0 499.3,1367.5 504.5,1367.5 509.7,1371.6 514.9,1372.3 520.1,1372.3 525.3,1359.5 530.5,1349.0 535.7,1335.5 540.9,1347.8 546.1,1364.9 551.2,1367.1 556.4,1354.0 561.6,1329.4 566.8,1320.9 572.0,1305.0 577.2,1273.5 582.4,1237.0 587.6,1222.6 592.8,1246.0 598.0,1265.3 603.2,1272.2 608.4,1297.9 613.6,1322.8 618.8,1359.9 624.0,1359.1 629.2,1353.6 634.3,1345.3 639.5,1346.3 644.7,1358.6 649.9,1345.3 655.1,1322.2 660.3,1290.9 665.5,1311.2 670.7,1341.1 675.9,1377.6 681.1,1379.0 686.3,1367.7 691.5,1355.1 696.7,1348.7 701.9,1359.9 707.1,1372.6 712.2,1370.3 717.4,1356.9 722.6,1329.5 727.8,1304.7 733.0,1282.9 738.2,1272.7 743.4,1249.9 748.6,1228.8 753.8,1216.0 759.0,1216.0 764.2,1216.0 769.4,1210.2 774.6,1218.9 779.8,1232.9 785.0,1247.2 790.2,1241.0 795.3,1238.7 800.5,1235.1 805.7,1240.7 810.9,1236.1 816.1,1225.5 821.3,1235.4 826.5,1273.9 831.7,1316.6 836.9,1354.8 842.1,1334.8 847.3,1325.5 852.5,1299.2 857.7,1273.9 862.9,1240.5 868.1,1226.1 873.2,1231.5 878.4,1266.5 883.6,1285.5 888.8,1336.1 894.0,1357.3 899.2,1366.2 904.4,1351.1 909.6,1343.9 914.8,1342.0 920.0,1357.2 925.2,1348.4 930.4,1355.9 935.6,1340.5 940.8,1329.3 946.0,1303.8 951.2,1272.9 956.3,1243.9 961.5,1232.8 966.7,1230.3 971.9,1255.8 977.1,1256.6 982.3,1261.3 987.5,1266.9 992.7,1294.3 997.9,1315.8 1003.1,1336.0 1008.3,1331.8 1013.5,1315.7 1018.7,1282.3 1023.9,1245.6 1029.1,1232.5 1034.3,1214.8 1039.4,1221.5 1044.6,1217.5 1049.8,1217.3 1055.0,1226.8 1060.2,1278.0 1065.4,1318.4 1070.6,1358.5 1075.8,1350.3 1081.0,1347.7 1086.2,1340.9 1091.4,1343.4 1096.6,1346.1 1101.8,1335.4 1107.0,1319.7 1112.2,1322.2 1117.3,1312.7 1122.5,1309.5 1127.7,1268.0 1132.9,1251.1 1138.1,1263.0 1143.3,1317.7 1148.5,1357.2 1153.7,1367.5 1158.9,1327.3 1164.1,1328.9 1169.3,1335.9 1174.5,1376.1 1179.7,1379.0 1184.9,1361.5 1190.1,1336.3 1195.3,1297.0 1200.4,1262.6 1205.6,1231.6 1210.8,1214.7 1216.0,1210.3 1221.2,1231.0 1226.4,1256.5 1231.6,1269.9 1236.8,1251.3 1242.0,1236.5 1247.2,1239.6 1252.4,1257.0 1257.6,1290.7 1262.8,1330.4 1268.0,1367.1 1273.2,1379.0 1278.3,1377.0 1283.5,1375.9 1288.7,1343.9 1293.9,1330.7 1299.1,1322.8 1304.3,1351.0 1309.5,1310.0 1314.7,1262.8 1319.9,1216.8 1325.1,1216.8 1330.3,1227.5 1335.5,1226.6 1340.7,1226.6 1345.9,1215.9 1351.1,1214.3 1356.3,1214.3 1361.4,1221.7 1366.6,1223.1 1371.8,1230.5 1377.0,1236.2 1382.2,1247.7 1387.4,1246.7 1392.6,1250.0 1397.8,1242.8 1403.0,1243.6 1408.2,1227.2 1413.4,1230.3 1418.6,1279.4 1423.8,1335.6 1429.0,1375.7 1434.2,1366.2 1439.4,1342.5 1444.5,1321.1 1449.7,1324.7 1454.9,1335.5 1460.1,1315.8 1465.3,1294.7 1470.5,1276.8 1475.7,1294.0 1480.9,1304.8 1486.1,1279.2 1491.3,1251.0 1496.5,1255.4 1501.7,1287.9 1506.9,1320.8 1512.1,1290.9 1517.3,1314.6 1522.4,1326.5 1527.6,1361.2 1532.8,1361.2 1538.0,1372.0 1543.2,1371.2 1548.4,1364.4 1553.6,1353.7 1558.8,1360.9 1564.0,1355.4 1569.2,1345.7 1574.4,1332.0 1579.6,1325.2 1584.8,1320.7 1590.0,1301.1 1595.2,1312.4 1600.4,1310.9 1605.5,1338.8 1610.7,1346.6 1615.9,1372.9 1621.1,1363.3 1626.3,1363.3 1631.5,1363.3 1636.7,1379.0 1641.9,1373.6 1647.1,1373.6 1652.3,1350.7 1657.5,1318.9 1662.7,1278.2 1667.9,1273.9 1673.1,1285.4 1678.3,1310.7 1683.4,1327.8 1688.6,1353.4 1693.8,1368.8 1699.0,1345.6 1704.2,1307.2 1709.4,1277.2 1714.6,1290.3 1719.8,1283.5 1725.0,1259.2 1730.2,1223.2 1735.4,1212.1 1740.6,1212.4 1745.8,1212.4 1751.0,1212.4 1756.2,1212.5 1761.4,1221.0 1766.5,1227.6 1771.7,1231.8 1776.9,1244.0 1782.1,1259.3 1787.3,1274.7 1792.5,1281.0 1797.7,1304.6 1802.9,1313.9 1808.1,1308.9 1813.3,1312.3 1818.5,1310.1 1823.7,1290.8 1828.9,1259.8 1834.1,1279.5 1839.3,1330.5 1844.4,1369.0 1849.6,1376.5 1854.8,1379.0 1860.0,1369.5 1865.2,1369.5 1870.4,1369.5 1875.6,1356.2 1880.8,1331.7 1886.0,1313.7 1891.2,1289.2 1896.4,1264.0 1901.6,1245.4 1906.8,1270.6 1912.0,1290.4 1917.2,1275.3 1922.4,1248.2 1927.5,1221.8 1932.7,1224.0 1937.9,1232.6 1943.1,1253.6 1948.3,1257.2 1953.5,1271.3 1958.7,1252.4 1963.9,1242.0 1969.1,1217.2 1974.3,1246.2 1979.5,1278.5 1984.7,1329.8 1989.9,1355.0 1995.1,1379.0 2000.3,1367.7 2005.5,1352.2 2010.6,1347.8 2015.8,1359.0 2021.0,1368.3 2026.2,1335.8 2031.4,1288.6 2036.6,1241.8 2041.8,1222.4 2047.0,1216.6 2052.2,1216.0 2057.4,1217.7 2062.6,1214.6 2067.8,1212.0 2073.0,1211.1 2078.2,1211.1 2083.4,1221.9 2088.5,1235.3 2093.7,1245.7 2098.9,1238.7 2104.1,1229.0 2109.3,1234.5 2114.5,1245.6 2119.7,1269.7 2124.9,1269.0 2130.1,1281.5 2135.3,1273.9 2140.5,1314.9 2145.7,1343.9 2150.9,1379.0 2156.1,1379.0 2161.3,1368.4 2166.5,1342.0 2171.6,1316.7 2176.8,1290.1 2182.0,1269.3 2187.2,1238.4 2192.4,1220.9 2197.6,1211.8 2202.8,1219.0 2208.0,1217.4 2213.2,1229.5 2218.4,1239.6 2223.6,1270.8 2228.8,1274.3 2234.0,1287.5" fill="none" stroke="#6bbcf7" stroke-width="1.9" stroke-linejoin="round"/>
</g>
<line x1="14" y1="1345" x2="2458" y2="1345" stroke="#4d4d4d" stroke-width="2" stroke-dasharray="10 12" shape-rendering="crispEdges"/>
<rect x="14.00" y="1245.00" width="2444.00" height="101.00" fill="rgba(171,71,240,0.25)" />
<line x1="14" y1="1244" x2="2458" y2="1244" stroke="#4d4d4d" stroke-width="2" stroke-dasharray="10 12" shape-rendering="crispEdges"/>
<g clip-path="url(#cd)">
<g shape-rendering="crispEdges">
<rect x="15.00" y="1456.00" width="3.00" height="9.00" fill="#ef5350" />
<rect x="20.00" y="1456.00" width="3.00" height="8.00" fill="#fbcdd2" />
<rect x="25.00" y="1456.00" width="3.00" height="8.00" fill="#ef5350" />
<rect x="30.00" y="1456.00" width="3.00" height="7.00" fill="#fbcdd2" />
<rect x="36.00" y="1456.00" width="3.00" height="6.00" fill="#fbcdd2" />
<rect x="41.00" y="1456.00" width="3.00" height="6.00" fill="#ef5350" />
<rect x="46.00" y="1456.00" width="3.00" height="5.00" fill="#fbcdd2" />
<rect x="51.00" y="1456.00" width="3.00" height="3.00" fill="#fbcdd2" />
<rect x="56.00" y="1454.00" width="3.00" height="4.00" fill="#26a69a" />
<rect x="62.00" y="1454.00" width="3.00" height="4.00" fill="#26a69a" />
<rect x="67.00" y="1452.00" width="3.00" height="6.00" fill="#26a69a" />
<rect x="72.00" y="1452.00" width="3.00" height="6.00" fill="#26a69a" />
<rect x="77.00" y="1449.00" width="3.00" height="9.00" fill="#26a69a" />
<rect x="82.00" y="1448.00" width="3.00" height="10.00" fill="#26a69a" />
<rect x="88.00" y="1448.00" width="3.00" height="10.00" fill="#b2dfdb" />
<rect x="93.00" y="1448.00" width="3.00" height="10.00" fill="#b2dfdb" />
<rect x="98.00" y="1448.00" width="3.00" height="10.00" fill="#26a69a" />
<rect x="103.00" y="1449.00" width="3.00" height="9.00" fill="#b2dfdb" />
<rect x="108.00" y="1450.00" width="3.00" height="8.00" fill="#b2dfdb" />
<rect x="114.00" y="1452.00" width="3.00" height="6.00" fill="#b2dfdb" />
<rect x="119.00" y="1454.00" width="3.00" height="4.00" fill="#b2dfdb" />
<rect x="124.00" y="1455.00" width="3.00" height="3.00" fill="#b2dfdb" />
<rect x="129.00" y="1453.00" width="3.00" height="5.00" fill="#26a69a" />
<rect x="134.00" y="1449.00" width="3.00" height="9.00" fill="#26a69a" />
<rect x="140.00" y="1447.00" width="3.00" height="11.00" fill="#26a69a" />
<rect x="145.00" y="1447.00" width="3.00" height="11.00" fill="#b2dfdb" />
<rect x="150.00" y="1450.00" width="3.00" height="8.00" fill="#b2dfdb" />
<rect x="155.00" y="1453.00" width="3.00" height="5.00" fill="#b2dfdb" />
<rect x="160.00" y="1454.00" width="3.00" height="4.00" fill="#b2dfdb" />
<rect x="165.00" y="1454.00" width="3.00" height="4.00" fill="#b2dfdb" />
<rect x="171.00" y="1455.00" width="3.00" height="3.00" fill="#b2dfdb" />
<rect x="176.00" y="1456.00" width="3.00" height="4.00" fill="#ef5350" />
<rect x="181.00" y="1456.00" width="3.00" height="5.00" fill="#ef5350" />
<rect x="186.00" y="1456.00" width="3.00" height="6.00" fill="#ef5350" />
<rect x="191.00" y="1456.00" width="3.00" height="6.00" fill="#ef5350" />
<rect x="197.00" y="1456.00" width="3.00" height="6.00" fill="#ef5350" />
<rect x="202.00" y="1456.00" width="3.00" height="5.00" fill="#fbcdd2" />
<rect x="207.00" y="1456.00" width="3.00" height="4.00" fill="#fbcdd2" />
<rect x="212.00" y="1456.00" width="3.00" height="3.00" fill="#fbcdd2" />
<rect x="217.00" y="1456.00" width="3.00" height="3.00" fill="#fbcdd2" />
<rect x="223.00" y="1456.00" width="3.00" height="2.00" fill="#26a69a" />
<rect x="228.00" y="1456.00" width="3.00" height="2.00" fill="#26a69a" />
<rect x="233.00" y="1456.00" width="3.00" height="2.00" fill="#b2dfdb" />
<rect x="238.00" y="1456.00" width="3.00" height="3.00" fill="#ef5350" />
<rect x="243.00" y="1456.00" width="3.00" height="4.00" fill="#ef5350" />
<rect x="249.00" y="1456.00" width="3.00" height="5.00" fill="#ef5350" />
<rect x="254.00" y="1456.00" width="3.00" height="5.00" fill="#ef5350" />
<rect x="259.00" y="1456.00" width="3.00" height="5.00" fill="#fbcdd2" />
<rect x="264.00" y="1456.00" width="3.00" height="5.00" fill="#fbcdd2" />
<rect x="269.00" y="1456.00" width="3.00" height="7.00" fill="#ef5350" />
<rect x="275.00" y="1456.00" width="3.00" height="9.00" fill="#ef5350" />
<rect x="280.00" y="1456.00" width="3.00" height="9.00" fill="#ef5350" />
<rect x="285.00" y="1456.00" width="3.00" height="9.00" fill="#ef5350" />
<rect x="290.00" y="1456.00" width="3.00" height="8.00" fill="#fbcdd2" />
<rect x="295.00" y="1456.00" width="3.00" height="6.00" fill="#fbcdd2" />
<rect x="301.00" y="1456.00" width="3.00" height="5.00" fill="#fbcdd2" />
<rect x="306.00" y="1456.00" width="3.00" height="4.00" fill="#fbcdd2" />
<rect x="311.00" y="1456.00" width="3.00" height="4.00" fill="#fbcdd2" />
<rect x="316.00" y="1456.00" width="3.00" height="3.00" fill="#fbcdd2" />
<rect x="321.00" y="1455.00" width="3.00" height="3.00" fill="#26a69a" />
<rect x="326.00" y="1455.00" width="3.00" height="3.00" fill="#26a69a" />
<rect x="332.00" y="1456.00" width="3.00" height="2.00" fill="#ef5350" />
<rect x="337.00" y="1456.00" width="3.00" height="2.00" fill="#26a69a" />
<rect x="342.00" y="1455.00" width="3.00" height="3.00" fill="#26a69a" />
<rect x="347.00" y="1453.00" width="3.00" height="5.00" fill="#26a69a" />
<rect x="352.00" y="1451.00" width="3.00" height="7.00" fill="#26a69a" />
<rect x="358.00" y="1450.00" width="3.00" height="8.00" fill="#26a69a" />
<rect x="363.00" y="1450.00" width="3.00" height="8.00" fill="#b2dfdb" />
<rect x="368.00" y="1449.00" width="3.00" height="9.00" fill="#26a69a" />
<rect x="373.00" y="1448.00" width="3.00" height="10.00" fill="#26a69a" />
<rect x="378.00" y="1446.00" width="3.00" height="12.00" fill="#26a69a" />
<rect x="384.00" y="1447.00" width="3.00" height="11.00" fill="#b2dfdb" />
<rect x="389.00" y="1447.00" width="3.00" height="11.00" fill="#b2dfdb" />
<rect x="394.00" y="1448.00" width="3.00" height="10.00" fill="#b2dfdb" />
<rect x="399.00" y="1447.00" width="3.00" height="11.00" fill="#26a69a" />
<rect x="404.00" y="1444.00" width="3.00" height="14.00" fill="#26a69a" />
<rect x="410.00" y="1443.00" width="3.00" height="15.00" fill="#26a69a" />
<rect x="415.00" y="1444.00" width="3.00" height="14.00" fill="#b2dfdb" />
<rect x="420.00" y="1445.00" width="3.00" height="13.00" fill="#b2dfdb" />
<rect x="425.00" y="1445.00" width="3.00" height="13.00" fill="#b2dfdb" />
<rect x="430.00" y="1446.00" width="3.00" height="12.00" fill="#b2dfdb" />
<rect x="436.00" y="1447.00" width="3.00" height="11.00" fill="#b2dfdb" />
<rect x="441.00" y="1449.00" width="3.00" height="9.00" fill="#b2dfdb" />
<rect x="446.00" y="1451.00" width="3.00" height="7.00" fill="#b2dfdb" />
<rect x="451.00" y="1452.00" width="3.00" height="6.00" fill="#b2dfdb" />
<rect x="456.00" y="1451.00" width="3.00" height="7.00" fill="#26a69a" />
<rect x="462.00" y="1448.00" width="3.00" height="10.00" fill="#26a69a" />
<rect x="467.00" y="1449.00" width="3.00" height="9.00" fill="#b2dfdb" />
<rect x="472.00" y="1449.00" width="3.00" height="9.00" fill="#b2dfdb" />
<rect x="477.00" y="1448.00" width="3.00" height="10.00" fill="#26a69a" />
<rect x="482.00" y="1447.00" width="3.00" height="11.00" fill="#26a69a" />
<rect x="487.00" y="1450.00" width="3.00" height="8.00" fill="#b2dfdb" />
<rect x="493.00" y="1452.00" width="3.00" height="6.00" fill="#b2dfdb" />
<rect x="498.00" y="1453.00" width="3.00" height="5.00" fill="#b2dfdb" />
<rect x="503.00" y="1456.00" width="3.00" height="2.00" fill="#b2dfdb" />
<rect x="508.00" y="1456.00" width="3.00" height="6.00" fill="#ef5350" />
<rect x="513.00" y="1456.00" width="3.00" height="7.00" fill="#ef5350" />
<rect x="519.00" y="1456.00" width="3.00" height="11.00" fill="#ef5350" />
<rect x="524.00" y="1456.00" width="3.00" height="11.00" fill="#fbcdd2" />
<rect x="529.00" y="1456.00" width="3.00" height="9.00" fill="#fbcdd2" />
<rect x="534.00" y="1456.00" width="3.00" height="9.00" fill="#fbcdd2" />
<rect x="539.00" y="1456.00" width="3.00" height="11.00" fill="#ef5350" />
<rect x="545.00" y="1456.00" width="3.00" height="13.00" fill="#ef5350" />
<rect x="550.00" y="1456.00" width="3.00" height="11.00" fill="#fbcdd2" />
<rect x="555.00" y="1456.00" width="3.00" height="10.00" fill="#fbcdd2" />
<rect x="560.00" y="1456.00" width="3.00" height="8.00" fill="#fbcdd2" />
<rect x="565.00" y="1456.00" width="3.00" height="7.00" fill="#fbcdd2" />
<rect x="571.00" y="1456.00" width="3.00" height="6.00" fill="#fbcdd2" />
<rect x="576.00" y="1456.00" width="3.00" height="2.00" fill="#fbcdd2" />
<rect x="581.00" y="1453.00" width="3.00" height="5.00" fill="#26a69a" />
<rect x="586.00" y="1452.00" width="3.00" height="6.00" fill="#26a69a" />
<rect x="591.00" y="1453.00" width="3.00" height="5.00" fill="#b2dfdb" />
<rect x="597.00" y="1454.00" width="3.00" height="4.00" fill="#b2dfdb" />
<rect x="602.00" y="1454.00" width="3.00" height="4.00" fill="#b2dfdb" />
<rect x="607.00" y="1456.00" width="3.00" height="4.00" fill="#ef5350" />
<rect x="612.00" y="1456.00" width="3.00" height="5.00" fill="#ef5350" />
<rect x="617.00" y="1456.00" width="3.00" height="8.00" fill="#ef5350" />
<rect x="623.00" y="1456.00" width="3.00" height="8.00" fill="#ef5350" />
<rect x="628.00" y="1456.00" width="3.00" height="8.00" fill="#fbcdd2" />
<rect x="633.00" y="1456.00" width="3.00" height="8.00" fill="#ef5350" />
<rect x="638.00" y="1456.00" width="3.00" height="8.00" fill="#ef5350" />
<rect x="643.00" y="1456.00" width="3.00" height="8.00" fill="#ef5350" />
<rect x="648.00" y="1456.00" width="3.00" height="7.00" fill="#fbcdd2" />
<rect x="654.00" y="1456.00" width="3.00" height="5.00" fill="#fbcdd2" />
<rect x="659.00" y="1456.00" width="3.00" height="5.00" fill="#fbcdd2" />
<rect x="664.00" y="1456.00" width="3.00" height="6.00" fill="#ef5350" />
<rect x="669.00" y="1456.00" width="3.00" height="8.00" fill="#ef5350" />
<rect x="674.00" y="1456.00" width="3.00" height="10.00" fill="#ef5350" />
<rect x="680.00" y="1456.00" width="3.00" height="12.00" fill="#ef5350" />
<rect x="685.00" y="1456.00" width="3.00" height="12.00" fill="#fbcdd2" />
<rect x="690.00" y="1456.00" width="3.00" height="11.00" fill="#fbcdd2" />
<rect x="695.00" y="1456.00" width="3.00" height="11.00" fill="#fbcdd2" />
<rect x="700.00" y="1456.00" width="3.00" height="12.00" fill="#ef5350" />
<rect x="706.00" y="1456.00" width="3.00" height="15.00" fill="#ef5350" />
<rect x="711.00" y="1456.00" width="3.00" height="15.00" fill="#ef5350" />
<rect x="716.00" y="1456.00" width="3.00" height="14.00" fill="#fbcdd2" />
<rect x="721.00" y="1456.00" width="3.00" height="11.00" fill="#fbcdd2" />
<rect x="726.00" y="1456.00" width="3.00" height="8.00" fill="#fbcdd2" />
<rect x="732.00" y="1456.00" width="3.00" height="6.00" fill="#fbcdd2" />
<rect x="737.00" y="1456.00" width="3.00" height="6.00" fill="#fbcdd2" />
<rect x="742.00" y="1456.00" width="3.00" height="4.00" fill="#fbcdd2" />
<rect x="747.00" y="1454.00" width="3.00" height="4.00" fill="#26a69a" />
<rect x="752.00" y="1453.00" width="3.00" height="5.00" fill="#26a69a" />
<rect x="758.00" y="1450.00" width="3.00" height="8.00" fill="#26a69a" />
<rect x="763.00" y="1448.00" width="3.00" height="10.00" fill="#26a69a" />
<rect x="768.00" y="1444.00" width="3.00" height="14.00" fill="#26a69a" />
<rect x="773.00" y="1443.00" width="3.00" height="15.00" fill="#26a69a" />
<rect x="778.00" y="1444.00" width="3.00" height="14.00" fill="#b2dfdb" />
<rect x="784.00" y="1445.00" width="3.00" height="13.00" fill="#b2dfdb" />
<rect x="789.00" y="1444.00" width="3.00" height="14.00" fill="#26a69a" />
<rect x="794.00" y="1445.00" width="3.00" height="13.00" fill="#b2dfdb" />
<rect x="799.00" y="1446.00" width="3.00" height="12.00" fill="#b2dfdb" />
<rect x="804.00" y="1447.00" width="3.00" height="11.00" fill="#b2dfdb" />
<rect x="809.00" y="1447.00" width="3.00" height="11.00" fill="#b2dfdb" />
<rect x="815.00" y="1447.00" width="3.00" height="11.00" fill="#26a69a" />
<rect x="820.00" y="1449.00" width="3.00" height="9.00" fill="#b2dfdb" />
<rect x="825.00" y="1451.00" width="3.00" height="7.00" fill="#b2dfdb" />
<rect x="830.00" y="1452.00" width="3.00" height="6.00" fill="#b2dfdb" />
<rect x="835.00" y="1454.00" width="3.00" height="4.00" fill="#b2dfdb" />
<rect x="841.00" y="1454.00" width="3.00" height="4.00" fill="#26a69a" />
<rect x="846.00" y="1454.00" width="3.00" height="4.00" fill="#b2dfdb" />
<rect x="851.00" y="1455.00" width="3.00" height="3.00" fill="#b2dfdb" />
<rect x="856.00" y="1453.00" width="3.00" height="5.00" fill="#26a69a" />
<rect x="861.00" y="1453.00" width="3.00" height="5.00" fill="#26a69a" />
<rect x="867.00" y="1453.00" width="3.00" height="5.00" fill="#b2dfdb" />
<rect x="872.00" y="1453.00" width="3.00" height="5.00" fill="#b2dfdb" />
<rect x="877.00" y="1455.00" width="3.00" height="3.00" fill="#b2dfdb" />
<rect x="882.00" y="1456.00" width="3.00" height="2.00" fill="#b2dfdb" />
<rect x="887.00" y="1456.00" width="3.00" height="5.00" fill="#ef5350" />
<rect x="893.00" y="1456.00" width="3.00" height="9.00" fill="#ef5350" />
<rect x="898.00" y="1456.00" width="3.00" height="10.00" fill="#ef5350" />
<rect x="903.00" y="1456.00" width="3.00" height="10.00" fill="#ef5350" />
<rect x="908.00" y="1456.00" width="3.00" height="11.00" fill="#ef5350" />
<rect x="913.00" y="1456.00" width="3.00" height="10.00" fill="#fbcdd2" />
<rect x="919.00" y="1456.00" width="3.00" height="11.00" fill="#ef5350" />
<rect x="924.00" y="1456.00" width="3.00" height="10.00" fill="#fbcdd2" />
<rect x="929.00" y="1456.00" width="3.00" height="10.00" fill="#fbcdd2" />
<rect x="934.00" y="1456.00" width="3.00" height="8.00" fill="#fbcdd2" />
<rect x="939.00" y="1456.00" width="3.00" height="6.00" fill="#fbcdd2" />
<rect x="945.00" y="1456.00" width="3.00" height="4.00" fill="#fbcdd2" />
<rect x="950.00" y="1456.00" width="3.00" height="2.00" fill="#26a69a" />
<rect x="955.00" y="1454.00" width="3.00" height="4.00" fill="#26a69a" />
<rect x="960.00" y="1454.00" width="3.00" height="4.00" fill="#26a69a" />
<rect x="965.00" y="1453.00" width="3.00" height="5.00" fill="#26a69a" />
<rect x="970.00" y="1455.00" width="3.00" height="3.00" fill="#b2dfdb" />
<rect x="976.00" y="1454.00" width="3.00" height="4.00" fill="#26a69a" />
<rect x="981.00" y="1454.00" width="3.00" height="4.00" fill="#26a69a" />
<rect x="986.00" y="1456.00" width="3.00" height="2.00" fill="#b2dfdb" />
<rect x="991.00" y="1456.00" width="3.00" height="3.00" fill="#ef5350" />
<rect x="996.00" y="1456.00" width="3.00" height="3.00" fill="#ef5350" />
<rect x="1002.00" y="1456.00" width="3.00" height="4.00" fill="#ef5350" />
<rect x="1007.00" y="1456.00" width="3.00" height="3.00" fill="#fbcdd2" />
<rect x="1012.00" y="1456.00" width="3.00" height="2.00" fill="#fbcdd2" />
<rect x="1017.00" y="1456.00" width="3.00" height="2.00" fill="#26a69a" />
<rect x="1022.00" y="1453.00" width="3.00" height="5.00" fill="#26a69a" />
<rect x="1028.00" y="1451.00" width="3.00" height="7.00" fill="#26a69a" />
<rect x="1033.00" y="1450.00" width="3.00" height="8.00" fill="#26a69a" />
<rect x="1038.00" y="1450.00" width="3.00" height="8.00" fill="#b2dfdb" />
<rect x="1043.00" y="1450.00" width="3.00" height="8.00" fill="#26a69a" />
<rect x="1048.00" y="1450.00" width="3.00" height="8.00" fill="#26a69a" />
<rect x="1054.00" y="1451.00" width="3.00" height="7.00" fill="#b2dfdb" />
<rect x="1059.00" y="1454.00" width="3.00" height="4.00" fill="#b2dfdb" />
<rect x="1064.00" y="1456.00" width="3.00" height="2.00" fill="#b2dfdb" />
<rect x="1069.00" y="1456.00" width="3.00" height="5.00" fill="#ef5350" />
<rect x="1074.00" y="1456.00" width="3.00" height="6.00" fill="#ef5350" />
<rect x="1080.00" y="1456.00" width="3.00" height="6.00" fill="#fbcdd2" />
<rect x="1085.00" y="1456.00" width="3.00" height="7.00" fill="#ef5350" />
<rect x="1090.00" y="1456.00" width="3.00" height="7.00" fill="#ef5350" />
<rect x="1095.00" y="1456.00" width="3.00" height="6.00" fill="#fbcdd2" />
<rect x="1100.00" y="1456.00" width="3.00" height="6.00" fill="#fbcdd2" />
<rect x="1106.00" y="1456.00" width="3.00" height="4.00" fill="#fbcdd2" />
<rect x="1111.00" y="1456.00" width="3.00" height="4.00" fill="#ef5350" />
<rect x="1116.00" y="1456.00" width="3.00" height="3.00" fill="#fbcdd2" />
<rect x="1121.00" y="1456.00" width="3.00" height="3.00" fill="#fbcdd2" />
<rect x="1126.00" y="1456.00" width="3.00" height="2.00" fill="#26a69a" />
<rect x="1131.00" y="1456.00" width="3.00" height="2.00" fill="#ef5350" />
<rect x="1137.00" y="1456.00" width="3.00" height="3.00" fill="#ef5350" />
<rect x="1142.00" y="1456.00" width="3.00" height="5.00" fill="#ef5350" />
<rect x="1147.00" y="1456.00" width="3.00" height="5.00" fill="#ef5350" />
<rect x="1152.00" y="1456.00" width="3.00" height="5.00" fill="#ef5350" />
<rect x="1157.00" y="1456.00" width="3.00" height="4.00" fill="#fbcdd2" />
<rect x="1163.00" y="1456.00" width="3.00" height="5.00" fill="#ef5350" />
<rect x="1168.00" y="1456.00" width="3.00" height="7.00" fill="#ef5350" />
<rect x="1173.00" y="1456.00" width="3.00" height="10.00" fill="#ef5350" />
<rect x="1178.00" y="1456.00" width="3.00" height="12.00" fill="#ef5350" />
<rect x="1183.00" y="1456.00" width="3.00" height="11.00" fill="#fbcdd2" />
<rect x="1189.00" y="1456.00" width="3.00" height="9.00" fill="#fbcdd2" />
<rect x="1194.00" y="1456.00" width="3.00" height="6.00" fill="#fbcdd2" />
<rect x="1199.00" y="1456.00" width="3.00" height="3.00" fill="#fbcdd2" />
<rect x="1204.00" y="1455.00" width="3.00" height="3.00" fill="#26a69a" />
<rect x="1209.00" y="1453.00" width="3.00" height="5.00" fill="#26a69a" />
<rect x="1215.00" y="1452.00" width="3.00" height="6.00" fill="#26a69a" />
<rect x="1220.00" y="1453.00" width="3.00" height="5.00" fill="#b2dfdb" />
<rect x="1225.00" y="1454.00" width="3.00" height="4.00" fill="#b2dfdb" />
<rect x="1230.00" y="1454.00" width="3.00" height="4.00" fill="#26a69a" />
<rect x="1235.00" y="1453.00" width="3.00" height="5.00" fill="#26a69a" />
<rect x="1241.00" y="1453.00" width="3.00" height="5.00" fill="#b2dfdb" />
<rect x="1246.00" y="1454.00" width="3.00" height="4.00" fill="#b2dfdb" />
<rect x="1251.00" y="1454.00" width="3.00" height="4.00" fill="#b2dfdb" />
<rect x="1256.00" y="1455.00" width="3.00" height="3.00" fill="#b2dfdb" />
<rect x="1261.00" y="1456.00" width="3.00" height="3.00" fill="#ef5350" />
<rect x="1267.00" y="1456.00" width="3.00" height="3.00" fill="#ef5350" />
<rect x="1272.00" y="1456.00" width="3.00" height="5.00" fill="#ef5350" />
<rect x="1277.00" y="1456.00" width="3.00" height="6.00" fill="#ef5350" />
<rect x="1282.00" y="1456.00" width="3.00" height="6.00" fill="#ef5350" />
<rect x="1287.00" y="1456.00" width="3.00" height="4.00" fill="#fbcdd2" />
<rect x="1292.00" y="1456.00" width="3.00" height="4.00" fill="#fbcdd2" />
<rect x="1298.00" y="1456.00" width="3.00" height="4.00" fill="#ef5350" />
<rect x="1303.00" y="1456.00" width="3.00" height="5.00" fill="#ef5350" />
<rect x="1308.00" y="1456.00" width="3.00" height="2.00" fill="#26a69a" />
<rect x="1313.00" y="1453.00" width="3.00" height="5.00" fill="#26a69a" />
<rect x="1318.00" y="1452.00" width="3.00" height="6.00" fill="#26a69a" />
<rect x="1324.00" y="1451.00" width="3.00" height="7.00" fill="#26a69a" />
<rect x="1329.00" y="1451.00" width="3.00" height="7.00" fill="#b2dfdb" />
<rect x="1334.00" y="1451.00" width="3.00" height="7.00" fill="#26a69a" />
<rect x="1339.00" y="1450.00" width="3.00" height="8.00" fill="#26a69a" />
<rect x="1344.00" y="1449.00" width="3.00" height="9.00" fill="#26a69a" />
<rect x="1350.00" y="1449.00" width="3.00" height="9.00" fill="#26a69a" />
<rect x="1355.00" y="1446.00" width="3.00" height="12.00" fill="#26a69a" />
<rect x="1360.00" y="1446.00" width="3.00" height="12.00" fill="#26a69a" />
<rect x="1365.00" y="1446.00" width="3.00" height="12.00" fill="#26a69a" />
<rect x="1370.00" y="1447.00" width="3.00" height="11.00" fill="#b2dfdb" />
<rect x="1376.00" y="1448.00" width="3.00" height="10.00" fill="#b2dfdb" />
<rect x="1381.00" y="1449.00" width="3.00" height="9.00" fill="#b2dfdb" />
<rect x="1386.00" y="1450.00" width="3.00" height="8.00" fill="#b2dfdb" />
<rect x="1391.00" y="1451.00" width="3.00" height="7.00" fill="#b2dfdb" />
<rect x="1396.00" y="1452.00" width="3.00" height="6.00" fill="#b2dfdb" />
<rect x="1402.00" y="1452.00" width="3.00" height="6.00" fill="#b2dfdb" />
<rect x="1407.00" y="1452.00" width="3.00" height="6.00" fill="#26a69a" />
<rect x="1412.00" y="1452.00" width="3.00" height="6.00" fill="#b2dfdb" />
<rect x="1417.00" y="1454.00" width="3.00" height="4.00" fill="#b2dfdb" />
<rect x="1422.00" y="1456.00" width="3.00" height="2.00" fill="#ef5350" />
<rect x="1428.00" y="1456.00" width="3.00" height="3.00" fill="#ef5350" />
<rect x="1433.00" y="1456.00" width="3.00" height="4.00" fill="#ef5350" />
<rect x="1438.00" y="1456.00" width="3.00" height="4.00" fill="#fbcdd2" />
<rect x="1443.00" y="1456.00" width="3.00" height="4.00" fill="#fbcdd2" />
<rect x="1448.00" y="1456.00" width="3.00" height="4.00" fill="#ef5350" />
<rect x="1453.00" y="1456.00" width="3.00" height="4.00" fill="#ef5350" />
<rect x="1459.00" y="1456.00" width="3.00" height="3.00" fill="#fbcdd2" />
<rect x="1464.00" y="1456.00" width="3.00" height="2.00" fill="#fbcdd2" />
<rect x="1469.00" y="1456.00" width="3.00" height="2.00" fill="#fbcdd2" />
<rect x="1474.00" y="1456.00" width="3.00" height="2.00" fill="#ef5350" />
<rect x="1479.00" y="1456.00" width="3.00" height="3.00" fill="#ef5350" />
<rect x="1485.00" y="1454.00" width="3.00" height="4.00" fill="#26a69a" />
<rect x="1490.00" y="1453.00" width="3.00" height="5.00" fill="#26a69a" />
<rect x="1495.00" y="1454.00" width="3.00" height="4.00" fill="#b2dfdb" />
<rect x="1500.00" y="1454.00" width="3.00" height="4.00" fill="#b2dfdb" />
<rect x="1505.00" y="1454.00" width="3.00" height="4.00" fill="#b2dfdb" />
<rect x="1511.00" y="1453.00" width="3.00" height="5.00" fill="#26a69a" />
<rect x="1516.00" y="1456.00" width="3.00" height="2.00" fill="#b2dfdb" />
<rect x="1521.00" y="1456.00" width="3.00" height="2.00" fill="#ef5350" />
<rect x="1526.00" y="1456.00" width="3.00" height="3.00" fill="#ef5350" />
<rect x="1531.00" y="1456.00" width="3.00" height="6.00" fill="#ef5350" />
<rect x="1537.00" y="1456.00" width="3.00" height="10.00" fill="#ef5350" />
<rect x="1542.00" y="1456.00" width="3.00" height="11.00" fill="#ef5350" />
<rect x="1547.00" y="1456.00" width="3.00" height="11.00" fill="#ef5350" />
<rect x="1552.00" y="1456.00" width="3.00" height="11.00" fill="#fbcdd2" />
<rect x="1557.00" y="1456.00" width="3.00" height="12.00" fill="#ef5350" />
<rect x="1563.00" y="1456.00" width="3.00" height="11.00" fill="#fbcdd2" />
<rect x="1568.00" y="1456.00" width="3.00" height="8.00" fill="#fbcdd2" />
<rect x="1573.00" y="1456.00" width="3.00" height="7.00" fill="#fbcdd2" />
<rect x="1578.00" y="1456.00" width="3.00" height="6.00" fill="#fbcdd2" />
<rect x="1583.00" y="1456.00" width="3.00" height="6.00" fill="#fbcdd2" />
<rect x="1589.00" y="1456.00" width="3.00" height="4.00" fill="#fbcdd2" />
<rect x="1594.00" y="1456.00" width="3.00" height="6.00" fill="#ef5350" />
<rect x="1599.00" y="1456.00" width="3.00" height="6.00" fill="#ef5350" />
<rect x="1604.00" y="1456.00" width="3.00" height="7.00" fill="#ef5350" />
<rect x="1609.00" y="1456.00" width="3.00" height="10.00" fill="#ef5350" />
<rect x="1614.00" y="1456.00" width="3.00" height="11.00" fill="#ef5350" />
<rect x="1620.00" y="1456.00" width="3.00" height="10.00" fill="#fbcdd2" />
<rect x="1625.00" y="1456.00" width="3.00" height="13.00" fill="#ef5350" />
<rect x="1630.00" y="1456.00" width="3.00" height="15.00" fill="#ef5350" />
<rect x="1635.00" y="1456.00" width="3.00" height="19.00" fill="#ef5350" />
<rect x="1640.00" y="1456.00" width="3.00" height="21.00" fill="#ef5350" />
<rect x="1646.00" y="1456.00" width="3.00" height="23.00" fill="#ef5350" />
<rect x="1651.00" y="1456.00" width="3.00" height="20.00" fill="#fbcdd2" />
<rect x="1656.00" y="1456.00" width="3.00" height="14.00" fill="#fbcdd2" />
<rect x="1661.00" y="1456.00" width="3.00" height="10.00" fill="#fbcdd2" />
<rect x="1666.00" y="1456.00" width="3.00" height="11.00" fill="#ef5350" />
<rect x="1672.00" y="1456.00" width="3.00" height="12.00" fill="#ef5350" />
<rect x="1677.00" y="1456.00" width="3.00" height="15.00" fill="#ef5350" />
<rect x="1682.00" y="1456.00" width="3.00" height="17.00" fill="#ef5350" />
<rect x="1687.00" y="1456.00" width="3.00" height="22.00" fill="#ef5350" />
<rect x="1692.00" y="1456.00" width="3.00" height="26.00" fill="#ef5350" />
<rect x="1698.00" y="1456.00" width="3.00" height="22.00" fill="#fbcdd2" />
<rect x="1703.00" y="1456.00" width="3.00" height="16.00" fill="#fbcdd2" />
<rect x="1708.00" y="1456.00" width="3.00" height="14.00" fill="#fbcdd2" />
<rect x="1713.00" y="1456.00" width="3.00" height="16.00" fill="#ef5350" />
<rect x="1718.00" y="1456.00" width="3.00" height="10.00" fill="#fbcdd2" />
<rect x="1724.00" y="1456.00" width="3.00" height="4.00" fill="#fbcdd2" />
<rect x="1729.00" y="1452.00" width="3.00" height="6.00" fill="#26a69a" />
<rect x="1734.00" y="1445.00" width="3.00" height="13.00" fill="#26a69a" />
<rect x="1739.00" y="1442.00" width="3.00" height="16.00" fill="#26a69a" />
<rect x="1744.00" y="1439.00" width="3.00" height="19.00" fill="#26a69a" />
<rect x="1750.00" y="1435.00" width="3.00" height="23.00" fill="#26a69a" />
<rect x="1755.00" y="1434.00" width="3.00" height="24.00" fill="#26a69a" />
<rect x="1760.00" y="1436.00" width="3.00" height="22.00" fill="#b2dfdb" />
<rect x="1765.00" y="1437.00" width="3.00" height="21.00" fill="#b2dfdb" />
<rect x="1770.00" y="1438.00" width="3.00" height="20.00" fill="#b2dfdb" />
<rect x="1775.00" y="1442.00" width="3.00" height="16.00" fill="#b2dfdb" />
<rect x="1781.00" y="1446.00" width="3.00" height="12.00" fill="#b2dfdb" />
<rect x="1786.00" y="1447.00" width="3.00" height="11.00" fill="#b2dfdb" />
<rect x="1791.00" y="1447.00" width="3.00" height="11.00" fill="#b2dfdb" />
<rect x="1796.00" y="1449.00" width="3.00" height="9.00" fill="#b2dfdb" />
<rect x="1801.00" y="1449.00" width="3.00" height="9.00" fill="#b2dfdb" />
<rect x="1807.00" y="1449.00" width="3.00" height="9.00" fill="#26a69a" />
<rect x="1812.00" y="1451.00" width="3.00" height="7.00" fill="#b2dfdb" />
<rect x="1817.00" y="1451.00" width="3.00" height="7.00" fill="#b2dfdb" />
<rect x="1822.00" y="1450.00" width="3.00" height="8.00" fill="#26a69a" />
<rect x="1827.00" y="1450.00" width="3.00" height="8.00" fill="#b2dfdb" />
<rect x="1833.00" y="1452.00" width="3.00" height="6.00" fill="#b2dfdb" />
<rect x="1838.00" y="1454.00" width="3.00" height="4.00" fill="#b2dfdb" />
<rect x="1843.00" y="1456.00" width="3.00" height="5.00" fill="#ef5350" />
<rect x="1848.00" y="1456.00" width="3.00" height="9.00" fill="#ef5350" />
<rect x="1853.00" y="1456.00" width="3.00" height="12.00" fill="#ef5350" />
<rect x="1859.00" y="1456.00" width="3.00" height="12.00" fill="#ef5350" />
<rect x="1864.00" y="1456.00" width="3.00" height="13.00" fill="#ef5350" />
<rect x="1869.00" y="1456.00" width="3.00" height="15.00" fill="#ef5350" />
<rect x="1874.00" y="1456.00" width="3.00" height="12.00" fill="#fbcdd2" />
<rect x="1879.00" y="1456.00" width="3.00" height="9.00" fill="#fbcdd2" />
<rect x="1885.00" y="1456.00" width="3.00" height="8.00" fill="#fbcdd2" />
<rect x="1890.00" y="1456.00" width="3.00" height="3.00" fill="#fbcdd2" />
<rect x="1895.00" y="1454.00" width="3.00" height="4.00" fill="#26a69a" />
<rect x="1900.00" y="1454.00" width="3.00" height="4.00" fill="#b2dfdb" />
<rect x="1905.00" y="1456.00" width="3.00" height="2.00" fill="#ef5350" />
<rect x="1911.00" y="1456.00" width="3.00" height="3.00" fill="#ef5350" />
<rect x="1916.00" y="1454.00" width="3.00" height="4.00" fill="#26a69a" />
<rect x="1921.00" y="1452.00" width="3.00" height="6.00" fill="#26a69a" />
<rect x="1926.00" y="1450.00" width="3.00" height="8.00" fill="#26a69a" />
<rect x="1931.00" y="1450.00" width="3.00" height="8.00" fill="#26a69a" />
<rect x="1936.00" y="1451.00" width="3.00" height="7.00" fill="#b2dfdb" />
<rect x="1942.00" y="1452.00" width="3.00" height="6.00" fill="#b2dfdb" />
<rect x="1947.00" y="1451.00" width="3.00" height="7.00" fill="#26a69a" />
<rect x="1952.00" y="1452.00" width="3.00" height="6.00" fill="#b2dfdb" />
<rect x="1957.00" y="1451.00" width="3.00" height="7.00" fill="#26a69a" />
<rect x="1962.00" y="1449.00" width="3.00" height="9.00" fill="#26a69a" />
<rect x="1968.00" y="1449.00" width="3.00" height="9.00" fill="#26a69a" />
<rect x="1973.00" y="1451.00" width="3.00" height="7.00" fill="#b2dfdb" />
<rect x="1978.00" y="1452.00" width="3.00" height="6.00" fill="#b2dfdb" />
<rect x="1983.00" y="1456.00" width="3.00" height="4.00" fill="#ef5350" />
<rect x="1988.00" y="1456.00" width="3.00" height="8.00" fill="#ef5350" />
<rect x="1994.00" y="1456.00" width="3.00" height="10.00" fill="#ef5350" />
<rect x="1999.00" y="1456.00" width="3.00" height="10.00" fill="#fbcdd2" />
<rect x="2004.00" y="1456.00" width="3.00" height="9.00" fill="#fbcdd2" />
<rect x="2009.00" y="1456.00" width="3.00" height="10.00" fill="#ef5350" />
<rect x="2014.00" y="1456.00" width="3.00" height="11.00" fill="#ef5350" />
<rect x="2020.00" y="1456.00" width="3.00" height="10.00" fill="#fbcdd2" />
<rect x="2025.00" y="1456.00" width="3.00" height="5.00" fill="#fbcdd2" />
<rect x="2030.00" y="1455.00" width="3.00" height="3.00" fill="#26a69a" />
<rect x="2035.00" y="1451.00" width="3.00" height="7.00" fill="#26a69a" />
<rect x="2040.00" y="1448.00" width="3.00" height="10.00" fill="#26a69a" />
<rect x="2046.00" y="1447.00" width="3.00" height="11.00" fill="#26a69a" />
<rect x="2051.00" y="1446.00" width="3.00" height="12.00" fill="#26a69a" />
<rect x="2056.00" y="1446.00" width="3.00" height="12.00" fill="#26a69a" />
<rect x="2061.00" y="1442.00" width="3.00" height="16.00" fill="#26a69a" />
<rect x="2066.00" y="1440.00" width="3.00" height="18.00" fill="#26a69a" />
<rect x="2072.00" y="1439.00" width="3.00" height="19.00" fill="#26a69a" />
<rect x="2077.00" y="1438.00" width="3.00" height="20.00" fill="#26a69a" />
<rect x="2082.00" y="1439.00" width="3.00" height="19.00" fill="#b2dfdb" />
<rect x="2087.00" y="1442.00" width="3.00" height="16.00" fill="#b2dfdb" />
<rect x="2092.00" y="1442.00" width="3.00" height="16.00" fill="#b2dfdb" />
<rect x="2097.00" y="1442.00" width="3.00" height="16.00" fill="#26a69a" />
<rect x="2103.00" y="1443.00" width="3.00" height="15.00" fill="#b2dfdb" />
<rect x="2108.00" y="1445.00" width="3.00" height="13.00" fill="#b2dfdb" />
<rect x="2113.00" y="1447.00" width="3.00" height="11.00" fill="#b2dfdb" />
<rect x="2118.00" y="1450.00" width="3.00" height="8.00" fill="#b2dfdb" />
<rect x="2123.00" y="1450.00" width="3.00" height="8.00" fill="#b2dfdb" />
<rect x="2129.00" y="1451.00" width="3.00" height="7.00" fill="#b2dfdb" />
<rect x="2134.00" y="1452.00" width="3.00" height="6.00" fill="#b2dfdb" />
<rect x="2139.00" y="1454.00" width="3.00" height="4.00" fill="#b2dfdb" />
<rect x="2144.00" y="1456.00" width="3.00" height="4.00" fill="#ef5350" />
<rect x="2149.00" y="1456.00" width="3.00" height="8.00" fill="#ef5350" />
<rect x="2155.00" y="1456.00" width="3.00" height="11.00" fill="#ef5350" />
<rect x="2160.00" y="1456.00" width="3.00" height="11.00" fill="#ef5350" />
<rect x="2165.00" y="1456.00" width="3.00" height="9.00" fill="#fbcdd2" />
<rect x="2170.00" y="1456.00" width="3.00" height="8.00" fill="#fbcdd2" />
<rect x="2175.00" y="1456.00" width="3.00" height="6.00" fill="#fbcdd2" />
<rect x="2181.00" y="1456.00" width="3.00" height="3.00" fill="#fbcdd2" />
<rect x="2186.00" y="1453.00" width="3.00" height="5.00" fill="#26a69a" />
<rect x="2191.00" y="1451.00" width="3.00" height="7.00" fill="#26a69a" />
<rect x="2196.00" y="1450.00" width="3.00" height="8.00" fill="#26a69a" />
<rect x="2201.00" y="1451.00" width="3.00" height="7.00" fill="#b2dfdb" />
<rect x="2207.00" y="1450.00" width="3.00" height="8.00" fill="#26a69a" />
<rect x="2212.00" y="1451.00" width="3.00" height="7.00" fill="#b2dfdb" />
<rect x="2217.00" y="1453.00" width="3.00" height="5.00" fill="#b2dfdb" />
<rect x="2222.00" y="1455.00" width="3.00" height="3.00" fill="#b2dfdb" />
<rect x="2227.00" y="1455.00" width="3.00" height="3.00" fill="#26a69a" />
<rect x="2233.00" y="1455.00" width="3.00" height="3.00" fill="#b2dfdb" />
</g>
<polyline points="16.3,1472.5 21.5,1472.5 26.7,1474.1 31.9,1474.3 37.1,1473.8 42.3,1475.6 47.5,1474.9 52.7,1472.7 57.9,1470.0 63.1,1468.8 68.2,1466.6 73.4,1464.9 78.6,1460.9 83.8,1457.1 89.0,1455.0 94.2,1453.6 99.4,1451.5 104.6,1451.2 109.8,1450.0 115.0,1450.7 120.2,1452.6 125.4,1453.2 130.6,1450.0 135.8,1444.7 141.0,1440.0 146.1,1438.7 151.3,1439.3 156.5,1441.7 161.7,1442.2 166.9,1442.3 172.1,1443.1 177.3,1445.7 182.5,1448.2 187.7,1449.6 192.9,1450.9 198.1,1452.4 203.3,1452.0 208.5,1451.2 213.7,1450.9 218.9,1450.5 224.1,1449.4 229.2,1449.1 234.4,1449.3 239.6,1450.5 244.8,1452.0 250.0,1453.5 255.2,1455.2 260.4,1455.5 265.6,1456.3 270.8,1459.1 276.0,1462.9 281.2,1464.6 286.4,1466.4 291.6,1466.7 296.8,1466.5 302.0,1466.3 307.1,1465.8 312.3,1465.7 317.5,1464.6 322.7,1463.2 327.9,1462.7 333.1,1463.9 338.3,1463.5 343.5,1462.4 348.7,1460.2 353.9,1456.9 359.1,1453.7 364.3,1452.3 369.5,1449.8 374.7,1446.2 379.9,1442.1 385.1,1440.3 390.2,1438.6 395.4,1437.3 400.6,1433.7 405.8,1428.3 411.0,1424.2 416.2,1421.9 421.4,1420.0 426.6,1417.6 431.8,1415.8 437.0,1414.7 442.2,1415.5 447.4,1416.1 452.6,1416.1 457.8,1413.5 463.0,1409.1 468.2,1407.8 473.3,1406.4 478.5,1403.7 483.7,1400.4 488.9,1401.6 494.1,1402.5 499.3,1403.3 504.5,1405.7 509.7,1410.4 514.9,1413.3 520.1,1419.5 525.3,1421.3 530.5,1421.7 535.7,1423.4 540.9,1427.8 546.1,1431.7 551.2,1432.2 556.4,1433.3 561.6,1432.5 566.8,1432.8 572.0,1432.8 577.2,1429.3 582.4,1425.2 587.6,1423.5 592.8,1423.8 598.0,1423.7 603.2,1423.9 608.4,1427.5 613.6,1430.0 618.8,1433.8 624.0,1436.1 629.2,1436.8 634.3,1438.6 639.5,1440.3 644.7,1442.1 649.9,1441.7 655.1,1441.3 660.3,1441.1 665.5,1443.1 670.7,1447.2 675.9,1451.5 681.1,1455.5 686.3,1457.7 691.5,1459.2 696.7,1461.1 701.9,1465.1 707.1,1471.1 712.2,1474.6 717.4,1476.5 722.6,1475.6 727.8,1473.7 733.0,1473.5 738.2,1473.9 743.4,1472.2 748.6,1468.6 753.8,1466.5 759.0,1462.5 764.2,1457.8 769.4,1450.7 774.6,1447.1 779.8,1445.2 785.0,1443.6 790.2,1439.2 795.3,1437.2 800.5,1435.7 805.7,1434.2 810.9,1432.7 816.1,1430.3 821.3,1430.1 826.5,1431.2 831.7,1431.6 836.9,1432.9 842.1,1432.1 847.3,1432.1 852.5,1432.1 857.7,1430.3 862.9,1428.8 868.1,1428.6 873.2,1428.1 878.4,1429.1 883.6,1430.2 888.8,1434.5 894.0,1440.2 899.2,1443.2 904.4,1445.4 909.6,1448.4 914.8,1449.8 920.0,1453.2 925.2,1453.7 930.4,1455.5 935.6,1455.8 940.8,1454.2 946.0,1453.3 951.2,1450.8 956.3,1448.4 961.5,1447.6 966.7,1446.5 971.9,1447.4 977.1,1446.9 982.3,1446.5 987.5,1447.9 992.7,1449.2 997.9,1449.9 1003.1,1450.8 1008.3,1450.8 1013.5,1449.9 1018.7,1449.3 1023.9,1445.3 1029.1,1442.6 1034.3,1440.2 1039.4,1438.9 1044.6,1437.3 1049.8,1435.6 1055.0,1435.5 1060.2,1438.4 1065.4,1439.6 1070.6,1443.9 1075.8,1445.8 1081.0,1446.5 1086.2,1448.8 1091.4,1450.3 1096.6,1450.7 1101.8,1450.9 1107.0,1450.0 1112.2,1450.9 1117.3,1449.7 1122.5,1449.4 1127.7,1448.7 1132.9,1448.8 1138.1,1450.5 1143.3,1452.5 1148.5,1453.9 1153.7,1454.9 1158.9,1454.3 1164.1,1455.5 1169.3,1459.5 1174.5,1464.3 1179.7,1468.2 1184.9,1469.4 1190.1,1469.4 1195.3,1467.6 1200.4,1465.1 1205.6,1462.7 1210.8,1460.2 1216.0,1458.0 1221.2,1458.4 1226.4,1459.3 1231.6,1458.7 1236.8,1456.7 1242.0,1456.2 1247.2,1456.4 1252.4,1456.2 1257.6,1457.3 1262.8,1458.7 1268.0,1459.8 1273.2,1462.1 1278.3,1463.7 1283.5,1465.0 1288.7,1464.1 1293.9,1464.5 1299.1,1465.3 1304.3,1466.2 1309.5,1462.9 1314.7,1459.9 1319.9,1458.0 1325.1,1455.3 1330.3,1454.1 1335.5,1452.7 1340.7,1450.5 1345.9,1447.6 1351.1,1445.8 1356.3,1440.8 1361.4,1437.9 1366.6,1435.4 1371.8,1433.9 1377.0,1432.9 1382.2,1432.6 1387.4,1431.4 1392.6,1431.4 1397.8,1430.9 1403.0,1430.5 1408.2,1429.1 1413.4,1428.7 1418.6,1430.1 1423.8,1432.1 1429.0,1433.6 1434.2,1434.7 1439.4,1434.9 1444.5,1435.2 1449.7,1436.4 1454.9,1437.1 1460.1,1435.6 1465.3,1435.4 1470.5,1435.1 1475.7,1435.3 1480.9,1436.2 1486.1,1433.0 1491.3,1430.7 1496.5,1431.2 1501.7,1430.7 1506.9,1430.6 1512.1,1429.0 1517.3,1431.4 1522.4,1432.3 1527.6,1433.6 1532.8,1436.6 1538.0,1442.5 1543.2,1445.9 1548.4,1448.9 1553.6,1450.7 1558.8,1454.2 1564.0,1455.1 1569.2,1454.4 1574.4,1454.9 1579.6,1454.4 1584.8,1454.8 1590.0,1454.2 1595.2,1456.5 1600.4,1457.5 1605.5,1459.7 1610.7,1464.3 1615.9,1467.9 1621.1,1469.3 1626.3,1474.6 1631.5,1479.8 1636.7,1488.7 1641.9,1494.5 1647.1,1502.2 1652.3,1503.3 1657.5,1500.2 1662.7,1498.7 1667.9,1501.4 1673.1,1505.1 1678.3,1511.4 1683.4,1517.8 1688.6,1527.7 1693.8,1537.7 1699.0,1537.8 1704.2,1535.9 1709.4,1537.1 1714.6,1542.0 1719.8,1538.7 1725.0,1532.6 1730.2,1525.2 1735.4,1516.5 1740.6,1509.8 1745.8,1502.8 1751.0,1493.7 1756.2,1487.0 1761.4,1483.9 1766.5,1479.8 1771.7,1476.3 1776.9,1477.5 1782.1,1478.6 1787.3,1477.0 1792.5,1475.2 1797.7,1475.2 1802.9,1473.8 1808.1,1471.8 1813.3,1472.5 1818.5,1471.3 1823.7,1468.5 1828.9,1467.5 1834.1,1468.9 1839.3,1470.2 1844.4,1475.1 1849.6,1481.6 1854.8,1486.8 1860.0,1489.4 1865.2,1493.7 1870.4,1498.1 1875.6,1497.8 1880.8,1496.9 1886.0,1497.2 1891.2,1492.2 1896.4,1488.6 1901.6,1488.3 1906.8,1490.7 1912.0,1491.2 1917.2,1488.0 1922.4,1485.5 1927.5,1482.2 1932.7,1480.5 1937.9,1480.3 1943.1,1479.6 1948.3,1477.9 1953.5,1478.3 1958.7,1476.1 1963.9,1472.5 1969.1,1469.9 1974.3,1471.0 1979.5,1471.2 1984.7,1477.4 1989.9,1482.6 1995.1,1487.5 2000.3,1489.6 2005.5,1490.4 2010.6,1493.0 2015.8,1495.7 2021.0,1496.7 2026.2,1493.1 2031.4,1488.2 2036.6,1483.7 2041.8,1478.5 2047.0,1474.7 2052.2,1471.5 2057.4,1468.6 2062.6,1461.8 2067.8,1455.0 2073.0,1449.9 2078.2,1444.0 2083.4,1441.7 2088.5,1440.6 2093.7,1437.9 2098.9,1434.3 2104.1,1431.9 2109.3,1431.1 2114.5,1430.7 2119.7,1431.7 2124.9,1431.2 2130.1,1431.0 2135.3,1430.7 2140.5,1432.2 2145.7,1436.6 2150.9,1442.2 2156.1,1447.4 2161.3,1450.2 2166.5,1450.1 2171.6,1450.3 2176.8,1449.1 2182.0,1446.7 2187.2,1442.3 2192.4,1439.1 2197.6,1436.5 2202.8,1435.5 2208.0,1433.3 2213.2,1433.2 2218.4,1434.0 2223.6,1436.7 2228.8,1435.7 2234.0,1435.9" fill="none" stroke="#1e96f5" stroke-width="2.25" stroke-linejoin="round" stroke-linecap="round"/>
<polyline points="16.3,1465.0 21.5,1466.5 26.7,1468.0 31.9,1469.3 37.1,1470.2 42.3,1471.3 47.5,1472.0 52.7,1472.1 57.9,1471.7 63.1,1471.1 68.2,1470.2 73.4,1469.2 78.6,1467.5 83.8,1465.4 89.0,1463.3 94.2,1461.4 99.4,1459.4 104.6,1457.8 109.8,1456.2 115.0,1455.1 120.2,1454.6 125.4,1454.3 130.6,1453.5 135.8,1451.7 141.0,1449.4 146.1,1447.2 151.3,1445.6 156.5,1444.8 161.7,1444.3 166.9,1443.9 172.1,1443.8 177.3,1444.1 182.5,1445.0 187.7,1445.9 192.9,1446.9 198.1,1448.0 203.3,1448.8 208.5,1449.3 213.7,1449.6 218.9,1449.8 224.1,1449.7 229.2,1449.6 234.4,1449.5 239.6,1449.7 244.8,1450.2 250.0,1450.9 255.2,1451.7 260.4,1452.5 265.6,1453.2 270.8,1454.4 276.0,1456.1 281.2,1457.8 286.4,1459.5 291.6,1461.0 296.8,1462.1 302.0,1462.9 307.1,1463.5 312.3,1463.9 317.5,1464.1 322.7,1463.9 327.9,1463.7 333.1,1463.7 338.3,1463.6 343.5,1463.4 348.7,1462.7 353.9,1461.6 359.1,1460.0 364.3,1458.5 369.5,1456.7 374.7,1454.6 379.9,1452.1 385.1,1449.8 390.2,1447.5 395.4,1445.5 400.6,1443.1 405.8,1440.2 411.0,1437.0 416.2,1433.9 421.4,1431.2 426.6,1428.4 431.8,1425.9 437.0,1423.7 442.2,1422.0 447.4,1420.9 452.6,1419.9 457.8,1418.6 463.0,1416.7 468.2,1414.9 473.3,1413.2 478.5,1411.3 483.7,1409.2 488.9,1407.6 494.1,1406.6 499.3,1406.0 504.5,1405.9 509.7,1406.8 514.9,1408.1 520.1,1410.4 525.3,1412.6 530.5,1414.4 535.7,1416.2 540.9,1418.5 546.1,1421.2 551.2,1423.4 556.4,1425.4 561.6,1426.8 566.8,1428.0 572.0,1428.9 577.2,1429.0 582.4,1428.2 587.6,1427.3 592.8,1426.6 598.0,1426.0 603.2,1425.6 608.4,1426.0 613.6,1426.8 618.8,1428.2 624.0,1429.8 629.2,1431.2 634.3,1432.7 639.5,1434.2 644.7,1435.8 649.9,1437.0 655.1,1437.8 660.3,1438.5 665.5,1439.4 670.7,1441.0 675.9,1443.1 681.1,1445.6 686.3,1448.0 691.5,1450.2 696.7,1452.4 701.9,1454.9 707.1,1458.2 712.2,1461.5 717.4,1464.5 722.6,1466.7 727.8,1468.1 733.0,1469.2 738.2,1470.1 743.4,1470.5 748.6,1470.1 753.8,1469.4 759.0,1468.0 764.2,1466.0 769.4,1462.9 774.6,1459.8 779.8,1456.8 785.0,1454.2 790.2,1451.2 795.3,1448.4 800.5,1445.9 805.7,1443.5 810.9,1441.4 816.1,1439.1 821.3,1437.3 826.5,1436.1 831.7,1435.2 836.9,1434.7 842.1,1434.2 847.3,1433.8 852.5,1433.4 857.7,1432.8 862.9,1432.0 868.1,1431.3 873.2,1430.7 878.4,1430.4 883.6,1430.3 888.8,1431.2 894.0,1433.0 899.2,1435.0 904.4,1437.1 909.6,1439.4 914.8,1441.4 920.0,1443.8 925.2,1445.8 930.4,1447.7 935.6,1449.3 940.8,1450.3 946.0,1450.9 951.2,1450.9 956.3,1450.4 961.5,1449.8 966.7,1449.2 971.9,1448.8 977.1,1448.4 982.3,1448.0 987.5,1448.0 992.7,1448.2 997.9,1448.6 1003.1,1449.0 1008.3,1449.4 1013.5,1449.5 1018.7,1449.5 1023.9,1448.6 1029.1,1447.4 1034.3,1446.0 1039.4,1444.6 1044.6,1443.1 1049.8,1441.6 1055.0,1440.4 1060.2,1440.0 1065.4,1439.9 1070.6,1440.7 1075.8,1441.7 1081.0,1442.7 1086.2,1443.9 1091.4,1445.2 1096.6,1446.3 1101.8,1447.2 1107.0,1447.8 1112.2,1448.4 1117.3,1448.7 1122.5,1448.8 1127.7,1448.8 1132.9,1448.8 1138.1,1449.1 1143.3,1449.8 1148.5,1450.6 1153.7,1451.5 1158.9,1452.0 1164.1,1452.7 1169.3,1454.1 1174.5,1456.1 1179.7,1458.5 1184.9,1460.7 1190.1,1462.4 1195.3,1463.5 1200.4,1463.8 1205.6,1463.6 1210.8,1462.9 1216.0,1461.9 1221.2,1461.2 1226.4,1460.8 1231.6,1460.4 1236.8,1459.7 1242.0,1459.0 1247.2,1458.4 1252.4,1458.0 1257.6,1457.9 1262.8,1458.0 1268.0,1458.4 1273.2,1459.1 1278.3,1460.0 1283.5,1461.0 1288.7,1461.6 1293.9,1462.2 1299.1,1462.8 1304.3,1463.5 1309.5,1463.4 1314.7,1462.7 1319.9,1461.7 1325.1,1460.5 1330.3,1459.2 1335.5,1457.9 1340.7,1456.4 1345.9,1454.6 1351.1,1452.9 1356.3,1450.4 1361.4,1447.9 1366.6,1445.4 1371.8,1443.1 1377.0,1441.1 1382.2,1439.4 1387.4,1437.8 1392.6,1436.5 1397.8,1435.4 1403.0,1434.4 1408.2,1433.3 1413.4,1432.4 1418.6,1432.0 1423.8,1432.0 1429.0,1432.3 1434.2,1432.8 1439.4,1433.2 1444.5,1433.6 1449.7,1434.2 1454.9,1434.8 1460.1,1434.9 1465.3,1435.0 1470.5,1435.0 1475.7,1435.1 1480.9,1435.3 1486.1,1434.8 1491.3,1434.0 1496.5,1433.5 1501.7,1432.9 1506.9,1432.5 1512.1,1431.8 1517.3,1431.7 1522.4,1431.8 1527.6,1432.2 1532.8,1433.1 1538.0,1434.9 1543.2,1437.1 1548.4,1439.5 1553.6,1441.7 1558.8,1444.2 1564.0,1446.4 1569.2,1448.0 1574.4,1449.4 1579.6,1450.4 1584.8,1451.3 1590.0,1451.8 1595.2,1452.8 1600.4,1453.7 1605.5,1454.9 1610.7,1456.8 1615.9,1459.0 1621.1,1461.1 1626.3,1463.8 1631.5,1467.0 1636.7,1471.3 1641.9,1476.0 1647.1,1481.2 1652.3,1485.6 1657.5,1488.5 1662.7,1490.6 1667.9,1492.7 1673.1,1495.2 1678.3,1498.4 1683.4,1502.3 1688.6,1507.4 1693.8,1513.4 1699.0,1518.3 1704.2,1521.8 1709.4,1524.9 1714.6,1528.3 1719.8,1530.4 1725.0,1530.8 1730.2,1529.7 1735.4,1527.1 1740.6,1523.6 1745.8,1519.4 1751.0,1514.3 1756.2,1508.8 1761.4,1503.9 1766.5,1499.1 1771.7,1494.5 1776.9,1491.1 1782.1,1488.6 1787.3,1486.3 1792.5,1484.1 1797.7,1482.3 1802.9,1480.6 1808.1,1478.8 1813.3,1477.6 1818.5,1476.3 1823.7,1474.8 1828.9,1473.3 1834.1,1472.4 1839.3,1472.0 1844.4,1472.6 1849.6,1474.4 1854.8,1476.9 1860.0,1479.4 1865.2,1482.3 1870.4,1485.4 1875.6,1487.9 1880.8,1489.7 1886.0,1491.2 1891.2,1491.4 1896.4,1490.8 1901.6,1490.3 1906.8,1490.4 1912.0,1490.6 1917.2,1490.1 1922.4,1489.1 1927.5,1487.8 1932.7,1486.3 1937.9,1485.1 1943.1,1484.0 1948.3,1482.8 1953.5,1481.9 1958.7,1480.7 1963.9,1479.1 1969.1,1477.2 1974.3,1476.0 1979.5,1475.0 1984.7,1475.5 1989.9,1476.9 1995.1,1479.0 2000.3,1481.2 2005.5,1483.0 2010.6,1485.0 2015.8,1487.2 2021.0,1489.1 2026.2,1489.9 2031.4,1489.5 2036.6,1488.4 2041.8,1486.4 2047.0,1484.1 2052.2,1481.5 2057.4,1479.0 2062.6,1475.5 2067.8,1471.4 2073.0,1467.1 2078.2,1462.5 2083.4,1458.3 2088.5,1454.8 2093.7,1451.4 2098.9,1448.0 2104.1,1444.8 2109.3,1442.0 2114.5,1439.8 2119.7,1438.2 2124.9,1436.8 2130.1,1435.6 2135.3,1434.6 2140.5,1434.1 2145.7,1434.6 2150.9,1436.2 2156.1,1438.4 2161.3,1440.7 2166.5,1442.6 2171.6,1444.2 2176.8,1445.2 2182.0,1445.5 2187.2,1444.8 2192.4,1443.7 2197.6,1442.2 2202.8,1440.9 2208.0,1439.4 2213.2,1438.1 2218.4,1437.3 2223.6,1437.2 2228.8,1436.9 2234.0,1436.7" fill="none" stroke="#ff6d00" stroke-width="2.25" stroke-linejoin="round" stroke-linecap="round"/>
</g>
<g shape-rendering="crispEdges">
<rect x="12.00" y="86.00" width="2564.00" height="2.00" fill="#4a4a4a" />
<rect x="12.00" y="86.00" width="2.00" height="1524.00" fill="#4a4a4a" />
<rect x="2574.00" y="86.00" width="2.00" height="1524.00" fill="#4a4a4a" />
<rect x="12.00" y="1608.00" width="2564.00" height="2.00" fill="#4a4a4a" />
<rect x="2458.00" y="86.00" width="2.00" height="1522.00" fill="#4a4a4a" />
<rect x="12.00" y="1199.00" width="2562.00" height="2.00" fill="#4a4a4a" />
<rect x="12.00" y="1390.00" width="2562.00" height="2.00" fill="#4a4a4a" />
<rect x="12.00" y="1552.00" width="2562.00" height="2.00" fill="#4a4a4a" />
</g>
<g clip-path="url(#ca1)">
<rect x="2460.00" y="1176.00" width="8.00" height="2.00" fill="#4a4a4a" shape-rendering="crispEdges"/>
<text x="2477.20" y="1184.79" font-size="23.2" fill="#4a4a4a" font-weight="normal" text-anchor="start" textLength="76.6" lengthAdjust="spacingAndGlyphs" stroke="#4a4a4a" stroke-width="0.45">1150.00</text>
<rect x="2460.00" y="1119.00" width="8.00" height="2.00" fill="#4a4a4a" shape-rendering="crispEdges"/>
<text x="2477.20" y="1127.90" font-size="23.2" fill="#4a4a4a" font-weight="normal" text-anchor="start" textLength="76.6" lengthAdjust="spacingAndGlyphs" stroke="#4a4a4a" stroke-width="0.45">1200.00</text>
<rect x="2460.00" y="1062.00" width="8.00" height="2.00" fill="#4a4a4a" shape-rendering="crispEdges"/>
<text x="2477.20" y="1071.01" font-size="23.2" fill="#4a4a4a" font-weight="normal" text-anchor="start" textLength="76.6" lengthAdjust="spacingAndGlyphs" stroke="#4a4a4a" stroke-width="0.45">1250.00</text>
<rect x="2460.00" y="1005.00" width="8.00" height="2.00" fill="#4a4a4a" shape-rendering="crispEdges"/>
<text x="2477.20" y="1014.12" font-size="23.2" fill="#4a4a4a" font-weight="normal" text-anchor="start" textLength="76.6" lengthAdjust="spacingAndGlyphs" stroke="#4a4a4a" stroke-width="0.45">1300.00</text>
<rect x="2460.00" y="948.00" width="8.00" height="2.00" fill="#4a4a4a" shape-rendering="crispEdges"/>
<text x="2477.20" y="957.23" font-size="23.2" fill="#4a4a4a" font-weight="normal" text-anchor="start" textLength="76.6" lengthAdjust="spacingAndGlyphs" stroke="#4a4a4a" stroke-width="0.45">1350.00</text>
<rect x="2460.00" y="891.00" width="8.00" height="2.00" fill="#4a4a4a" shape-rendering="crispEdges"/>
<text x="2477.20" y="900.34" font-size="23.2" fill="#4a4a4a" font-weight="normal" text-anchor="start" textLength="76.6" lengthAdjust="spacingAndGlyphs" stroke="#4a4a4a" stroke-width="0.45">1400.00</text>
<rect x="2460.00" y="834.00" width="8.00" height="2.00" fill="#4a4a4a" shape-rendering="crispEdges"/>
<text x="2477.20" y="843.45" font-size="23.2" fill="#4a4a4a" font-weight="normal" text-anchor="start" textLength="76.6" lengthAdjust="spacingAndGlyphs" stroke="#4a4a4a" stroke-width="0.45">1450.00</text>
<rect x="2460.00" y="778.00" width="8.00" height="2.00" fill="#4a4a4a" shape-rendering="crispEdges"/>
<text x="2477.20" y="786.56" font-size="23.2" fill="#4a4a4a" font-weight="normal" text-anchor="start" textLength="76.6" lengthAdjust="spacingAndGlyphs" stroke="#4a4a4a" stroke-width="0.45">1500.00</text>
<rect x="2460.00" y="721.00" width="8.00" height="2.00" fill="#4a4a4a" shape-rendering="crispEdges"/>
<text x="2477.20" y="729.67" font-size="23.2" fill="#4a4a4a" font-weight="normal" text-anchor="start" textLength="76.6" lengthAdjust="spacingAndGlyphs" stroke="#4a4a4a" stroke-width="0.45">1550.00</text>
<rect x="2460.00" y="664.00" width="8.00" height="2.00" fill="#4a4a4a" shape-rendering="crispEdges"/>
<text x="2477.20" y="672.78" font-size="23.2" fill="#4a4a4a" font-weight="normal" text-anchor="start" textLength="76.6" lengthAdjust="spacingAndGlyphs" stroke="#4a4a4a" stroke-width="0.45">1600.00</text>
<rect x="2460.00" y="607.00" width="8.00" height="2.00" fill="#4a4a4a" shape-rendering="crispEdges"/>
<text x="2477.20" y="615.89" font-size="23.2" fill="#4a4a4a" font-weight="normal" text-anchor="start" textLength="76.6" lengthAdjust="spacingAndGlyphs" stroke="#4a4a4a" stroke-width="0.45">1650.00</text>
<rect x="2460.00" y="550.00" width="8.00" height="2.00" fill="#4a4a4a" shape-rendering="crispEdges"/>
<text x="2477.20" y="559.00" font-size="23.2" fill="#4a4a4a" font-weight="normal" text-anchor="start" textLength="76.6" lengthAdjust="spacingAndGlyphs" stroke="#4a4a4a" stroke-width="0.45">1700.00</text>
<rect x="2460.00" y="493.00" width="8.00" height="2.00" fill="#4a4a4a" shape-rendering="crispEdges"/>
<text x="2477.20" y="502.11" font-size="23.2" fill="#4a4a4a" font-weight="normal" text-anchor="start" textLength="76.6" lengthAdjust="spacingAndGlyphs" stroke="#4a4a4a" stroke-width="0.45">1750.00</text>
<rect x="2460.00" y="436.00" width="8.00" height="2.00" fill="#4a4a4a" shape-rendering="crispEdges"/>
<text x="2477.20" y="445.22" font-size="23.2" fill="#4a4a4a" font-weight="normal" text-anchor="start" textLength="76.6" lengthAdjust="spacingAndGlyphs" stroke="#4a4a4a" stroke-width="0.45">1800.00</text>
<rect x="2460.00" y="379.00" width="8.00" height="2.00" fill="#4a4a4a" shape-rendering="crispEdges"/>
<text x="2477.20" y="388.33" font-size="23.2" fill="#4a4a4a" font-weight="normal" text-anchor="start" textLength="76.6" lengthAdjust="spacingAndGlyphs" stroke="#4a4a4a" stroke-width="0.45">1850.00</text>
<rect x="2460.00" y="322.00" width="8.00" height="2.00" fill="#4a4a4a" shape-rendering="crispEdges"/>
<text x="2477.20" y="331.44" font-size="23.2" fill="#4a4a4a" font-weight="normal" text-anchor="start" textLength="76.6" lengthAdjust="spacingAndGlyphs" stroke="#4a4a4a" stroke-width="0.45">1900.00</text>
<rect x="2460.00" y="266.00" width="8.00" height="2.00" fill="#4a4a4a" shape-rendering="crispEdges"/>
<text x="2477.20" y="274.55" font-size="23.2" fill="#4a4a4a" font-weight="normal" text-anchor="start" textLength="76.6" lengthAdjust="spacingAndGlyphs" stroke="#4a4a4a" stroke-width="0.45">1950.00</text>
<rect x="2460.00" y="209.00" width="8.00" height="2.00" fill="#4a4a4a" shape-rendering="crispEdges"/>
<text x="2477.20" y="217.66" font-size="23.2" fill="#4a4a4a" font-weight="normal" text-anchor="start" textLength="76.6" lengthAdjust="spacingAndGlyphs" stroke="#4a4a4a" stroke-width="0.45">2000.00</text>
<rect x="2460.00" y="152.00" width="8.00" height="2.00" fill="#4a4a4a" shape-rendering="crispEdges"/>
<text x="2477.20" y="160.77" font-size="23.2" fill="#4a4a4a" font-weight="normal" text-anchor="start" textLength="76.6" lengthAdjust="spacingAndGlyphs" stroke="#4a4a4a" stroke-width="0.45">2050.00</text>
<rect x="2460.00" y="95.00" width="8.00" height="2.00" fill="#4a4a4a" shape-rendering="crispEdges"/>
<text x="2477.20" y="103.88" font-size="23.2" fill="#4a4a4a" font-weight="normal" text-anchor="start" textLength="76.6" lengthAdjust="spacingAndGlyphs" stroke="#4a4a4a" stroke-width="0.45">2100.00</text>
</g>
<rect x="2460.00" y="1243.00" width="8.00" height="2.00" fill="#4a4a4a" shape-rendering="crispEdges"/>
<text x="2477.20" y="1252.00" font-size="23.2" fill="#4a4a4a" font-weight="normal" text-anchor="start" textLength="53.0" lengthAdjust="spacingAndGlyphs" stroke="#4a4a4a" stroke-width="0.45">80.00</text>
<rect x="2460.00" y="1310.00" width="8.00" height="2.00" fill="#4a4a4a" shape-rendering="crispEdges"/>
<text x="2477.20" y="1319.00" font-size="23.2" fill="#4a4a4a" font-weight="normal" text-anchor="start" textLength="53.0" lengthAdjust="spacingAndGlyphs" stroke="#4a4a4a" stroke-width="0.45">40.00</text>
<rect x="2460.00" y="1378.00" width="8.00" height="2.00" fill="#4a4a4a" shape-rendering="crispEdges"/>
<text x="2477.20" y="1387.00" font-size="23.2" fill="#4a4a4a" font-weight="normal" text-anchor="start" textLength="41.2" lengthAdjust="spacingAndGlyphs" stroke="#4a4a4a" stroke-width="0.45">0.00</text>
<g clip-path="url(#ca3)">
<rect x="2460.00" y="1456.00" width="8.00" height="2.00" fill="#4a4a4a" shape-rendering="crispEdges"/>
<text x="2477.20" y="1465.00" font-size="23.2" fill="#4a4a4a" font-weight="normal" text-anchor="start" textLength="41.2" lengthAdjust="spacingAndGlyphs" stroke="#4a4a4a" stroke-width="0.45">0.00</text>
<rect x="2460.00" y="1545.00" width="8.00" height="2.00" fill="#4a4a4a" shape-rendering="crispEdges"/>
<text x="2477.20" y="1554.00" font-size="23.2" fill="#4a4a4a" font-weight="normal" text-anchor="start" textLength="76.6" lengthAdjust="spacingAndGlyphs" stroke="#4a4a4a" stroke-width="0.45">−100.00</text>
</g>
<path d="M2458 421 H2561 Q2566 421 2566 426 V448 Q2566 453 2561 453 H2458 Z" fill="#ff00ff"/>
<rect x="2458.00" y="436.00" width="10.00" height="2.00" fill="#ffffff" shape-rendering="crispEdges"/>
<text x="2478.20" y="445.40" font-size="23.2" fill="#ffffff" font-weight="normal" text-anchor="start" textLength="75.6" lengthAdjust="spacingAndGlyphs" stroke="#ffffff" stroke-width="0.45">1800.00</text>
<path d="M2458 640 H2561 Q2566 640 2566 645 V667 Q2566 672 2561 672 H2458 Z" fill="#eb4d5c"/>
<rect x="2458.00" y="655.00" width="10.00" height="2.00" fill="#ffffff" shape-rendering="crispEdges"/>
<text x="2478.20" y="664.40" font-size="23.2" fill="#ffffff" font-weight="normal" text-anchor="start" textLength="75.6" lengthAdjust="spacingAndGlyphs" stroke="#ffffff" stroke-width="0.45">1607.61</text>
<path d="M2458 763 H2561 Q2566 763 2566 768 V790 Q2566 795 2561 795 H2458 Z" fill="#8b0000"/>
<rect x="2458.00" y="778.00" width="10.00" height="2.00" fill="#ffffff" shape-rendering="crispEdges"/>
<text x="2478.20" y="787.40" font-size="23.2" fill="#ffffff" font-weight="normal" text-anchor="start" textLength="75.6" lengthAdjust="spacingAndGlyphs" stroke="#ffffff" stroke-width="0.45">1500.00</text>
<path d="M2458 935 H2561 Q2566 935 2566 940 V962 Q2566 967 2561 967 H2458 Z" fill="#ff0000"/>
<rect x="2458.00" y="950.00" width="10.00" height="2.00" fill="#ffffff" shape-rendering="crispEdges"/>
<text x="2478.20" y="959.40" font-size="23.2" fill="#ffffff" font-weight="normal" text-anchor="start" textLength="75.6" lengthAdjust="spacingAndGlyphs" stroke="#ffffff" stroke-width="0.45">1348.56</text>
<path d="M2458 1047 H2561 Q2566 1047 2566 1052 V1074 Q2566 1079 2561 1079 H2458 Z" fill="#ff9800"/>
<rect x="2458.00" y="1062.00" width="10.00" height="2.00" fill="#000000" shape-rendering="crispEdges"/>
<text x="2478.20" y="1071.40" font-size="23.2" fill="#000000" font-weight="normal" text-anchor="start" textLength="75.6" lengthAdjust="spacingAndGlyphs" stroke="#000000" stroke-width="0.45">1250.00</text>
<rect x="2487" y="101" width="58" height="32" rx="7" ry="7" fill="#ffffff" stroke="#cdd0db" stroke-width="2"/>
<text x="2496.80" y="125.00" font-size="21.8" fill="#4a4a4a" font-weight="normal" text-anchor="start" textLength="38.0" lengthAdjust="spacingAndGlyphs" stroke="#4a4a4a" stroke-width="0.4">USD</text>
<rect x="103.00" y="1554.00" width="2.00" height="8.00" fill="#4a4a4a" shape-rendering="crispEdges"/>
<text x="92.70" y="1589.00" font-size="23.2" fill="#4a4a4a" font-weight="normal" text-anchor="start" textLength="21.6" lengthAdjust="spacingAndGlyphs" stroke="#4a4a4a" stroke-width="0.4">29</text>
<rect x="290.00" y="1554.00" width="2.00" height="8.00" fill="#4a4a4a" shape-rendering="crispEdges"/>
<text x="272.90" y="1589.00" font-size="23.2" fill="#4a4a4a" font-weight="bold" text-anchor="start" textLength="35.2" lengthAdjust="spacingAndGlyphs" stroke="#4a4a4a" stroke-width="0.4">Feb</text>
<rect x="477.00" y="1554.00" width="2.00" height="8.00" fill="#4a4a4a" shape-rendering="crispEdges"/>
<text x="472.10" y="1589.00" font-size="23.2" fill="#4a4a4a" font-weight="normal" text-anchor="start" textLength="10.8" lengthAdjust="spacingAndGlyphs" stroke="#4a4a4a" stroke-width="0.4">4</text>
<rect x="726.00" y="1554.00" width="2.00" height="8.00" fill="#4a4a4a" shape-rendering="crispEdges"/>
<text x="721.10" y="1589.00" font-size="23.2" fill="#4a4a4a" font-weight="normal" text-anchor="start" textLength="10.8" lengthAdjust="spacingAndGlyphs" stroke="#4a4a4a" stroke-width="0.4">8</text>
<rect x="913.00" y="1554.00" width="2.00" height="8.00" fill="#4a4a4a" shape-rendering="crispEdges"/>
<text x="902.70" y="1589.00" font-size="23.2" fill="#4a4a4a" font-weight="normal" text-anchor="start" textLength="21.6" lengthAdjust="spacingAndGlyphs" stroke="#4a4a4a" stroke-width="0.4">11</text>
<rect x="1163.00" y="1554.00" width="2.00" height="8.00" fill="#4a4a4a" shape-rendering="crispEdges"/>
<text x="1152.70" y="1589.00" font-size="23.2" fill="#4a4a4a" font-weight="normal" text-anchor="start" textLength="21.6" lengthAdjust="spacingAndGlyphs" stroke="#4a4a4a" stroke-width="0.4">15</text>
<rect x="1350.00" y="1554.00" width="2.00" height="8.00" fill="#4a4a4a" shape-rendering="crispEdges"/>
<text x="1339.70" y="1589.00" font-size="23.2" fill="#4a4a4a" font-weight="normal" text-anchor="start" textLength="21.6" lengthAdjust="spacingAndGlyphs" stroke="#4a4a4a" stroke-width="0.4">18</text>
<rect x="1599.00" y="1554.00" width="2.00" height="8.00" fill="#4a4a4a" shape-rendering="crispEdges"/>
<text x="1588.70" y="1589.00" font-size="23.2" fill="#4a4a4a" font-weight="normal" text-anchor="start" textLength="21.6" lengthAdjust="spacingAndGlyphs" stroke="#4a4a4a" stroke-width="0.4">22</text>
<rect x="1786.00" y="1554.00" width="2.00" height="8.00" fill="#4a4a4a" shape-rendering="crispEdges"/>
<text x="1775.70" y="1589.00" font-size="23.2" fill="#4a4a4a" font-weight="normal" text-anchor="start" textLength="21.6" lengthAdjust="spacingAndGlyphs" stroke="#4a4a4a" stroke-width="0.4">25</text>
<rect x="2035.00" y="1554.00" width="2.00" height="8.00" fill="#4a4a4a" shape-rendering="crispEdges"/>
<text x="2017.35" y="1589.00" font-size="23.2" fill="#4a4a4a" font-weight="bold" text-anchor="start" textLength="36.3" lengthAdjust="spacingAndGlyphs" stroke="#4a4a4a" stroke-width="0.4">Mar</text>
<rect x="2222.00" y="1554.00" width="2.00" height="8.00" fill="#4a4a4a" shape-rendering="crispEdges"/>
<text x="2217.10" y="1589.00" font-size="23.2" fill="#4a4a4a" font-weight="normal" text-anchor="start" textLength="10.8" lengthAdjust="spacingAndGlyphs" stroke="#4a4a4a" stroke-width="0.4">4</text>
<text x="13.00" y="32.80" font-size="24" fill="#131722" font-weight="bold" text-anchor="start" textLength="66.5" lengthAdjust="spacingAndGlyphs" >FilFox</text>
<text x="86.50" y="32.80" font-size="24" fill="#131722" font-weight="normal" text-anchor="start" textLength="113.2" lengthAdjust="spacingAndGlyphs" >published</text>
<text x="203.50" y="32.80" font-size="24" fill="#131722" font-weight="normal" text-anchor="start" textLength="30.2" lengthAdjust="spacingAndGlyphs" >on</text>
<text x="239.00" y="32.80" font-size="24" fill="#131722" font-weight="normal" text-anchor="start" textLength="205.9" lengthAdjust="spacingAndGlyphs" >TradingView.com,</text>
<text x="451.30" y="32.80" font-size="24" fill="#131722" font-weight="normal" text-anchor="start" textLength="73.4" lengthAdjust="spacingAndGlyphs" >March</text>
<text x="529.80" y="32.80" font-size="24" fill="#131722" font-weight="normal" text-anchor="start" textLength="34.4" lengthAdjust="spacingAndGlyphs" >04,</text>
<text x="571.40" y="32.80" font-size="24" fill="#131722" font-weight="normal" text-anchor="start" textLength="56.6" lengthAdjust="spacingAndGlyphs" >2021</text>
<text x="633.70" y="32.80" font-size="24" fill="#131722" font-weight="normal" text-anchor="start" textLength="100.2" lengthAdjust="spacingAndGlyphs" >05:51:33</text>
<text x="739.80" y="32.80" font-size="24" fill="#131722" font-weight="normal" text-anchor="start" textLength="42.0" lengthAdjust="spacingAndGlyphs" >+03</text>
<text x="13.00" y="67.00" font-size="24.6" fill="#131722" font-weight="bold" text-anchor="start" textLength="275.6" lengthAdjust="spacingAndGlyphs" >BITSTAMP:ETHUSD, 120</text>
<text x="300.50" y="67.00" font-size="25" fill="#131722" font-weight="normal" text-anchor="start" textLength="88.5" lengthAdjust="spacingAndGlyphs" >1607.61</text>
<path d="M396.9 67 L407 47.2 L417.1 67 Z" fill="#26a69a"/>
<text x="425.50" y="67.00" font-size="25" fill="#131722" font-weight="normal" text-anchor="start" textLength="181.5" lengthAdjust="spacingAndGlyphs" >+39.61 (+2.53%)</text>
<text x="614.50" y="67.00" font-size="24.6" fill="#131722" font-weight="bold" text-anchor="start" textLength="26.7" lengthAdjust="spacingAndGlyphs" >O:</text>
<text x="644.20" y="67.00" font-size="25" fill="#26a69a" font-weight="normal" text-anchor="start" textLength="91.2" lengthAdjust="spacingAndGlyphs" >1618.00</text>
<text x="743.30" y="67.00" font-size="24.6" fill="#131722" font-weight="bold" text-anchor="start" textLength="24.9" lengthAdjust="spacingAndGlyphs" >H:</text>
<text x="771.50" y="67.00" font-size="25" fill="#26a69a" font-weight="normal" text-anchor="start" textLength="90.2" lengthAdjust="spacingAndGlyphs" >1625.39</text>
<text x="870.50" y="67.00" font-size="24.6" fill="#131722" font-weight="bold" text-anchor="start" textLength="19.0" lengthAdjust="spacingAndGlyphs" >L:</text>
<text x="892.50" y="67.00" font-size="25" fill="#26a69a" font-weight="normal" text-anchor="start" textLength="90.0" lengthAdjust="spacingAndGlyphs" >1605.24</text>
<text x="990.10" y="67.00" font-size="24.6" fill="#131722" font-weight="bold" text-anchor="start" textLength="22.9" lengthAdjust="spacingAndGlyphs" >C:</text>
<text x="1016.00" y="67.00" font-size="25" fill="#26a69a" font-weight="normal" text-anchor="start" textLength="90.8" lengthAdjust="spacingAndGlyphs" >1607.61</text>
<g>
<g fill="#2196f3">
<circle cx="33.8" cy="1642.7" r="11.8"/>
<circle cx="21.7" cy="1651.4" r="9.8"/>
<circle cx="54.4" cy="1651.5" r="9.7"/>
<circle cx="50.3" cy="1646.6" r="7.7"/>
<rect x="21.7" y="1648" width="32.7" height="13.2"/>
</g>
<polyline points="11.5,1657.8 31.8,1642.5 43.9,1653.3 59,1639.3" fill="none" stroke="#ffffff" stroke-width="2.2"/>
<circle cx="31.8" cy="1642.5" r="3.8" fill="#ffffff"/>
<circle cx="43.9" cy="1653.3" r="3.8" fill="#ffffff"/>
</g>
<text x="68.30" y="1653.60" font-size="24" fill="#131722" font-weight="normal" text-anchor="start" textLength="141.0" lengthAdjust="spacingAndGlyphs" >TradingView</text>
</svg>
</body></html>
